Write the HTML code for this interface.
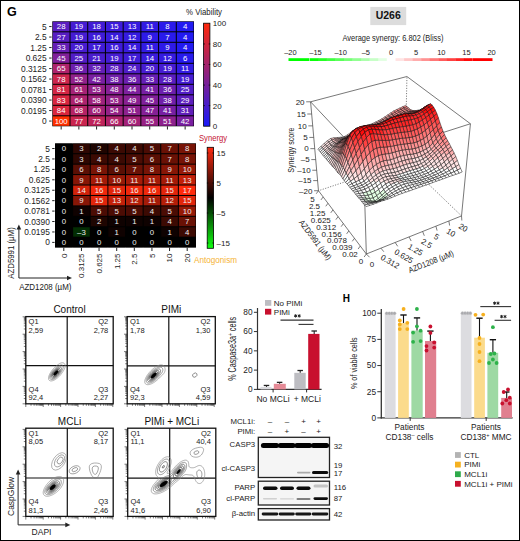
<!DOCTYPE html>
<html><head><meta charset="utf-8"><style>
html,body{margin:0;padding:0;background:#fff;}
svg{display:block;}
text{font-family:"Liberation Sans",sans-serif;}
</style></head><body>
<svg width="520" height="541" viewBox="0 0 520 541" font-family="Liberation Sans, sans-serif">
<rect x="0" y="0" width="520" height="541" fill="#fff"/>
<text x="7.00" y="15.50" font-size="12.5" text-anchor="start" fill="#000" font-weight="bold" >G</text>
<rect x="52.30" y="21.30" width="141.70" height="105.00" fill="#000" stroke="none" stroke-width="0" />
<rect x="52.80" y="21.80" width="16.71" height="9.50" fill="#591dc0" stroke="none" stroke-width="0" />
<text x="61.16" y="29.35" font-size="7.8" text-anchor="middle" fill="#fff" font-weight="normal" >28</text>
<rect x="70.51" y="21.80" width="16.71" height="9.50" fill="#451cd3" stroke="none" stroke-width="0" />
<text x="78.87" y="29.35" font-size="7.8" text-anchor="middle" fill="#fff" font-weight="normal" >19</text>
<rect x="88.22" y="21.80" width="16.71" height="9.50" fill="#421cd5" stroke="none" stroke-width="0" />
<text x="96.58" y="29.35" font-size="7.8" text-anchor="middle" fill="#fff" font-weight="normal" >18</text>
<rect x="105.94" y="21.80" width="16.71" height="9.50" fill="#3c1bdb" stroke="none" stroke-width="0" />
<text x="114.29" y="29.35" font-size="7.8" text-anchor="middle" fill="#fff" font-weight="normal" >15</text>
<rect x="123.65" y="21.80" width="16.71" height="9.50" fill="#371bdf" stroke="none" stroke-width="0" />
<text x="132.01" y="29.35" font-size="7.8" text-anchor="middle" fill="#fff" font-weight="normal" >13</text>
<rect x="141.36" y="21.80" width="16.71" height="9.50" fill="#321be3" stroke="none" stroke-width="0" />
<text x="149.72" y="29.35" font-size="7.8" text-anchor="middle" fill="#fff" font-weight="normal" >11</text>
<rect x="159.07" y="21.80" width="16.71" height="9.50" fill="#2b1aea" stroke="none" stroke-width="0" />
<text x="167.43" y="29.35" font-size="7.8" text-anchor="middle" fill="#fff" font-weight="normal" >8</text>
<rect x="176.79" y="21.80" width="16.71" height="9.50" fill="#221af2" stroke="none" stroke-width="0" />
<text x="185.14" y="29.35" font-size="7.8" text-anchor="middle" fill="#fff" font-weight="normal" >4</text>
<rect x="52.80" y="32.30" width="16.71" height="9.50" fill="#571dc2" stroke="none" stroke-width="0" />
<text x="61.16" y="39.85" font-size="7.8" text-anchor="middle" fill="#fff" font-weight="normal" >27</text>
<rect x="70.51" y="32.30" width="16.71" height="9.50" fill="#451cd3" stroke="none" stroke-width="0" />
<text x="78.87" y="39.85" font-size="7.8" text-anchor="middle" fill="#fff" font-weight="normal" >19</text>
<rect x="88.22" y="32.30" width="16.71" height="9.50" fill="#3e1bd9" stroke="none" stroke-width="0" />
<text x="96.58" y="39.85" font-size="7.8" text-anchor="middle" fill="#fff" font-weight="normal" >16</text>
<rect x="105.94" y="32.30" width="16.71" height="9.50" fill="#391bdd" stroke="none" stroke-width="0" />
<text x="114.29" y="39.85" font-size="7.8" text-anchor="middle" fill="#fff" font-weight="normal" >14</text>
<rect x="123.65" y="32.30" width="16.71" height="9.50" fill="#351be1" stroke="none" stroke-width="0" />
<text x="132.01" y="39.85" font-size="7.8" text-anchor="middle" fill="#fff" font-weight="normal" >12</text>
<rect x="141.36" y="32.30" width="16.71" height="9.50" fill="#2e1ae8" stroke="none" stroke-width="0" />
<text x="149.72" y="39.85" font-size="7.8" text-anchor="middle" fill="#fff" font-weight="normal" >9</text>
<rect x="159.07" y="32.30" width="16.71" height="9.50" fill="#291aec" stroke="none" stroke-width="0" />
<text x="167.43" y="39.85" font-size="7.8" text-anchor="middle" fill="#fff" font-weight="normal" >7</text>
<rect x="176.79" y="32.30" width="16.71" height="9.50" fill="#221af2" stroke="none" stroke-width="0" />
<text x="185.14" y="39.85" font-size="7.8" text-anchor="middle" fill="#fff" font-weight="normal" >4</text>
<rect x="52.80" y="42.80" width="16.71" height="9.50" fill="#651eb5" stroke="none" stroke-width="0" />
<text x="61.16" y="50.35" font-size="7.8" text-anchor="middle" fill="#fff" font-weight="normal" >33</text>
<rect x="70.51" y="42.80" width="16.71" height="9.50" fill="#471cd1" stroke="none" stroke-width="0" />
<text x="78.87" y="50.35" font-size="7.8" text-anchor="middle" fill="#fff" font-weight="normal" >20</text>
<rect x="88.22" y="42.80" width="16.71" height="9.50" fill="#401cd7" stroke="none" stroke-width="0" />
<text x="96.58" y="50.35" font-size="7.8" text-anchor="middle" fill="#fff" font-weight="normal" >17</text>
<rect x="105.94" y="42.80" width="16.71" height="9.50" fill="#3e1bd9" stroke="none" stroke-width="0" />
<text x="114.29" y="50.35" font-size="7.8" text-anchor="middle" fill="#fff" font-weight="normal" >16</text>
<rect x="123.65" y="42.80" width="16.71" height="9.50" fill="#391bdd" stroke="none" stroke-width="0" />
<text x="132.01" y="50.35" font-size="7.8" text-anchor="middle" fill="#fff" font-weight="normal" >14</text>
<rect x="141.36" y="42.80" width="16.71" height="9.50" fill="#321be3" stroke="none" stroke-width="0" />
<text x="149.72" y="50.35" font-size="7.8" text-anchor="middle" fill="#fff" font-weight="normal" >11</text>
<rect x="159.07" y="42.80" width="16.71" height="9.50" fill="#2e1ae8" stroke="none" stroke-width="0" />
<text x="167.43" y="50.35" font-size="7.8" text-anchor="middle" fill="#fff" font-weight="normal" >9</text>
<rect x="176.79" y="42.80" width="16.71" height="9.50" fill="#221af2" stroke="none" stroke-width="0" />
<text x="185.14" y="50.35" font-size="7.8" text-anchor="middle" fill="#fff" font-weight="normal" >4</text>
<rect x="52.80" y="53.30" width="16.71" height="9.50" fill="#80209a" stroke="none" stroke-width="0" />
<text x="61.16" y="60.85" font-size="7.8" text-anchor="middle" fill="#fff" font-weight="normal" >45</text>
<rect x="70.51" y="53.30" width="16.71" height="9.50" fill="#521dc6" stroke="none" stroke-width="0" />
<text x="78.87" y="60.85" font-size="7.8" text-anchor="middle" fill="#fff" font-weight="normal" >25</text>
<rect x="88.22" y="53.30" width="16.71" height="9.50" fill="#491cce" stroke="none" stroke-width="0" />
<text x="96.58" y="60.85" font-size="7.8" text-anchor="middle" fill="#fff" font-weight="normal" >21</text>
<rect x="105.94" y="53.30" width="16.71" height="9.50" fill="#451cd3" stroke="none" stroke-width="0" />
<text x="114.29" y="60.85" font-size="7.8" text-anchor="middle" fill="#fff" font-weight="normal" >19</text>
<rect x="123.65" y="53.30" width="16.71" height="9.50" fill="#401cd7" stroke="none" stroke-width="0" />
<text x="132.01" y="60.85" font-size="7.8" text-anchor="middle" fill="#fff" font-weight="normal" >17</text>
<rect x="141.36" y="53.30" width="16.71" height="9.50" fill="#391bdd" stroke="none" stroke-width="0" />
<text x="149.72" y="60.85" font-size="7.8" text-anchor="middle" fill="#fff" font-weight="normal" >14</text>
<rect x="159.07" y="53.30" width="16.71" height="9.50" fill="#351be1" stroke="none" stroke-width="0" />
<text x="167.43" y="60.85" font-size="7.8" text-anchor="middle" fill="#fff" font-weight="normal" >12</text>
<rect x="176.79" y="53.30" width="16.71" height="9.50" fill="#271aee" stroke="none" stroke-width="0" />
<text x="185.14" y="60.85" font-size="7.8" text-anchor="middle" fill="#fff" font-weight="normal" >6</text>
<rect x="52.80" y="63.80" width="16.71" height="9.50" fill="#ae236c" stroke="none" stroke-width="0" />
<text x="61.16" y="71.35" font-size="7.8" text-anchor="middle" fill="#fff" font-weight="normal" >65</text>
<rect x="70.51" y="63.80" width="16.71" height="9.50" fill="#6c1eae" stroke="none" stroke-width="0" />
<text x="78.87" y="71.35" font-size="7.8" text-anchor="middle" fill="#fff" font-weight="normal" >36</text>
<rect x="88.22" y="63.80" width="16.71" height="9.50" fill="#631eb7" stroke="none" stroke-width="0" />
<text x="96.58" y="71.35" font-size="7.8" text-anchor="middle" fill="#fff" font-weight="normal" >32</text>
<rect x="105.94" y="63.80" width="16.71" height="9.50" fill="#591dc0" stroke="none" stroke-width="0" />
<text x="114.29" y="71.35" font-size="7.8" text-anchor="middle" fill="#fff" font-weight="normal" >28</text>
<rect x="123.65" y="63.80" width="16.71" height="9.50" fill="#501dc8" stroke="none" stroke-width="0" />
<text x="132.01" y="71.35" font-size="7.8" text-anchor="middle" fill="#fff" font-weight="normal" >24</text>
<rect x="141.36" y="63.80" width="16.71" height="9.50" fill="#471cd1" stroke="none" stroke-width="0" />
<text x="149.72" y="71.35" font-size="7.8" text-anchor="middle" fill="#fff" font-weight="normal" >20</text>
<rect x="159.07" y="63.80" width="16.71" height="9.50" fill="#451cd3" stroke="none" stroke-width="0" />
<text x="167.43" y="71.35" font-size="7.8" text-anchor="middle" fill="#fff" font-weight="normal" >19</text>
<rect x="176.79" y="63.80" width="16.71" height="9.50" fill="#321be3" stroke="none" stroke-width="0" />
<text x="185.14" y="71.35" font-size="7.8" text-anchor="middle" fill="#fff" font-weight="normal" >11</text>
<rect x="52.80" y="74.30" width="16.71" height="9.50" fill="#cc254c" stroke="none" stroke-width="0" />
<text x="61.16" y="81.85" font-size="7.8" text-anchor="middle" fill="#fff" font-weight="normal" >78</text>
<rect x="70.51" y="74.30" width="16.71" height="9.50" fill="#91218b" stroke="none" stroke-width="0" />
<text x="78.87" y="81.85" font-size="7.8" text-anchor="middle" fill="#fff" font-weight="normal" >52</text>
<rect x="88.22" y="74.30" width="16.71" height="9.50" fill="#7a1fa1" stroke="none" stroke-width="0" />
<text x="96.58" y="81.85" font-size="7.8" text-anchor="middle" fill="#fff" font-weight="normal" >42</text>
<rect x="105.94" y="74.30" width="16.71" height="9.50" fill="#701faa" stroke="none" stroke-width="0" />
<text x="114.29" y="81.85" font-size="7.8" text-anchor="middle" fill="#fff" font-weight="normal" >38</text>
<rect x="123.65" y="74.30" width="16.71" height="9.50" fill="#6c1eae" stroke="none" stroke-width="0" />
<text x="132.01" y="81.85" font-size="7.8" text-anchor="middle" fill="#fff" font-weight="normal" >36</text>
<rect x="141.36" y="74.30" width="16.71" height="9.50" fill="#651eb5" stroke="none" stroke-width="0" />
<text x="149.72" y="81.85" font-size="7.8" text-anchor="middle" fill="#fff" font-weight="normal" >33</text>
<rect x="159.07" y="74.30" width="16.71" height="9.50" fill="#591dc0" stroke="none" stroke-width="0" />
<text x="167.43" y="81.85" font-size="7.8" text-anchor="middle" fill="#fff" font-weight="normal" >28</text>
<rect x="176.79" y="74.30" width="16.71" height="9.50" fill="#451cd3" stroke="none" stroke-width="0" />
<text x="185.14" y="81.85" font-size="7.8" text-anchor="middle" fill="#fff" font-weight="normal" >19</text>
<rect x="52.80" y="84.80" width="16.71" height="9.50" fill="#d32544" stroke="none" stroke-width="0" />
<text x="61.16" y="92.35" font-size="7.8" text-anchor="middle" fill="#fff" font-weight="normal" >81</text>
<rect x="70.51" y="84.80" width="16.71" height="9.50" fill="#a52276" stroke="none" stroke-width="0" />
<text x="78.87" y="92.35" font-size="7.8" text-anchor="middle" fill="#fff" font-weight="normal" >61</text>
<rect x="88.22" y="84.80" width="16.71" height="9.50" fill="#932188" stroke="none" stroke-width="0" />
<text x="96.58" y="92.35" font-size="7.8" text-anchor="middle" fill="#fff" font-weight="normal" >53</text>
<rect x="105.94" y="84.80" width="16.71" height="9.50" fill="#872094" stroke="none" stroke-width="0" />
<text x="114.29" y="92.35" font-size="7.8" text-anchor="middle" fill="#fff" font-weight="normal" >48</text>
<rect x="123.65" y="84.80" width="16.71" height="9.50" fill="#7e209d" stroke="none" stroke-width="0" />
<text x="132.01" y="92.35" font-size="7.8" text-anchor="middle" fill="#fff" font-weight="normal" >44</text>
<rect x="141.36" y="84.80" width="16.71" height="9.50" fill="#771fa3" stroke="none" stroke-width="0" />
<text x="149.72" y="92.35" font-size="7.8" text-anchor="middle" fill="#fff" font-weight="normal" >41</text>
<rect x="159.07" y="84.80" width="16.71" height="9.50" fill="#6c1eae" stroke="none" stroke-width="0" />
<text x="167.43" y="92.35" font-size="7.8" text-anchor="middle" fill="#fff" font-weight="normal" >36</text>
<rect x="176.79" y="84.80" width="16.71" height="9.50" fill="#521dc6" stroke="none" stroke-width="0" />
<text x="185.14" y="92.35" font-size="7.8" text-anchor="middle" fill="#fff" font-weight="normal" >25</text>
<rect x="52.80" y="95.30" width="16.71" height="9.50" fill="#d8253f" stroke="none" stroke-width="0" />
<text x="61.16" y="102.85" font-size="7.8" text-anchor="middle" fill="#fff" font-weight="normal" >83</text>
<rect x="70.51" y="95.30" width="16.71" height="9.50" fill="#ac236f" stroke="none" stroke-width="0" />
<text x="78.87" y="102.85" font-size="7.8" text-anchor="middle" fill="#fff" font-weight="normal" >64</text>
<rect x="88.22" y="95.30" width="16.71" height="9.50" fill="#9e227d" stroke="none" stroke-width="0" />
<text x="96.58" y="102.85" font-size="7.8" text-anchor="middle" fill="#fff" font-weight="normal" >58</text>
<rect x="105.94" y="95.30" width="16.71" height="9.50" fill="#932188" stroke="none" stroke-width="0" />
<text x="114.29" y="102.85" font-size="7.8" text-anchor="middle" fill="#fff" font-weight="normal" >53</text>
<rect x="123.65" y="95.30" width="16.71" height="9.50" fill="#8a2091" stroke="none" stroke-width="0" />
<text x="132.01" y="102.85" font-size="7.8" text-anchor="middle" fill="#fff" font-weight="normal" >49</text>
<rect x="141.36" y="95.30" width="16.71" height="9.50" fill="#80209a" stroke="none" stroke-width="0" />
<text x="149.72" y="102.85" font-size="7.8" text-anchor="middle" fill="#fff" font-weight="normal" >45</text>
<rect x="159.07" y="95.30" width="16.71" height="9.50" fill="#701faa" stroke="none" stroke-width="0" />
<text x="167.43" y="102.85" font-size="7.8" text-anchor="middle" fill="#fff" font-weight="normal" >38</text>
<rect x="176.79" y="95.30" width="16.71" height="9.50" fill="#5c1dbd" stroke="none" stroke-width="0" />
<text x="185.14" y="102.85" font-size="7.8" text-anchor="middle" fill="#fff" font-weight="normal" >29</text>
<rect x="52.80" y="105.80" width="16.71" height="9.50" fill="#da263d" stroke="none" stroke-width="0" />
<text x="61.16" y="113.35" font-size="7.8" text-anchor="middle" fill="#fff" font-weight="normal" >84</text>
<rect x="70.51" y="105.80" width="16.71" height="9.50" fill="#b52365" stroke="none" stroke-width="0" />
<text x="78.87" y="113.35" font-size="7.8" text-anchor="middle" fill="#fff" font-weight="normal" >68</text>
<rect x="88.22" y="105.80" width="16.71" height="9.50" fill="#a32278" stroke="none" stroke-width="0" />
<text x="96.58" y="113.35" font-size="7.8" text-anchor="middle" fill="#fff" font-weight="normal" >60</text>
<rect x="105.94" y="105.80" width="16.71" height="9.50" fill="#952186" stroke="none" stroke-width="0" />
<text x="114.29" y="113.35" font-size="7.8" text-anchor="middle" fill="#fff" font-weight="normal" >54</text>
<rect x="123.65" y="105.80" width="16.71" height="9.50" fill="#8e218d" stroke="none" stroke-width="0" />
<text x="132.01" y="113.35" font-size="7.8" text-anchor="middle" fill="#fff" font-weight="normal" >51</text>
<rect x="141.36" y="105.80" width="16.71" height="9.50" fill="#852096" stroke="none" stroke-width="0" />
<text x="149.72" y="113.35" font-size="7.8" text-anchor="middle" fill="#fff" font-weight="normal" >47</text>
<rect x="159.07" y="105.80" width="16.71" height="9.50" fill="#771fa3" stroke="none" stroke-width="0" />
<text x="167.43" y="113.35" font-size="7.8" text-anchor="middle" fill="#fff" font-weight="normal" >41</text>
<rect x="176.79" y="105.80" width="16.71" height="9.50" fill="#601eb9" stroke="none" stroke-width="0" />
<text x="185.14" y="113.35" font-size="7.8" text-anchor="middle" fill="#fff" font-weight="normal" >31</text>
<rect x="52.80" y="116.30" width="16.71" height="9.50" fill="#ff3000" stroke="none" stroke-width="0" />
<text x="61.16" y="123.85" font-size="7.8" text-anchor="middle" fill="#fff" font-weight="normal" >100</text>
<rect x="70.51" y="116.30" width="16.71" height="9.50" fill="#ca254f" stroke="none" stroke-width="0" />
<text x="78.87" y="123.85" font-size="7.8" text-anchor="middle" fill="#fff" font-weight="normal" >77</text>
<rect x="88.22" y="116.30" width="16.71" height="9.50" fill="#bf245b" stroke="none" stroke-width="0" />
<text x="96.58" y="123.85" font-size="7.8" text-anchor="middle" fill="#fff" font-weight="normal" >72</text>
<rect x="105.94" y="116.30" width="16.71" height="9.50" fill="#b1236a" stroke="none" stroke-width="0" />
<text x="114.29" y="123.85" font-size="7.8" text-anchor="middle" fill="#fff" font-weight="normal" >66</text>
<rect x="123.65" y="116.30" width="16.71" height="9.50" fill="#a32278" stroke="none" stroke-width="0" />
<text x="132.01" y="123.85" font-size="7.8" text-anchor="middle" fill="#fff" font-weight="normal" >60</text>
<rect x="141.36" y="116.30" width="16.71" height="9.50" fill="#982184" stroke="none" stroke-width="0" />
<text x="149.72" y="123.85" font-size="7.8" text-anchor="middle" fill="#fff" font-weight="normal" >55</text>
<rect x="159.07" y="116.30" width="16.71" height="9.50" fill="#8e218d" stroke="none" stroke-width="0" />
<text x="167.43" y="123.85" font-size="7.8" text-anchor="middle" fill="#fff" font-weight="normal" >51</text>
<rect x="176.79" y="116.30" width="16.71" height="9.50" fill="#7a1fa1" stroke="none" stroke-width="0" />
<text x="185.14" y="123.85" font-size="7.8" text-anchor="middle" fill="#fff" font-weight="normal" >42</text>
<line x1="49.20" y1="26.55" x2="51.60" y2="26.55" stroke="#222" stroke-width="1" />
<text x="46.60" y="29.55" font-size="8.4" text-anchor="end" fill="#222" font-weight="normal" >5</text>
<line x1="49.20" y1="37.05" x2="51.60" y2="37.05" stroke="#222" stroke-width="1" />
<text x="46.60" y="40.05" font-size="8.4" text-anchor="end" fill="#222" font-weight="normal" >2.5</text>
<line x1="49.20" y1="47.55" x2="51.60" y2="47.55" stroke="#222" stroke-width="1" />
<text x="46.60" y="50.55" font-size="8.4" text-anchor="end" fill="#222" font-weight="normal" >1.25</text>
<line x1="49.20" y1="58.05" x2="51.60" y2="58.05" stroke="#222" stroke-width="1" />
<text x="46.60" y="61.05" font-size="8.4" text-anchor="end" fill="#222" font-weight="normal" >0.625</text>
<line x1="49.20" y1="68.55" x2="51.60" y2="68.55" stroke="#222" stroke-width="1" />
<text x="46.60" y="71.55" font-size="8.4" text-anchor="end" fill="#222" font-weight="normal" >0.3125</text>
<line x1="49.20" y1="79.05" x2="51.60" y2="79.05" stroke="#222" stroke-width="1" />
<text x="46.60" y="82.05" font-size="8.4" text-anchor="end" fill="#222" font-weight="normal" >0.1562</text>
<line x1="49.20" y1="89.55" x2="51.60" y2="89.55" stroke="#222" stroke-width="1" />
<text x="46.60" y="92.55" font-size="8.4" text-anchor="end" fill="#222" font-weight="normal" >0.0781</text>
<line x1="49.20" y1="100.05" x2="51.60" y2="100.05" stroke="#222" stroke-width="1" />
<text x="46.60" y="103.05" font-size="8.4" text-anchor="end" fill="#222" font-weight="normal" >0.0390</text>
<line x1="49.20" y1="110.55" x2="51.60" y2="110.55" stroke="#222" stroke-width="1" />
<text x="46.60" y="113.55" font-size="8.4" text-anchor="end" fill="#222" font-weight="normal" >0.0195</text>
<line x1="49.20" y1="121.05" x2="51.60" y2="121.05" stroke="#222" stroke-width="1" />
<text x="46.60" y="124.05" font-size="8.4" text-anchor="end" fill="#222" font-weight="normal" >0</text>
<line x1="61.16" y1="126.30" x2="61.16" y2="129.50" stroke="#222" stroke-width="1" />
<line x1="78.87" y1="126.30" x2="78.87" y2="129.50" stroke="#222" stroke-width="1" />
<line x1="96.58" y1="126.30" x2="96.58" y2="129.50" stroke="#222" stroke-width="1" />
<line x1="114.29" y1="126.30" x2="114.29" y2="129.50" stroke="#222" stroke-width="1" />
<line x1="132.01" y1="126.30" x2="132.01" y2="129.50" stroke="#222" stroke-width="1" />
<line x1="149.72" y1="126.30" x2="149.72" y2="129.50" stroke="#222" stroke-width="1" />
<line x1="167.43" y1="126.30" x2="167.43" y2="129.50" stroke="#222" stroke-width="1" />
<line x1="185.14" y1="126.30" x2="185.14" y2="129.50" stroke="#222" stroke-width="1" />
<defs><linearGradient id="cb1" x1="0" y1="1" x2="0" y2="0"><stop offset="0" stop-color="#1919fa"/><stop offset="1" stop-color="#ff280a"/></linearGradient>
<linearGradient id="cb2" x1="0" y1="1" x2="0" y2="0"><stop offset="0" stop-color="#10ff10"/><stop offset="0.5" stop-color="#000"/><stop offset="1" stop-color="#ff2a10"/></linearGradient></defs>
<rect x="203.60" y="23.20" width="6.30" height="103.00" fill="url(#cb1)" stroke="#000" stroke-width="0.8" />
<text x="212.80" y="26.30" font-size="8" text-anchor="start" fill="#222" font-weight="normal" >100</text>
<line x1="203.30" y1="43.96" x2="204.80" y2="43.96" stroke="#000" stroke-width="0.8" />
<line x1="208.70" y1="43.96" x2="210.20" y2="43.96" stroke="#000" stroke-width="0.8" />
<text x="212.80" y="46.86" font-size="8" text-anchor="start" fill="#222" font-weight="normal" >80</text>
<line x1="203.30" y1="64.52" x2="204.80" y2="64.52" stroke="#000" stroke-width="0.8" />
<line x1="208.70" y1="64.52" x2="210.20" y2="64.52" stroke="#000" stroke-width="0.8" />
<text x="212.80" y="67.42" font-size="8" text-anchor="start" fill="#222" font-weight="normal" >60</text>
<line x1="203.30" y1="85.08" x2="204.80" y2="85.08" stroke="#000" stroke-width="0.8" />
<line x1="208.70" y1="85.08" x2="210.20" y2="85.08" stroke="#000" stroke-width="0.8" />
<text x="212.80" y="87.98" font-size="8" text-anchor="start" fill="#222" font-weight="normal" >40</text>
<line x1="203.30" y1="105.64" x2="204.80" y2="105.64" stroke="#000" stroke-width="0.8" />
<line x1="208.70" y1="105.64" x2="210.20" y2="105.64" stroke="#000" stroke-width="0.8" />
<text x="212.80" y="108.54" font-size="8" text-anchor="start" fill="#222" font-weight="normal" >20</text>
<text x="212.80" y="129.10" font-size="8" text-anchor="start" fill="#222" font-weight="normal" >0</text>
<text x="204.00" y="15.20" font-size="8.6" text-anchor="middle" fill="#222" font-weight="normal" textLength="36" lengthAdjust="spacingAndGlyphs">% Viability</text>
<text x="213.00" y="141.00" font-size="8.6" text-anchor="middle" fill="#c41230" font-weight="normal" textLength="28" lengthAdjust="spacingAndGlyphs">Synergy</text>
<rect x="55.00" y="143.30" width="141.00" height="104.30" fill="#000" stroke="none" stroke-width="0" />
<rect x="55.50" y="143.80" width="16.62" height="9.43" fill="#000000" stroke="none" stroke-width="0" />
<text x="63.81" y="151.32" font-size="7.8" text-anchor="middle" fill="#eee" font-weight="normal" >0</text>
<rect x="73.12" y="143.80" width="16.62" height="9.43" fill="#2d0702" stroke="none" stroke-width="0" />
<text x="81.44" y="151.32" font-size="7.8" text-anchor="middle" fill="#eee" font-weight="normal" >3</text>
<rect x="90.75" y="143.80" width="16.62" height="9.43" fill="#1e0501" stroke="none" stroke-width="0" />
<text x="99.06" y="151.32" font-size="7.8" text-anchor="middle" fill="#eee" font-weight="normal" >2</text>
<rect x="108.38" y="143.80" width="16.62" height="9.43" fill="#3c0a03" stroke="none" stroke-width="0" />
<text x="116.69" y="151.32" font-size="7.8" text-anchor="middle" fill="#eee" font-weight="normal" >4</text>
<rect x="126.00" y="143.80" width="16.62" height="9.43" fill="#3c0a03" stroke="none" stroke-width="0" />
<text x="134.31" y="151.32" font-size="7.8" text-anchor="middle" fill="#eee" font-weight="normal" >4</text>
<rect x="143.62" y="143.80" width="16.62" height="9.43" fill="#4b0c04" stroke="none" stroke-width="0" />
<text x="151.94" y="151.32" font-size="7.8" text-anchor="middle" fill="#eee" font-weight="normal" >5</text>
<rect x="161.25" y="143.80" width="16.62" height="9.43" fill="#691105" stroke="none" stroke-width="0" />
<text x="169.56" y="151.32" font-size="7.8" text-anchor="middle" fill="#eee" font-weight="normal" >7</text>
<rect x="178.88" y="143.80" width="16.62" height="9.43" fill="#781406" stroke="none" stroke-width="0" />
<text x="187.19" y="151.32" font-size="7.8" text-anchor="middle" fill="#eee" font-weight="normal" >8</text>
<rect x="55.50" y="154.23" width="16.62" height="9.43" fill="#000000" stroke="none" stroke-width="0" />
<text x="63.81" y="161.75" font-size="7.8" text-anchor="middle" fill="#eee" font-weight="normal" >0</text>
<rect x="73.12" y="154.23" width="16.62" height="9.43" fill="#2d0702" stroke="none" stroke-width="0" />
<text x="81.44" y="161.75" font-size="7.8" text-anchor="middle" fill="#eee" font-weight="normal" >3</text>
<rect x="90.75" y="154.23" width="16.62" height="9.43" fill="#3c0a03" stroke="none" stroke-width="0" />
<text x="99.06" y="161.75" font-size="7.8" text-anchor="middle" fill="#eee" font-weight="normal" >4</text>
<rect x="108.38" y="154.23" width="16.62" height="9.43" fill="#3c0a03" stroke="none" stroke-width="0" />
<text x="116.69" y="161.75" font-size="7.8" text-anchor="middle" fill="#eee" font-weight="normal" >4</text>
<rect x="126.00" y="154.23" width="16.62" height="9.43" fill="#4b0c04" stroke="none" stroke-width="0" />
<text x="134.31" y="161.75" font-size="7.8" text-anchor="middle" fill="#eee" font-weight="normal" >5</text>
<rect x="143.62" y="154.23" width="16.62" height="9.43" fill="#5a0f04" stroke="none" stroke-width="0" />
<text x="151.94" y="161.75" font-size="7.8" text-anchor="middle" fill="#eee" font-weight="normal" >6</text>
<rect x="161.25" y="154.23" width="16.62" height="9.43" fill="#691105" stroke="none" stroke-width="0" />
<text x="169.56" y="161.75" font-size="7.8" text-anchor="middle" fill="#eee" font-weight="normal" >7</text>
<rect x="178.88" y="154.23" width="16.62" height="9.43" fill="#781406" stroke="none" stroke-width="0" />
<text x="187.19" y="161.75" font-size="7.8" text-anchor="middle" fill="#eee" font-weight="normal" >8</text>
<rect x="55.50" y="164.66" width="16.62" height="9.43" fill="#000000" stroke="none" stroke-width="0" />
<text x="63.81" y="172.18" font-size="7.8" text-anchor="middle" fill="#eee" font-weight="normal" >0</text>
<rect x="73.12" y="164.66" width="16.62" height="9.43" fill="#5a0f04" stroke="none" stroke-width="0" />
<text x="81.44" y="172.18" font-size="7.8" text-anchor="middle" fill="#eee" font-weight="normal" >6</text>
<rect x="90.75" y="164.66" width="16.62" height="9.43" fill="#781406" stroke="none" stroke-width="0" />
<text x="99.06" y="172.18" font-size="7.8" text-anchor="middle" fill="#eee" font-weight="normal" >8</text>
<rect x="108.38" y="164.66" width="16.62" height="9.43" fill="#5a0f04" stroke="none" stroke-width="0" />
<text x="116.69" y="172.18" font-size="7.8" text-anchor="middle" fill="#eee" font-weight="normal" >6</text>
<rect x="126.00" y="164.66" width="16.62" height="9.43" fill="#691105" stroke="none" stroke-width="0" />
<text x="134.31" y="172.18" font-size="7.8" text-anchor="middle" fill="#eee" font-weight="normal" >7</text>
<rect x="143.62" y="164.66" width="16.62" height="9.43" fill="#781406" stroke="none" stroke-width="0" />
<text x="151.94" y="172.18" font-size="7.8" text-anchor="middle" fill="#eee" font-weight="normal" >8</text>
<rect x="161.25" y="164.66" width="16.62" height="9.43" fill="#871606" stroke="none" stroke-width="0" />
<text x="169.56" y="172.18" font-size="7.8" text-anchor="middle" fill="#eee" font-weight="normal" >9</text>
<rect x="178.88" y="164.66" width="16.62" height="9.43" fill="#961907" stroke="none" stroke-width="0" />
<text x="187.19" y="172.18" font-size="7.8" text-anchor="middle" fill="#eee" font-weight="normal" >10</text>
<rect x="55.50" y="175.09" width="16.62" height="9.43" fill="#000000" stroke="none" stroke-width="0" />
<text x="63.81" y="182.61" font-size="7.8" text-anchor="middle" fill="#eee" font-weight="normal" >0</text>
<rect x="73.12" y="175.09" width="16.62" height="9.43" fill="#871606" stroke="none" stroke-width="0" />
<text x="81.44" y="182.61" font-size="7.8" text-anchor="middle" fill="#eee" font-weight="normal" >9</text>
<rect x="90.75" y="175.09" width="16.62" height="9.43" fill="#a51b08" stroke="none" stroke-width="0" />
<text x="99.06" y="182.61" font-size="7.8" text-anchor="middle" fill="#eee" font-weight="normal" >11</text>
<rect x="108.38" y="175.09" width="16.62" height="9.43" fill="#961907" stroke="none" stroke-width="0" />
<text x="116.69" y="182.61" font-size="7.8" text-anchor="middle" fill="#eee" font-weight="normal" >10</text>
<rect x="126.00" y="175.09" width="16.62" height="9.43" fill="#a51b08" stroke="none" stroke-width="0" />
<text x="134.31" y="182.61" font-size="7.8" text-anchor="middle" fill="#eee" font-weight="normal" >11</text>
<rect x="143.62" y="175.09" width="16.62" height="9.43" fill="#a51b08" stroke="none" stroke-width="0" />
<text x="151.94" y="182.61" font-size="7.8" text-anchor="middle" fill="#eee" font-weight="normal" >11</text>
<rect x="161.25" y="175.09" width="16.62" height="9.43" fill="#a51b08" stroke="none" stroke-width="0" />
<text x="169.56" y="182.61" font-size="7.8" text-anchor="middle" fill="#eee" font-weight="normal" >11</text>
<rect x="178.88" y="175.09" width="16.62" height="9.43" fill="#c32009" stroke="none" stroke-width="0" />
<text x="187.19" y="182.61" font-size="7.8" text-anchor="middle" fill="#eee" font-weight="normal" >13</text>
<rect x="55.50" y="185.52" width="16.62" height="9.43" fill="#000000" stroke="none" stroke-width="0" />
<text x="63.81" y="193.04" font-size="7.8" text-anchor="middle" fill="#eee" font-weight="normal" >0</text>
<rect x="73.12" y="185.52" width="16.62" height="9.43" fill="#d2230a" stroke="none" stroke-width="0" />
<text x="81.44" y="193.04" font-size="7.8" text-anchor="middle" fill="#eee" font-weight="normal" >14</text>
<rect x="90.75" y="185.52" width="16.62" height="9.43" fill="#f0280b" stroke="none" stroke-width="0" />
<text x="99.06" y="193.04" font-size="7.8" text-anchor="middle" fill="#eee" font-weight="normal" >16</text>
<rect x="108.38" y="185.52" width="16.62" height="9.43" fill="#e1250b" stroke="none" stroke-width="0" />
<text x="116.69" y="193.04" font-size="7.8" text-anchor="middle" fill="#eee" font-weight="normal" >15</text>
<rect x="126.00" y="185.52" width="16.62" height="9.43" fill="#f0280b" stroke="none" stroke-width="0" />
<text x="134.31" y="193.04" font-size="7.8" text-anchor="middle" fill="#eee" font-weight="normal" >16</text>
<rect x="143.62" y="185.52" width="16.62" height="9.43" fill="#f0280b" stroke="none" stroke-width="0" />
<text x="151.94" y="193.04" font-size="7.8" text-anchor="middle" fill="#eee" font-weight="normal" >16</text>
<rect x="161.25" y="185.52" width="16.62" height="9.43" fill="#e1250b" stroke="none" stroke-width="0" />
<text x="169.56" y="193.04" font-size="7.8" text-anchor="middle" fill="#eee" font-weight="normal" >15</text>
<rect x="178.88" y="185.52" width="16.62" height="9.43" fill="#ff2a0c" stroke="none" stroke-width="0" />
<text x="187.19" y="193.04" font-size="7.8" text-anchor="middle" fill="#eee" font-weight="normal" >17</text>
<rect x="55.50" y="195.95" width="16.62" height="9.43" fill="#000000" stroke="none" stroke-width="0" />
<text x="63.81" y="203.47" font-size="7.8" text-anchor="middle" fill="#eee" font-weight="normal" >0</text>
<rect x="73.12" y="195.95" width="16.62" height="9.43" fill="#871606" stroke="none" stroke-width="0" />
<text x="81.44" y="203.47" font-size="7.8" text-anchor="middle" fill="#eee" font-weight="normal" >9</text>
<rect x="90.75" y="195.95" width="16.62" height="9.43" fill="#e1250b" stroke="none" stroke-width="0" />
<text x="99.06" y="203.47" font-size="7.8" text-anchor="middle" fill="#eee" font-weight="normal" >15</text>
<rect x="108.38" y="195.95" width="16.62" height="9.43" fill="#c32009" stroke="none" stroke-width="0" />
<text x="116.69" y="203.47" font-size="7.8" text-anchor="middle" fill="#eee" font-weight="normal" >13</text>
<rect x="126.00" y="195.95" width="16.62" height="9.43" fill="#b41e08" stroke="none" stroke-width="0" />
<text x="134.31" y="203.47" font-size="7.8" text-anchor="middle" fill="#eee" font-weight="normal" >12</text>
<rect x="143.62" y="195.95" width="16.62" height="9.43" fill="#a51b08" stroke="none" stroke-width="0" />
<text x="151.94" y="203.47" font-size="7.8" text-anchor="middle" fill="#eee" font-weight="normal" >11</text>
<rect x="161.25" y="195.95" width="16.62" height="9.43" fill="#b41e08" stroke="none" stroke-width="0" />
<text x="169.56" y="203.47" font-size="7.8" text-anchor="middle" fill="#eee" font-weight="normal" >12</text>
<rect x="178.88" y="195.95" width="16.62" height="9.43" fill="#e1250b" stroke="none" stroke-width="0" />
<text x="187.19" y="203.47" font-size="7.8" text-anchor="middle" fill="#eee" font-weight="normal" >15</text>
<rect x="55.50" y="206.38" width="16.62" height="9.43" fill="#000000" stroke="none" stroke-width="0" />
<text x="63.81" y="213.90" font-size="7.8" text-anchor="middle" fill="#eee" font-weight="normal" >0</text>
<rect x="73.12" y="206.38" width="16.62" height="9.43" fill="#0f0201" stroke="none" stroke-width="0" />
<text x="81.44" y="213.90" font-size="7.8" text-anchor="middle" fill="#eee" font-weight="normal" >1</text>
<rect x="90.75" y="206.38" width="16.62" height="9.43" fill="#4b0c04" stroke="none" stroke-width="0" />
<text x="99.06" y="213.90" font-size="7.8" text-anchor="middle" fill="#eee" font-weight="normal" >5</text>
<rect x="108.38" y="206.38" width="16.62" height="9.43" fill="#4b0c04" stroke="none" stroke-width="0" />
<text x="116.69" y="213.90" font-size="7.8" text-anchor="middle" fill="#eee" font-weight="normal" >5</text>
<rect x="126.00" y="206.38" width="16.62" height="9.43" fill="#4b0c04" stroke="none" stroke-width="0" />
<text x="134.31" y="213.90" font-size="7.8" text-anchor="middle" fill="#eee" font-weight="normal" >5</text>
<rect x="143.62" y="206.38" width="16.62" height="9.43" fill="#3c0a03" stroke="none" stroke-width="0" />
<text x="151.94" y="213.90" font-size="7.8" text-anchor="middle" fill="#eee" font-weight="normal" >4</text>
<rect x="161.25" y="206.38" width="16.62" height="9.43" fill="#4b0c04" stroke="none" stroke-width="0" />
<text x="169.56" y="213.90" font-size="7.8" text-anchor="middle" fill="#eee" font-weight="normal" >5</text>
<rect x="178.88" y="206.38" width="16.62" height="9.43" fill="#961907" stroke="none" stroke-width="0" />
<text x="187.19" y="213.90" font-size="7.8" text-anchor="middle" fill="#eee" font-weight="normal" >10</text>
<rect x="55.50" y="216.81" width="16.62" height="9.43" fill="#000000" stroke="none" stroke-width="0" />
<text x="63.81" y="224.33" font-size="7.8" text-anchor="middle" fill="#eee" font-weight="normal" >0</text>
<rect x="73.12" y="216.81" width="16.62" height="9.43" fill="#000000" stroke="none" stroke-width="0" />
<text x="81.44" y="224.33" font-size="7.8" text-anchor="middle" fill="#eee" font-weight="normal" >0</text>
<rect x="90.75" y="216.81" width="16.62" height="9.43" fill="#1e0501" stroke="none" stroke-width="0" />
<text x="99.06" y="224.33" font-size="7.8" text-anchor="middle" fill="#eee" font-weight="normal" >2</text>
<rect x="108.38" y="216.81" width="16.62" height="9.43" fill="#0f0201" stroke="none" stroke-width="0" />
<text x="116.69" y="224.33" font-size="7.8" text-anchor="middle" fill="#eee" font-weight="normal" >1</text>
<rect x="126.00" y="216.81" width="16.62" height="9.43" fill="#0f0201" stroke="none" stroke-width="0" />
<text x="134.31" y="224.33" font-size="7.8" text-anchor="middle" fill="#eee" font-weight="normal" >1</text>
<rect x="143.62" y="216.81" width="16.62" height="9.43" fill="#0f0201" stroke="none" stroke-width="0" />
<text x="151.94" y="224.33" font-size="7.8" text-anchor="middle" fill="#eee" font-weight="normal" >1</text>
<rect x="161.25" y="216.81" width="16.62" height="9.43" fill="#3c0a03" stroke="none" stroke-width="0" />
<text x="169.56" y="224.33" font-size="7.8" text-anchor="middle" fill="#eee" font-weight="normal" >4</text>
<rect x="178.88" y="216.81" width="16.62" height="9.43" fill="#691105" stroke="none" stroke-width="0" />
<text x="187.19" y="224.33" font-size="7.8" text-anchor="middle" fill="#eee" font-weight="normal" >7</text>
<rect x="55.50" y="227.24" width="16.62" height="9.43" fill="#000000" stroke="none" stroke-width="0" />
<text x="63.81" y="234.76" font-size="7.8" text-anchor="middle" fill="#eee" font-weight="normal" >0</text>
<rect x="73.12" y="227.24" width="16.62" height="9.43" fill="#032d03" stroke="none" stroke-width="0" />
<text x="81.44" y="234.76" font-size="7.8" text-anchor="middle" fill="#eee" font-weight="normal" >&#8211;3</text>
<rect x="90.75" y="227.24" width="16.62" height="9.43" fill="#000000" stroke="none" stroke-width="0" />
<text x="99.06" y="234.76" font-size="7.8" text-anchor="middle" fill="#eee" font-weight="normal" >0</text>
<rect x="108.38" y="227.24" width="16.62" height="9.43" fill="#0f0201" stroke="none" stroke-width="0" />
<text x="116.69" y="234.76" font-size="7.8" text-anchor="middle" fill="#eee" font-weight="normal" >1</text>
<rect x="126.00" y="227.24" width="16.62" height="9.43" fill="#000000" stroke="none" stroke-width="0" />
<text x="134.31" y="234.76" font-size="7.8" text-anchor="middle" fill="#eee" font-weight="normal" >0</text>
<rect x="143.62" y="227.24" width="16.62" height="9.43" fill="#000000" stroke="none" stroke-width="0" />
<text x="151.94" y="234.76" font-size="7.8" text-anchor="middle" fill="#eee" font-weight="normal" >0</text>
<rect x="161.25" y="227.24" width="16.62" height="9.43" fill="#0f0201" stroke="none" stroke-width="0" />
<text x="169.56" y="234.76" font-size="7.8" text-anchor="middle" fill="#eee" font-weight="normal" >1</text>
<rect x="178.88" y="227.24" width="16.62" height="9.43" fill="#3c0a03" stroke="none" stroke-width="0" />
<text x="187.19" y="234.76" font-size="7.8" text-anchor="middle" fill="#eee" font-weight="normal" >4</text>
<rect x="55.50" y="237.67" width="16.62" height="9.43" fill="#000000" stroke="none" stroke-width="0" />
<text x="63.81" y="245.19" font-size="7.8" text-anchor="middle" fill="#eee" font-weight="normal" >0</text>
<rect x="73.12" y="237.67" width="16.62" height="9.43" fill="#000000" stroke="none" stroke-width="0" />
<text x="81.44" y="245.19" font-size="7.8" text-anchor="middle" fill="#eee" font-weight="normal" >0</text>
<rect x="90.75" y="237.67" width="16.62" height="9.43" fill="#000000" stroke="none" stroke-width="0" />
<text x="99.06" y="245.19" font-size="7.8" text-anchor="middle" fill="#eee" font-weight="normal" >0</text>
<rect x="108.38" y="237.67" width="16.62" height="9.43" fill="#000000" stroke="none" stroke-width="0" />
<text x="116.69" y="245.19" font-size="7.8" text-anchor="middle" fill="#eee" font-weight="normal" >0</text>
<rect x="126.00" y="237.67" width="16.62" height="9.43" fill="#000000" stroke="none" stroke-width="0" />
<text x="134.31" y="245.19" font-size="7.8" text-anchor="middle" fill="#eee" font-weight="normal" >0</text>
<rect x="143.62" y="237.67" width="16.62" height="9.43" fill="#000000" stroke="none" stroke-width="0" />
<text x="151.94" y="245.19" font-size="7.8" text-anchor="middle" fill="#eee" font-weight="normal" >0</text>
<rect x="161.25" y="237.67" width="16.62" height="9.43" fill="#000000" stroke="none" stroke-width="0" />
<text x="169.56" y="245.19" font-size="7.8" text-anchor="middle" fill="#eee" font-weight="normal" >0</text>
<rect x="178.88" y="237.67" width="16.62" height="9.43" fill="#000000" stroke="none" stroke-width="0" />
<text x="187.19" y="245.19" font-size="7.8" text-anchor="middle" fill="#eee" font-weight="normal" >0</text>
<line x1="52.20" y1="148.52" x2="54.60" y2="148.52" stroke="#222" stroke-width="1" />
<text x="49.80" y="151.52" font-size="8.4" text-anchor="end" fill="#222" font-weight="normal" >5</text>
<line x1="52.20" y1="158.95" x2="54.60" y2="158.95" stroke="#222" stroke-width="1" />
<text x="49.80" y="161.95" font-size="8.4" text-anchor="end" fill="#222" font-weight="normal" >2.5</text>
<line x1="52.20" y1="169.38" x2="54.60" y2="169.38" stroke="#222" stroke-width="1" />
<text x="49.80" y="172.38" font-size="8.4" text-anchor="end" fill="#222" font-weight="normal" >1.25</text>
<line x1="52.20" y1="179.81" x2="54.60" y2="179.81" stroke="#222" stroke-width="1" />
<text x="49.80" y="182.81" font-size="8.4" text-anchor="end" fill="#222" font-weight="normal" >0.625</text>
<line x1="52.20" y1="190.24" x2="54.60" y2="190.24" stroke="#222" stroke-width="1" />
<text x="49.80" y="193.24" font-size="8.4" text-anchor="end" fill="#222" font-weight="normal" >0.3125</text>
<line x1="52.20" y1="200.66" x2="54.60" y2="200.66" stroke="#222" stroke-width="1" />
<text x="49.80" y="203.66" font-size="8.4" text-anchor="end" fill="#222" font-weight="normal" >0.1562</text>
<line x1="52.20" y1="211.09" x2="54.60" y2="211.09" stroke="#222" stroke-width="1" />
<text x="49.80" y="214.09" font-size="8.4" text-anchor="end" fill="#222" font-weight="normal" >0.0781</text>
<line x1="52.20" y1="221.53" x2="54.60" y2="221.53" stroke="#222" stroke-width="1" />
<text x="49.80" y="224.53" font-size="8.4" text-anchor="end" fill="#222" font-weight="normal" >0.0390</text>
<line x1="52.20" y1="231.96" x2="54.60" y2="231.96" stroke="#222" stroke-width="1" />
<text x="49.80" y="234.96" font-size="8.4" text-anchor="end" fill="#222" font-weight="normal" >0.0195</text>
<line x1="52.20" y1="242.38" x2="54.60" y2="242.38" stroke="#222" stroke-width="1" />
<text x="49.80" y="245.38" font-size="8.4" text-anchor="end" fill="#222" font-weight="normal" >0</text>
<line x1="63.81" y1="247.60" x2="63.81" y2="251.00" stroke="#222" stroke-width="1" />
<text transform="translate(66.71,253.5) rotate(-90)" font-size="8" text-anchor="end" fill="#222">0</text>
<line x1="81.44" y1="247.60" x2="81.44" y2="251.00" stroke="#222" stroke-width="1" />
<text transform="translate(84.34,253.5) rotate(-90)" font-size="8" text-anchor="end" fill="#222">0.3125</text>
<line x1="99.06" y1="247.60" x2="99.06" y2="251.00" stroke="#222" stroke-width="1" />
<text transform="translate(101.96,253.5) rotate(-90)" font-size="8" text-anchor="end" fill="#222">0.625</text>
<line x1="116.69" y1="247.60" x2="116.69" y2="251.00" stroke="#222" stroke-width="1" />
<text transform="translate(119.59,253.5) rotate(-90)" font-size="8" text-anchor="end" fill="#222">1.25</text>
<line x1="134.31" y1="247.60" x2="134.31" y2="251.00" stroke="#222" stroke-width="1" />
<text transform="translate(137.21,253.5) rotate(-90)" font-size="8" text-anchor="end" fill="#222">2.5</text>
<line x1="151.94" y1="247.60" x2="151.94" y2="251.00" stroke="#222" stroke-width="1" />
<text transform="translate(154.84,253.5) rotate(-90)" font-size="8" text-anchor="end" fill="#222">5</text>
<line x1="169.56" y1="247.60" x2="169.56" y2="251.00" stroke="#222" stroke-width="1" />
<text transform="translate(172.46,253.5) rotate(-90)" font-size="8" text-anchor="end" fill="#222">10</text>
<line x1="187.19" y1="247.60" x2="187.19" y2="251.00" stroke="#222" stroke-width="1" />
<text transform="translate(190.09,253.5) rotate(-90)" font-size="8" text-anchor="end" fill="#222">20</text>
<rect x="207.20" y="147.30" width="6.40" height="101.00" fill="url(#cb2)" stroke="#000" stroke-width="0.8" />
<line x1="206.90" y1="153.00" x2="208.40" y2="153.00" stroke="#000" stroke-width="0.8" />
<line x1="212.40" y1="153.00" x2="213.90" y2="153.00" stroke="#000" stroke-width="0.8" />
<text x="216.50" y="155.90" font-size="8" text-anchor="start" fill="#222" font-weight="normal" >15</text>
<line x1="206.90" y1="183.00" x2="208.40" y2="183.00" stroke="#000" stroke-width="0.8" />
<line x1="212.40" y1="183.00" x2="213.90" y2="183.00" stroke="#000" stroke-width="0.8" />
<text x="216.50" y="185.90" font-size="8" text-anchor="start" fill="#222" font-weight="normal" >5</text>
<line x1="206.90" y1="213.00" x2="208.40" y2="213.00" stroke="#000" stroke-width="0.8" />
<line x1="212.40" y1="213.00" x2="213.90" y2="213.00" stroke="#000" stroke-width="0.8" />
<text x="216.50" y="215.90" font-size="8" text-anchor="start" fill="#222" font-weight="normal" >&#8211;5</text>
<line x1="206.90" y1="243.00" x2="208.40" y2="243.00" stroke="#000" stroke-width="0.8" />
<line x1="212.40" y1="243.00" x2="213.90" y2="243.00" stroke="#000" stroke-width="0.8" />
<text x="216.50" y="245.90" font-size="8" text-anchor="start" fill="#222" font-weight="normal" >&#8211;15</text>
<text x="215.50" y="262.50" font-size="8.6" text-anchor="middle" fill="#f5b335" font-weight="normal" textLength="43" lengthAdjust="spacingAndGlyphs">Antogonism</text>
<line x1="18.90" y1="227.00" x2="18.90" y2="278.00" stroke="#222" stroke-width="1" />
<path d="M18.9,224.5 L16.6,229.5 L21.2,229.5 Z" fill="#222"/>
<line x1="18.90" y1="278.00" x2="69.00" y2="278.00" stroke="#222" stroke-width="1" />
<path d="M72,278 L67,275.7 L67,280.3 Z" fill="#222"/>
<text transform="translate(13.8,253) rotate(-90)" font-size="8.6" text-anchor="middle" fill="#222" textLength="51.5" lengthAdjust="spacingAndGlyphs">AZD5991 (&#181;M)</text>
<text x="45.30" y="290.20" font-size="8.6" text-anchor="middle" fill="#222" font-weight="normal" textLength="52.3" lengthAdjust="spacingAndGlyphs">AZD1208 (&#181;M)</text>
<line x1="405.15" y1="161.72" x2="318.48" y2="190.73" stroke="#555" stroke-width="0.8" stroke-dasharray="1.1,1.5"/>
<line x1="405.15" y1="161.72" x2="461.53" y2="215.93" stroke="#555" stroke-width="0.8" stroke-dasharray="1.1,1.5"/>
<line x1="405.15" y1="161.72" x2="406.93" y2="76.51" stroke="#555" stroke-width="0.8" stroke-dasharray="1.1,1.5"/>
<line x1="310.58" y1="101.80" x2="406.93" y2="76.51" stroke="#555" stroke-width="0.8" />
<line x1="406.93" y1="76.51" x2="470.43" y2="123.76" stroke="#555" stroke-width="0.8" />
<line x1="470.43" y1="123.76" x2="363.43" y2="158.02" stroke="#555" stroke-width="0.8" />
<line x1="363.43" y1="158.02" x2="310.58" y2="101.80" stroke="#555" stroke-width="0.8" />
<line x1="318.48" y1="190.73" x2="310.58" y2="101.80" stroke="#555" stroke-width="0.8" />
<line x1="461.53" y1="215.93" x2="470.43" y2="123.76" stroke="#555" stroke-width="0.8" />
<line x1="366.34" y1="254.01" x2="363.43" y2="158.02" stroke="#555" stroke-width="0.8" />
<line x1="318.48" y1="190.73" x2="366.34" y2="254.01" stroke="#555" stroke-width="0.8" />
<line x1="366.34" y1="254.01" x2="461.53" y2="215.93" stroke="#555" stroke-width="0.8" />
<g stroke="#111" stroke-width="0.5" stroke-linejoin="round">
<polygon points="404.05,107.99 407.04,106.61 405.62,105.39 402.64,106.77" fill="#ff9292"/>
<polygon points="401.05,109.39 404.05,107.99 402.64,106.77 399.65,108.16" fill="#ff9292"/>
<polygon points="405.47,109.31 408.47,107.89 407.04,106.61 404.05,107.99" fill="#ff9292"/>
<polygon points="398.04,110.82 401.05,109.39 399.65,108.16 396.65,109.56" fill="#ff9292"/>
<polygon points="402.46,110.71 405.47,109.31 404.05,107.99 401.05,109.39" fill="#ff9292"/>
<polygon points="395.02,112.37 398.04,110.82 396.65,109.56 393.63,111.05" fill="#ff9292"/>
<polygon points="406.90,110.53 409.90,109.10 408.47,107.89 405.47,109.31" fill="#ff9292"/>
<polygon points="391.98,114.17 395.02,112.37 393.63,111.05 390.60,113.00" fill="#ff9292"/>
<polygon points="399.44,112.17 402.46,110.71 401.05,109.39 398.04,110.82" fill="#ff9292"/>
<polygon points="388.94,116.10 391.98,114.17 390.60,113.00 387.57,115.05" fill="#ffaeae"/>
<polygon points="403.88,111.93 406.90,110.53 405.47,109.31 402.46,110.71" fill="#ff9292"/>
<polygon points="396.41,113.72 399.44,112.17 398.04,110.82 395.02,112.37" fill="#ff9292"/>
<polygon points="385.88,118.03 388.94,116.10 387.57,115.05 384.53,117.08" fill="#ffaeae"/>
<polygon points="408.34,111.46 411.36,110.08 409.90,109.10 406.90,110.53" fill="#ff9292"/>
<polygon points="400.86,113.40 403.88,111.93 402.46,110.71 399.44,112.17" fill="#ff9292"/>
<polygon points="393.37,115.38 396.41,113.72 395.02,112.37 391.98,114.17" fill="#ff9292"/>
<polygon points="382.82,119.86 385.88,118.03 384.53,117.08 381.47,119.02" fill="#ffaeae"/>
<polygon points="390.31,117.12 393.37,115.38 391.98,114.17 388.94,116.10" fill="#ff9292"/>
<polygon points="405.32,112.84 408.34,111.46 406.90,110.53 403.88,111.93" fill="#ff9292"/>
<polygon points="397.82,114.93 400.86,113.40 399.44,112.17 396.41,113.72" fill="#ff9292"/>
<polygon points="379.75,121.51 382.82,119.86 381.47,119.02 378.41,120.64" fill="#ffaeae"/>
<polygon points="387.25,118.89 390.31,117.12 388.94,116.10 385.88,118.03" fill="#ffaeae"/>
<polygon points="394.76,116.45 397.82,114.93 396.41,113.72 393.37,115.38" fill="#ff9292"/>
<polygon points="402.28,114.32 405.32,112.84 403.88,111.93 400.86,113.40" fill="#ff9292"/>
<polygon points="376.66,123.02 379.75,121.51 378.41,120.64 375.34,122.15" fill="#ffaeae"/>
<polygon points="409.81,111.94 412.84,110.46 411.36,110.08 408.34,111.46" fill="#ff9292"/>
<polygon points="384.18,120.60 387.25,118.89 385.88,118.03 382.82,119.86" fill="#ffaeae"/>
<polygon points="391.70,118.01 394.76,116.45 393.37,115.38 390.31,117.12" fill="#ff9292"/>
<polygon points="399.23,115.86 402.28,114.32 400.86,113.40 397.82,114.93" fill="#ff9292"/>
<polygon points="373.56,124.43 376.66,123.02 375.34,122.15 372.25,123.57" fill="#ffc9c9"/>
<polygon points="406.78,113.36 409.81,111.94 408.34,111.46 405.32,112.84" fill="#ff9292"/>
<polygon points="381.09,122.21 384.18,120.60 382.82,119.86 379.75,121.51" fill="#ffaeae"/>
<polygon points="388.63,119.62 391.70,118.01 390.31,117.12 387.25,118.89" fill="#ffaeae"/>
<polygon points="396.18,117.25 399.23,115.86 397.82,114.93 394.76,116.45" fill="#ff9292"/>
<polygon points="370.45,125.71 373.56,124.43 372.25,123.57 369.14,124.85" fill="#ffc9c9"/>
<polygon points="403.73,114.80 406.78,113.36 405.32,112.84 402.28,114.32" fill="#ff9292"/>
<polygon points="378.00,123.72 381.09,122.21 379.75,121.51 376.66,123.02" fill="#ffaeae"/>
<polygon points="385.55,121.23 388.63,119.62 387.25,118.89 384.18,120.60" fill="#ffaeae"/>
<polygon points="411.30,112.10 414.34,110.56 412.84,110.46 409.81,111.94" fill="#ff7777"/>
<polygon points="393.10,118.69 396.18,117.25 394.76,116.45 391.70,118.01" fill="#ff9292"/>
<polygon points="400.67,116.26 403.73,114.80 402.28,114.32 399.23,115.86" fill="#ff9292"/>
<polygon points="374.89,125.14 378.00,123.72 376.66,123.02 373.56,124.43" fill="#ffaeae"/>
<polygon points="367.32,126.79 370.45,125.71 369.14,124.85 366.02,125.79" fill="#ffc9c9"/>
<polygon points="382.45,122.79 385.55,121.23 384.18,120.60 381.09,122.21" fill="#ffaeae"/>
<polygon points="408.26,113.54 411.30,112.10 409.81,111.94 406.78,113.36" fill="#ff7777"/>
<polygon points="390.02,120.20 393.10,118.69 391.70,118.01 388.63,119.62" fill="#ffaeae"/>
<polygon points="397.60,117.67 400.67,116.26 399.23,115.86 396.18,117.25" fill="#ff9292"/>
<polygon points="371.76,126.47 374.89,125.14 373.56,124.43 370.45,125.71" fill="#ffc9c9"/>
<polygon points="379.34,124.29 382.45,122.79 381.09,122.21 378.00,123.72" fill="#ffaeae"/>
<polygon points="405.20,114.95 408.26,113.54 406.78,113.36 403.73,114.80" fill="#ff9292"/>
<polygon points="364.17,127.76 367.32,126.79 366.02,125.79 362.87,126.63" fill="#ffc9c9"/>
<polygon points="386.92,121.73 390.02,120.20 388.63,119.62 385.55,121.23" fill="#ffaeae"/>
<polygon points="412.81,112.09 415.87,110.52 414.34,110.56 411.30,112.10" fill="#ff7777"/>
<polygon points="394.52,119.10 397.60,117.67 396.18,117.25 393.10,118.69" fill="#ff9292"/>
<polygon points="368.63,127.72 371.76,126.47 370.45,125.71 367.32,126.79" fill="#ffc9c9"/>
<polygon points="376.22,125.73 379.34,124.29 378.00,123.72 374.89,125.14" fill="#ffaeae"/>
<polygon points="402.13,116.37 405.20,114.95 403.73,114.80 400.67,116.26" fill="#ff9292"/>
<polygon points="383.82,123.25 386.92,121.73 385.55,121.23 382.45,122.79" fill="#ffaeae"/>
<polygon points="361.00,128.77 364.17,127.76 362.87,126.63 359.71,127.48" fill="#ffc9c9"/>
<polygon points="409.75,113.55 412.81,112.09 411.30,112.10 408.26,113.54" fill="#ff7777"/>
<polygon points="391.42,120.57 394.52,119.10 393.10,118.69 390.02,120.20" fill="#ff9292"/>
<polygon points="373.09,127.14 376.22,125.73 374.89,125.14 371.76,126.47" fill="#ffaeae"/>
<polygon points="399.05,117.82 402.13,116.37 400.67,116.26 397.60,117.67" fill="#ff9292"/>
<polygon points="365.47,128.92 368.63,127.72 367.32,126.79 364.17,127.76" fill="#ffc9c9"/>
<polygon points="380.70,124.75 383.82,123.25 382.45,122.79 379.34,124.29" fill="#ffaeae"/>
<polygon points="406.68,114.93 409.75,113.55 408.26,113.54 405.20,114.95" fill="#ff7777"/>
<polygon points="388.32,122.07 391.42,120.57 390.02,120.20 386.92,121.73" fill="#ff9292"/>
<polygon points="357.83,130.04 361.00,128.77 359.71,127.48 356.54,128.56" fill="#ffc9c9"/>
<polygon points="369.94,128.56 373.09,127.14 371.76,126.47 368.63,127.72" fill="#ffc9c9"/>
<polygon points="395.95,119.29 399.05,117.82 397.60,117.67 394.52,119.10" fill="#ff9292"/>
<polygon points="377.57,126.22 380.70,124.75 379.34,124.29 376.22,125.73" fill="#ffaeae"/>
<polygon points="414.34,111.99 417.41,110.37 415.87,110.52 412.81,112.09" fill="#ff7777"/>
<polygon points="362.30,130.15 365.47,128.92 364.17,127.76 361.00,128.77" fill="#ffc9c9"/>
<polygon points="385.20,123.58 388.32,122.07 386.92,121.73 383.82,123.25" fill="#ffaeae"/>
<polygon points="403.60,116.32 406.68,114.93 405.20,114.95 402.13,116.37" fill="#ff7777"/>
<polygon points="354.66,131.83 357.83,130.04 356.54,128.56 353.39,130.61" fill="#ffc9c9"/>
<polygon points="392.84,120.77 395.95,119.29 394.52,119.10 391.42,120.57" fill="#ff9292"/>
<polygon points="366.78,129.97 369.94,128.56 368.63,127.72 365.47,128.92" fill="#ffc9c9"/>
<polygon points="411.27,113.52 414.34,111.99 412.81,112.09 409.75,113.55" fill="#ff7777"/>
<polygon points="374.42,127.69 377.57,126.22 376.22,125.73 373.09,127.14" fill="#ffaeae"/>
<polygon points="351.49,133.85 354.66,131.83 353.39,130.61 350.24,132.85" fill="#ffc9c9"/>
<polygon points="359.12,131.51 362.30,130.15 361.00,128.77 357.83,130.04" fill="#ffc9c9"/>
<polygon points="382.07,125.09 385.20,123.58 383.82,123.25 380.70,124.75" fill="#ffaeae"/>
<polygon points="400.51,117.84 403.60,116.32 402.13,116.37 399.05,117.82" fill="#ff9292"/>
<polygon points="348.31,135.78 351.49,133.85 350.24,132.85 347.09,135.02" fill="#ffc9c9"/>
<polygon points="389.72,122.25 392.84,120.77 391.42,120.57 388.32,122.07" fill="#ff9292"/>
<polygon points="408.19,114.93 411.27,113.52 409.75,113.55 406.68,114.93" fill="#ff7777"/>
<polygon points="363.61,131.38 366.78,129.97 365.47,128.92 362.30,130.15" fill="#ffc9c9"/>
<polygon points="371.27,129.27 374.42,127.69 373.09,127.14 369.94,128.56" fill="#ffaeae"/>
<polygon points="355.94,133.05 359.12,131.51 357.83,130.04 354.66,131.83" fill="#ffc9c9"/>
<polygon points="378.92,126.62 382.07,125.09 380.70,124.75 377.57,126.22" fill="#ffaeae"/>
<polygon points="397.40,119.37 400.51,117.84 399.05,117.82 395.95,119.29" fill="#ff9292"/>
<polygon points="345.10,137.28 348.31,135.78 347.09,135.02 343.90,136.81" fill="#ffe4e4"/>
<polygon points="415.89,111.85 418.97,110.13 417.41,110.37 414.34,111.99" fill="#ff5c5c"/>
<polygon points="386.59,123.76 389.72,122.25 388.32,122.07 385.20,123.58" fill="#ff9292"/>
<polygon points="368.10,130.83 371.27,129.27 369.94,128.56 366.78,129.97" fill="#ffc9c9"/>
<polygon points="405.09,116.27 408.19,114.93 406.68,114.93 403.60,116.32" fill="#ff7777"/>
<polygon points="360.42,132.77 363.61,131.38 362.30,130.15 359.12,131.51" fill="#ffc9c9"/>
<polygon points="352.74,134.69 355.94,133.05 354.66,131.83 351.49,133.85" fill="#ffc9c9"/>
<polygon points="375.77,128.19 378.92,126.62 377.57,126.22 374.42,127.69" fill="#ffaeae"/>
<polygon points="394.28,120.85 397.40,119.37 395.95,119.29 392.84,120.77" fill="#ff9292"/>
<polygon points="412.80,113.51 415.89,111.85 414.34,111.99 411.27,113.52" fill="#ff7777"/>
<polygon points="341.83,138.04 345.10,137.28 343.90,136.81 340.63,137.31" fill="#ffe4e4"/>
<polygon points="383.45,125.30 386.59,123.76 385.20,123.58 382.07,125.09" fill="#ffaeae"/>
<polygon points="349.54,136.26 352.74,134.69 351.49,133.85 348.31,135.78" fill="#ffc9c9"/>
<polygon points="401.98,117.90 405.09,116.27 403.60,116.32 400.51,117.84" fill="#ff7777"/>
<polygon points="364.92,132.35 368.10,130.83 366.78,129.97 363.61,131.38" fill="#ffc9c9"/>
<polygon points="357.22,134.07 360.42,132.77 359.12,131.51 355.94,133.05" fill="#ffc9c9"/>
<polygon points="372.60,129.83 375.77,128.19 374.42,127.69 371.27,129.27" fill="#ffaeae"/>
<polygon points="391.14,122.30 394.28,120.85 392.84,120.77 389.72,122.25" fill="#ff9292"/>
<polygon points="409.70,115.08 412.80,113.51 411.27,113.52 408.19,114.93" fill="#ff7777"/>
<polygon points="380.29,126.87 383.45,125.30 382.07,125.09 378.92,126.62" fill="#ffaeae"/>
<polygon points="346.30,137.56 349.54,136.26 348.31,135.78 345.10,137.28" fill="#ffc9c9"/>
<polygon points="398.86,119.45 401.98,117.90 400.51,117.84 397.40,119.37" fill="#ff7777"/>
<polygon points="361.72,133.75 364.92,132.35 363.61,131.38 360.42,132.77" fill="#ffc9c9"/>
<polygon points="354.00,135.33 357.22,134.07 355.94,133.05 352.74,134.69" fill="#ffc9c9"/>
<polygon points="369.42,131.45 372.60,129.83 371.27,129.27 368.10,130.83" fill="#ffaeae"/>
<polygon points="338.53,138.46 341.83,138.04 340.63,137.31 337.32,137.50" fill="#ffe4e4"/>
<polygon points="388.00,123.80 391.14,122.30 389.72,122.25 386.59,123.76" fill="#ff9292"/>
<polygon points="417.45,111.59 420.56,109.75 418.97,110.13 415.89,111.85" fill="#ff5c5c"/>
<polygon points="406.59,116.59 409.70,115.08 408.19,114.93 405.09,116.27" fill="#ff7777"/>
<polygon points="377.12,128.50 380.29,126.87 378.92,126.62 375.77,128.19" fill="#ffaeae"/>
<polygon points="395.72,120.89 398.86,119.45 397.40,119.37 394.28,120.85" fill="#ff9292"/>
<polygon points="343.03,138.50 346.30,137.56 345.10,137.28 341.83,138.04" fill="#ffe4e4"/>
<polygon points="358.50,134.75 361.72,133.75 360.42,132.77 357.22,134.07" fill="#ffc9c9"/>
<polygon points="366.23,132.95 369.42,131.45 368.10,130.83 364.92,132.35" fill="#ffc9c9"/>
<polygon points="350.76,136.58 354.00,135.33 352.74,134.69 349.54,136.26" fill="#ffc9c9"/>
<polygon points="414.34,113.44 417.45,111.59 415.89,111.85 412.80,113.51" fill="#ff5c5c"/>
<polygon points="384.84,125.34 388.00,123.80 386.59,123.76 383.45,125.30" fill="#ff9292"/>
<polygon points="403.47,118.12 406.59,116.59 405.09,116.27 401.98,117.90" fill="#ff7777"/>
<polygon points="373.94,130.18 377.12,128.50 375.77,128.19 372.60,129.83" fill="#ffaeae"/>
<polygon points="392.58,122.26 395.72,120.89 394.28,120.85 391.14,122.30" fill="#ff9292"/>
<polygon points="335.21,138.99 338.53,138.46 337.32,137.50 334.00,137.76" fill="#ffc9c9"/>
<polygon points="411.22,115.24 414.34,113.44 412.80,113.51 409.70,115.08" fill="#ff5c5c"/>
<polygon points="363.02,134.17 366.23,132.95 364.92,132.35 361.72,133.75" fill="#ffc9c9"/>
<polygon points="381.67,126.91 384.84,125.34 383.45,125.30 380.29,126.87" fill="#ff9292"/>
<polygon points="347.51,137.73 350.76,136.58 349.54,136.26 346.30,137.56" fill="#ffc9c9"/>
<polygon points="355.25,135.67 358.50,134.75 357.22,134.07 354.00,135.33" fill="#ffc9c9"/>
<polygon points="400.33,119.58 403.47,118.12 401.98,117.90 398.86,119.45" fill="#ff7777"/>
<polygon points="370.75,131.84 373.94,130.18 372.60,129.83 369.42,131.45" fill="#ffaeae"/>
<polygon points="339.74,139.29 343.03,138.50 341.83,138.04 338.53,138.46" fill="#ffc9c9"/>
<polygon points="408.10,116.90 411.22,115.24 409.70,115.08 406.59,116.59" fill="#ff7777"/>
<polygon points="389.42,123.73 392.58,122.26 391.14,122.30 388.00,123.80" fill="#ff9292"/>
<polygon points="419.05,111.11 422.16,109.19 420.56,109.75 417.45,111.59" fill="#ff5c5c"/>
<polygon points="378.49,128.56 381.67,126.91 380.29,126.87 377.12,128.50" fill="#ffaeae"/>
<polygon points="359.77,135.01 363.02,134.17 361.72,133.75 358.50,134.75" fill="#ffc9c9"/>
<polygon points="397.19,120.94 400.33,119.58 398.86,119.45 395.72,120.89" fill="#ff7777"/>
<polygon points="367.55,133.31 370.75,131.84 369.42,131.45 366.23,132.95" fill="#ffaeae"/>
<polygon points="344.23,138.76 347.51,137.73 346.30,137.56 343.03,138.50" fill="#ffc9c9"/>
<polygon points="331.90,140.09 335.21,138.99 334.00,137.76 330.68,138.47" fill="#ffc9c9"/>
<polygon points="351.99,136.62 355.25,135.67 354.00,135.33 350.76,136.58" fill="#ffc9c9"/>
<polygon points="404.97,118.34 408.10,116.90 406.59,116.59 403.47,118.12" fill="#ff7777"/>
<polygon points="415.91,113.12 419.05,111.11 417.45,111.59 414.34,113.44" fill="#ff5c5c"/>
<polygon points="386.25,125.22 389.42,123.73 388.00,123.80 384.84,125.34" fill="#ff9292"/>
<polygon points="336.43,140.26 339.74,139.29 338.53,138.46 335.21,138.99" fill="#ffc9c9"/>
<polygon points="375.30,130.28 378.49,128.56 377.12,128.50 373.94,130.18" fill="#ffaeae"/>
<polygon points="394.03,122.23 397.19,120.94 395.72,120.89 392.58,122.26" fill="#ff7777"/>
<polygon points="328.65,142.13 331.90,140.09 330.68,138.47 327.45,140.68" fill="#ffe4e4"/>
<polygon points="364.32,134.40 367.55,133.31 366.23,132.95 363.02,134.17" fill="#ffaeae"/>
<polygon points="412.77,115.18 415.91,113.12 414.34,113.44 411.22,115.24" fill="#ff5c5c"/>
<polygon points="356.50,135.63 359.77,135.01 358.50,134.75 355.25,135.67" fill="#ffc9c9"/>
<polygon points="340.94,139.85 344.23,138.76 343.03,138.50 339.74,139.29" fill="#ffc9c9"/>
<polygon points="348.71,137.65 351.99,136.62 350.76,136.58 347.51,137.73" fill="#ffc9c9"/>
<polygon points="383.06,126.75 386.25,125.22 384.84,125.34 381.67,126.91" fill="#ff9292"/>
<polygon points="401.82,119.64 404.97,118.34 403.47,118.12 400.33,119.58" fill="#ff7777"/>
<polygon points="372.09,131.99 375.30,130.28 373.94,130.18 370.75,131.84" fill="#ffaeae"/>
<polygon points="325.43,144.76 328.65,142.13 327.45,140.68 324.24,143.39" fill="#ffe4e4"/>
<polygon points="322.23,147.63 325.43,144.76 324.24,143.39 321.05,146.27" fill="#ffe4e4"/>
<polygon points="333.14,141.70 336.43,140.26 335.21,138.99 331.90,140.09" fill="#ffc9c9"/>
<polygon points="409.63,117.02 412.77,115.18 411.22,115.24 408.10,116.90" fill="#ff5c5c"/>
<polygon points="319.02,150.50 322.23,147.63 321.05,146.27 317.86,149.14" fill="#ffffff"/>
<polygon points="390.86,123.54 394.03,122.23 392.58,122.26 389.42,123.73" fill="#ff7777"/>
<polygon points="379.87,128.35 383.06,126.75 381.67,126.91 378.49,128.56" fill="#ff9292"/>
<polygon points="361.05,135.01 364.32,134.40 363.02,134.17 359.77,135.01" fill="#ffaeae"/>
<polygon points="368.87,133.50 372.09,131.99 370.75,131.84 367.55,133.31" fill="#ffaeae"/>
<polygon points="398.67,120.86 401.82,119.64 400.33,119.58 397.19,120.94" fill="#ff7777"/>
<polygon points="420.67,110.25 423.80,108.34 422.16,109.19 419.05,111.11" fill="#ff4141"/>
<polygon points="337.64,141.24 340.94,139.85 339.74,139.29 336.43,140.26" fill="#ffc9c9"/>
<polygon points="345.42,138.68 348.71,137.65 347.51,137.73 344.23,138.76" fill="#ffc9c9"/>
<polygon points="353.21,136.27 356.50,135.63 355.25,135.67 351.99,136.62" fill="#ffc9c9"/>
<polygon points="329.88,143.73 333.14,141.70 331.90,140.09 328.65,142.13" fill="#ffe4e4"/>
<polygon points="406.49,118.31 409.63,117.02 408.10,116.90 404.97,118.34" fill="#ff5c5c"/>
<polygon points="387.67,124.91 390.86,123.54 389.42,123.73 386.25,125.22" fill="#ff9292"/>
<polygon points="376.66,130.10 379.87,128.35 378.49,128.56 375.30,130.28" fill="#ff9292"/>
<polygon points="326.64,146.25 329.88,143.73 328.65,142.13 325.43,144.76" fill="#ffe4e4"/>
<polygon points="417.52,112.35 420.67,110.25 419.05,111.11 415.91,113.12" fill="#ff4141"/>
<polygon points="365.63,134.54 368.87,133.50 367.55,133.31 364.32,134.40" fill="#ffaeae"/>
<polygon points="323.41,149.03 326.64,146.25 325.43,144.76 322.23,147.63" fill="#ffe4e4"/>
<polygon points="395.50,122.02 398.67,120.86 397.19,120.94 394.03,122.23" fill="#ff7777"/>
<polygon points="334.36,143.02 337.64,141.24 336.43,140.26 333.14,141.70" fill="#ffc9c9"/>
<polygon points="320.19,151.90 323.41,149.03 322.23,147.63 319.02,150.50" fill="#ffffff"/>
<polygon points="342.13,139.99 345.42,138.68 344.23,138.76 340.94,139.85" fill="#ffc9c9"/>
<polygon points="414.35,114.60 417.52,112.35 415.91,113.12 412.77,115.18" fill="#ff5c5c"/>
<polygon points="357.76,135.31 361.05,135.01 359.77,135.01 356.50,135.63" fill="#ffaeae"/>
<polygon points="403.34,119.37 406.49,118.31 404.97,118.34 401.82,119.64" fill="#ff7777"/>
<polygon points="373.44,131.83 376.66,130.10 375.30,130.28 372.09,131.99" fill="#ffaeae"/>
<polygon points="349.91,137.08 353.21,136.27 351.99,136.62 348.71,137.65" fill="#ffc9c9"/>
<polygon points="384.47,126.35 387.67,124.91 386.25,125.22 383.06,126.75" fill="#ff9292"/>
<polygon points="331.09,145.15 334.36,143.02 333.14,141.70 329.88,143.73" fill="#ffe4e4"/>
<polygon points="411.19,116.70 414.35,114.60 412.77,115.18 409.63,117.02" fill="#ff5c5c"/>
<polygon points="392.31,123.14 395.50,122.02 394.03,122.23 390.86,123.54" fill="#ff7777"/>
<polygon points="338.84,141.73 342.13,139.99 340.94,139.85 337.64,141.24" fill="#ffc9c9"/>
<polygon points="362.34,134.90 365.63,134.54 364.32,134.40 361.05,135.01" fill="#ffaeae"/>
<polygon points="370.21,133.40 373.44,131.83 372.09,131.99 368.87,133.50" fill="#ffaeae"/>
<polygon points="327.84,147.64 331.09,145.15 329.88,143.73 326.64,146.25" fill="#ffe4e4"/>
<polygon points="381.26,127.93 384.47,126.35 383.06,126.75 379.87,128.35" fill="#ff9292"/>
<polygon points="400.17,120.46 403.34,119.37 401.82,119.64 398.67,120.86" fill="#ff7777"/>
<polygon points="324.61,150.42 327.84,147.64 326.64,146.25 323.41,149.03" fill="#ffe4e4"/>
<polygon points="346.60,138.15 349.91,137.08 348.71,137.65 345.42,138.68" fill="#ffc9c9"/>
<polygon points="408.04,117.68 411.19,116.70 409.63,117.02 406.49,118.31" fill="#ff5c5c"/>
<polygon points="354.44,135.59 357.76,135.31 356.50,135.63 353.21,136.27" fill="#ffaeae"/>
<polygon points="321.38,153.33 324.61,150.42 323.41,149.03 320.19,151.90" fill="#ffffff"/>
<polygon points="422.33,108.95 425.48,107.01 423.80,108.34 420.67,110.25" fill="#ff4141"/>
<polygon points="335.57,143.90 338.84,141.73 337.64,141.24 334.36,143.02" fill="#ffc9c9"/>
<polygon points="389.11,124.32 392.31,123.14 390.86,123.54 387.67,124.91" fill="#ff7777"/>
<polygon points="378.03,129.62 381.26,127.93 379.87,128.35 376.66,130.10" fill="#ff9292"/>
<polygon points="366.95,134.54 370.21,133.40 368.87,133.50 365.63,134.54" fill="#ffaeae"/>
<polygon points="396.98,121.51 400.17,120.46 398.67,120.86 395.50,122.02" fill="#ff7777"/>
<polygon points="419.16,111.09 422.33,108.95 420.67,110.25 417.52,112.35" fill="#ff4141"/>
<polygon points="332.30,146.17 335.57,143.90 334.36,143.02 331.09,145.15" fill="#ffe4e4"/>
<polygon points="343.30,139.63 346.60,138.15 345.42,138.68 342.13,139.99" fill="#ffc9c9"/>
<polygon points="359.02,134.83 362.34,134.90 361.05,135.01 357.76,135.31" fill="#ffaeae"/>
<polygon points="404.88,118.50 408.04,117.68 406.49,118.31 403.34,119.37" fill="#ff5c5c"/>
<polygon points="374.80,131.31 378.03,129.62 376.66,130.10 373.44,131.83" fill="#ff9292"/>
<polygon points="329.04,148.80 332.30,146.17 331.09,145.15 327.84,147.64" fill="#ffe4e4"/>
<polygon points="385.89,125.65 389.11,124.32 387.67,124.91 384.47,126.35" fill="#ff7777"/>
<polygon points="415.98,113.28 419.16,111.09 417.52,112.35 414.35,114.60" fill="#ff4141"/>
<polygon points="351.11,136.16 354.44,135.59 353.21,136.27 349.91,137.08" fill="#ffaeae"/>
<polygon points="325.80,151.71 329.04,148.80 327.84,147.64 324.61,150.42" fill="#ffe4e4"/>
<polygon points="322.57,154.75 325.80,151.71 324.61,150.42 321.38,153.33" fill="#ffffff"/>
<polygon points="340.01,141.59 343.30,139.63 342.13,139.99 338.84,141.73" fill="#ffc9c9"/>
<polygon points="393.78,122.37 396.98,121.51 395.50,122.02 392.31,123.14" fill="#ff7777"/>
<polygon points="363.64,134.63 366.95,134.54 365.63,134.54 362.34,134.90" fill="#ffaeae"/>
<polygon points="412.80,115.12 415.98,113.28 414.35,114.60 411.19,116.70" fill="#ff4141"/>
<polygon points="371.54,132.81 374.80,131.31 373.44,131.83 370.21,133.40" fill="#ff9292"/>
<polygon points="382.66,127.16 385.89,125.65 384.47,126.35 381.26,127.93" fill="#ff7777"/>
<polygon points="401.70,119.44 404.88,118.50 403.34,119.37 400.17,120.46" fill="#ff5c5c"/>
<polygon points="336.73,143.98 340.01,141.59 338.84,141.73 335.57,143.90" fill="#ffc9c9"/>
<polygon points="347.78,137.23 351.11,136.16 349.91,137.08 346.60,138.15" fill="#ffaeae"/>
<polygon points="355.67,134.72 359.02,134.83 357.76,135.31 354.44,135.59" fill="#ffaeae"/>
<polygon points="409.63,116.24 412.80,115.12 411.19,116.70 408.04,117.68" fill="#ff5c5c"/>
<polygon points="333.47,146.66 336.73,143.98 335.57,143.90 332.30,146.17" fill="#ffc9c9"/>
<polygon points="390.57,123.31 393.78,122.37 392.31,123.14 389.11,124.32" fill="#ff7777"/>
<polygon points="368.27,133.81 371.54,132.81 370.21,133.40 366.95,134.54" fill="#ff9292"/>
<polygon points="379.42,128.79 382.66,127.16 381.26,127.93 378.03,129.62" fill="#ff9292"/>
<polygon points="424.02,107.49 427.19,105.57 425.48,107.01 422.33,108.95" fill="#ff2626"/>
<polygon points="330.22,149.66 333.47,146.66 332.30,146.17 329.04,148.80" fill="#ffe4e4"/>
<polygon points="326.99,152.88 330.22,149.66 329.04,148.80 325.80,151.71" fill="#ffe4e4"/>
<polygon points="398.49,120.48 401.70,119.44 400.17,120.46 396.98,121.51" fill="#ff5c5c"/>
<polygon points="323.77,156.17 326.99,152.88 325.80,151.71 322.57,154.75" fill="#ffffff"/>
<polygon points="360.30,134.33 363.64,134.63 362.34,134.90 359.02,134.83" fill="#ffaeae"/>
<polygon points="344.47,138.86 347.78,137.23 346.60,138.15 343.30,139.63" fill="#ffaeae"/>
<polygon points="420.83,109.66 424.02,107.49 422.33,108.95 419.16,111.09" fill="#ff2626"/>
<polygon points="376.16,130.43 379.42,128.79 378.03,129.62 374.80,131.31" fill="#ff9292"/>
<polygon points="406.45,116.97 409.63,116.24 408.04,117.68 404.88,118.50" fill="#ff5c5c"/>
<polygon points="387.33,124.52 390.57,123.31 389.11,124.32 385.89,125.65" fill="#ff7777"/>
<polygon points="352.31,135.01 355.67,134.72 354.44,135.59 351.11,136.16" fill="#ffaeae"/>
<polygon points="417.63,111.77 420.83,109.66 419.16,111.09 415.98,113.28" fill="#ff4141"/>
<polygon points="341.17,141.00 344.47,138.86 343.30,139.63 340.01,141.59" fill="#ffaeae"/>
<polygon points="364.95,134.05 368.27,133.81 366.95,134.54 363.64,134.63" fill="#ff9292"/>
<polygon points="395.28,121.01 398.49,120.48 396.98,121.51 393.78,122.37" fill="#ff5c5c"/>
<polygon points="372.89,131.90 376.16,130.43 374.80,131.31 371.54,132.81" fill="#ff9292"/>
<polygon points="337.89,143.66 341.17,141.00 340.01,141.59 336.73,143.98" fill="#ffc9c9"/>
<polygon points="414.44,113.47 417.63,111.77 415.98,113.28 412.80,115.12" fill="#ff4141"/>
<polygon points="384.08,125.98 387.33,124.52 385.89,125.65 382.66,127.16" fill="#ff7777"/>
<polygon points="324.98,157.59 328.19,153.95 326.99,152.88 323.77,156.17" fill="#ffffff"/>
<polygon points="334.63,146.79 337.89,143.66 336.73,143.98 333.47,146.66" fill="#ffc9c9"/>
<polygon points="403.26,117.66 406.45,116.97 404.88,118.50 401.70,119.44" fill="#ff5c5c"/>
<polygon points="328.19,153.95 331.40,150.28 330.22,149.66 326.99,152.88" fill="#ffe4e4"/>
<polygon points="331.40,150.28 334.63,146.79 333.47,146.66 330.22,149.66" fill="#ffe4e4"/>
<polygon points="356.93,133.95 360.30,134.33 359.02,134.83 355.67,134.72" fill="#ff9292"/>
<polygon points="348.97,136.13 352.31,135.01 351.11,136.16 347.78,137.23" fill="#ff9292"/>
<polygon points="369.60,132.91 372.89,131.90 371.54,132.81 368.27,133.81" fill="#ff9292"/>
<polygon points="411.25,114.60 414.44,113.47 412.80,115.12 409.63,116.24" fill="#ff4141"/>
<polygon points="392.05,121.75 395.28,121.01 393.78,122.37 390.57,123.31" fill="#ff5c5c"/>
<polygon points="380.82,127.55 384.08,125.98 382.66,127.16 379.42,128.79" fill="#ff7777"/>
<polygon points="425.72,106.32 428.91,104.34 427.19,105.57 424.02,107.49" fill="#ff0b0b"/>
<polygon points="361.60,133.84 364.95,134.05 363.64,134.63 360.30,134.33" fill="#ff9292"/>
<polygon points="400.04,118.34 403.26,117.66 401.70,119.44 398.49,120.48" fill="#ff4141"/>
<polygon points="345.64,137.92 348.97,136.13 347.78,137.23 344.47,138.86" fill="#ffaeae"/>
<polygon points="422.50,108.61 425.72,106.32 424.02,107.49 420.83,109.66" fill="#ff2626"/>
<polygon points="377.55,129.20 380.82,127.55 379.42,128.79 376.16,130.43" fill="#ff7777"/>
<polygon points="326.19,159.04 329.39,154.99 328.19,153.95 324.98,157.59" fill="#ffffff"/>
<polygon points="388.79,122.88 392.05,121.75 390.57,123.31 387.33,124.52" fill="#ff5c5c"/>
<polygon points="353.54,133.90 356.93,133.95 355.67,134.72 352.31,135.01" fill="#ff9292"/>
<polygon points="408.05,115.24 411.25,114.60 409.63,116.24 406.45,116.97" fill="#ff4141"/>
<polygon points="366.27,133.30 369.60,132.91 368.27,133.81 364.95,134.05" fill="#ff9292"/>
<polygon points="342.33,140.22 345.64,137.92 344.47,138.86 341.17,141.00" fill="#ffaeae"/>
<polygon points="419.29,110.73 422.50,108.61 420.83,109.66 417.63,111.77" fill="#ff2626"/>
<polygon points="329.39,154.99 332.59,150.81 331.40,150.28 328.19,153.95" fill="#ffe4e4"/>
<polygon points="332.59,150.81 335.80,146.75 334.63,146.79 331.40,150.28" fill="#ffc9c9"/>
<polygon points="339.04,143.13 342.33,140.22 341.17,141.00 337.89,143.66" fill="#ffaeae"/>
<polygon points="374.26,130.76 377.55,129.20 376.16,130.43 372.89,131.90" fill="#ff7777"/>
<polygon points="335.80,146.75 339.04,143.13 337.89,143.66 334.63,146.79" fill="#ffc9c9"/>
<polygon points="396.81,118.94 400.04,118.34 398.49,120.48 395.28,121.01" fill="#ff4141"/>
<polygon points="416.08,112.40 419.29,110.73 417.63,111.77 414.44,113.47" fill="#ff2626"/>
<polygon points="358.21,133.57 361.60,133.84 360.30,134.33 356.93,133.95" fill="#ff9292"/>
<polygon points="385.52,124.34 388.79,122.88 387.33,124.52 384.08,125.98" fill="#ff5c5c"/>
<polygon points="350.18,135.21 353.54,133.90 352.31,135.01 348.97,136.13" fill="#ff9292"/>
<polygon points="404.84,115.64 408.05,115.24 406.45,116.97 403.26,117.66" fill="#ff4141"/>
<polygon points="370.95,131.92 374.26,130.76 372.89,131.90 369.60,132.91" fill="#ff7777"/>
<polygon points="327.42,160.53 330.60,156.02 329.39,154.99 326.19,159.04" fill="#ffffff"/>
<polygon points="427.40,106.03 430.62,103.81 428.91,104.34 425.72,106.32" fill="#ff0b0b"/>
<polygon points="362.90,133.29 366.27,133.30 364.95,134.05 361.60,133.84" fill="#ff9292"/>
<polygon points="412.87,113.51 416.08,112.40 414.44,113.47 411.25,114.60" fill="#ff2626"/>
<polygon points="382.24,125.86 385.52,124.34 384.08,125.98 380.82,127.55" fill="#ff5c5c"/>
<polygon points="393.55,119.69 396.81,118.94 395.28,121.01 392.05,121.75" fill="#ff4141"/>
<polygon points="330.60,156.02 333.78,151.34 332.59,150.81 329.39,154.99" fill="#ffe4e4"/>
<polygon points="424.16,108.47 427.40,106.03 425.72,106.32 422.50,108.61" fill="#ff0b0b"/>
<polygon points="346.84,137.13 350.18,135.21 348.97,136.13 345.64,137.92" fill="#ff9292"/>
<polygon points="354.81,133.73 358.21,133.57 356.93,133.95 353.54,133.90" fill="#ff7777"/>
<polygon points="333.78,151.34 336.98,146.76 335.80,146.75 332.59,150.81" fill="#ffc9c9"/>
<polygon points="420.93,110.65 424.16,108.47 422.50,108.61 419.29,110.73" fill="#ff2626"/>
<polygon points="401.61,116.06 404.84,115.64 403.26,117.66 400.04,118.34" fill="#ff4141"/>
<polygon points="378.94,127.53 382.24,125.86 380.82,127.55 377.55,129.20" fill="#ff5c5c"/>
<polygon points="343.51,139.56 346.84,137.13 345.64,137.92 342.33,140.22" fill="#ff9292"/>
<polygon points="367.60,132.38 370.95,131.92 369.60,132.91 366.27,133.30" fill="#ff7777"/>
<polygon points="409.66,114.03 412.87,113.51 411.25,114.60 408.05,115.24" fill="#ff2626"/>
<polygon points="336.98,146.76 340.21,142.61 339.04,143.13 335.80,146.75" fill="#ffaeae"/>
<polygon points="340.21,142.61 343.51,139.56 342.33,140.22 339.04,143.13" fill="#ffaeae"/>
<polygon points="390.27,120.77 393.55,119.69 392.05,121.75 388.79,122.88" fill="#ff4141"/>
<polygon points="328.65,161.89 331.83,157.04 330.60,156.02 327.42,160.53" fill="#ffffff"/>
<polygon points="417.70,112.36 420.93,110.65 419.29,110.73 416.08,112.40" fill="#ff2626"/>
<polygon points="359.51,133.28 362.90,133.29 361.60,133.84 358.21,133.57" fill="#ff7777"/>
<polygon points="375.63,129.23 378.94,127.53 377.55,129.20 374.26,130.76" fill="#ff7777"/>
<polygon points="429.03,107.17 432.25,105.16 430.62,103.81 427.40,106.03" fill="#ff0b0b"/>
<polygon points="351.43,134.79 354.81,133.73 353.54,133.90 350.18,135.21" fill="#ff7777"/>
<polygon points="398.36,116.69 401.61,116.06 400.04,118.34 396.81,118.94" fill="#ff4141"/>
<polygon points="331.83,157.04 335.00,151.96 333.78,151.34 330.60,156.02" fill="#ffe4e4"/>
<polygon points="386.98,122.16 390.27,120.77 388.79,122.88 385.52,124.34" fill="#ff4141"/>
<polygon points="425.79,109.57 429.03,107.17 427.40,106.03 424.16,108.47" fill="#ff0b0b"/>
<polygon points="414.48,113.54 417.70,112.36 416.08,112.40 412.87,113.51" fill="#ff2626"/>
<polygon points="364.22,132.51 367.60,132.38 366.27,133.30 362.90,133.29" fill="#ff7777"/>
<polygon points="406.45,114.13 409.66,114.03 408.05,115.24 404.84,115.64" fill="#ff2626"/>
<polygon points="372.31,130.66 375.63,129.23 374.26,130.76 370.95,131.92" fill="#ff7777"/>
<polygon points="422.54,111.83 425.79,109.57 424.16,108.47 420.93,110.65" fill="#ff0b0b"/>
<polygon points="335.00,151.96 338.19,147.01 336.98,146.76 333.78,151.34" fill="#ffc9c9"/>
<polygon points="348.07,136.65 351.43,134.79 350.18,135.21 346.84,137.13" fill="#ff9292"/>
<polygon points="356.11,133.60 359.51,133.28 358.21,133.57 354.81,133.73" fill="#ff7777"/>
<polygon points="430.62,109.45 433.85,107.41 432.25,105.16 429.03,107.17" fill="#ff0b0b"/>
<polygon points="329.90,163.34 333.06,158.10 331.83,157.04 328.65,161.89" fill="#ffe4e4"/>
<polygon points="383.67,123.76 386.98,122.16 385.52,124.34 382.24,125.86" fill="#ff5c5c"/>
<polygon points="395.08,117.54 398.36,116.69 396.81,118.94 393.55,119.69" fill="#ff4141"/>
<polygon points="419.30,113.69 422.54,111.83 420.93,110.65 417.70,112.36" fill="#ff2626"/>
<polygon points="344.73,139.22 348.07,136.65 346.84,137.13 343.51,139.56" fill="#ff9292"/>
<polygon points="338.19,147.01 341.43,142.63 340.21,142.61 336.98,146.76" fill="#ffaeae"/>
<polygon points="411.26,114.07 414.48,113.54 412.87,113.51 409.66,114.03" fill="#ff2626"/>
<polygon points="427.37,111.88 430.62,109.45 429.03,107.17 425.79,109.57" fill="#ff0b0b"/>
<polygon points="341.43,142.63 344.73,139.22 343.51,139.56 340.21,142.61" fill="#ff9292"/>
<polygon points="368.94,131.05 372.31,130.66 370.95,131.92 367.60,132.38" fill="#ff7777"/>
<polygon points="403.20,114.27 406.45,114.13 404.84,115.64 401.61,116.06" fill="#ff2626"/>
<polygon points="380.36,125.48 383.67,123.76 382.24,125.86 378.94,127.53" fill="#ff5c5c"/>
<polygon points="360.82,132.73 364.22,132.51 362.90,133.29 359.51,133.28" fill="#ff7777"/>
<polygon points="333.06,158.10 336.22,152.57 335.00,151.96 331.83,157.04" fill="#ffc9c9"/>
<polygon points="432.18,112.56 435.42,110.29 433.85,107.41 430.62,109.45" fill="#ff0b0b"/>
<polygon points="424.11,114.26 427.37,111.88 425.79,109.57 422.54,111.83" fill="#ff0b0b"/>
<polygon points="416.07,115.03 419.30,113.69 417.70,112.36 414.48,113.54" fill="#ff2626"/>
<polygon points="352.70,134.54 356.11,133.60 354.81,133.73 351.43,134.79" fill="#ff7777"/>
<polygon points="429.64,146.84 432.97,142.85 431.48,138.31 428.18,141.81" fill="#ff9292"/>
<polygon points="391.78,118.60 395.08,117.54 393.55,119.69 390.27,120.77" fill="#ff4141"/>
<polygon points="428.91,115.20 432.18,112.56 430.62,109.45 427.37,111.88" fill="#ff0b0b"/>
<polygon points="426.40,148.95 429.64,146.84 428.18,141.81 424.92,144.21" fill="#ffaeae"/>
<polygon points="428.18,141.81 431.48,138.31 430.04,132.93 426.75,136.09" fill="#ff9292"/>
<polygon points="420.86,116.33 424.11,114.26 422.54,111.83 419.30,113.69" fill="#ff2626"/>
<polygon points="433.70,116.42 436.97,113.74 435.42,110.29 432.18,112.56" fill="#ff2626"/>
<polygon points="432.97,142.85 436.32,138.60 434.82,134.31 431.48,138.31" fill="#ff9292"/>
<polygon points="377.02,127.17 380.36,125.48 378.94,127.53 375.63,129.23" fill="#ff5c5c"/>
<polygon points="431.48,138.31 434.82,134.31 433.35,129.36 430.04,132.93" fill="#ff7777"/>
<polygon points="431.22,149.54 434.54,145.95 432.97,142.85 429.64,146.84" fill="#ffaeae"/>
<polygon points="331.16,164.91 334.30,159.16 333.06,158.10 329.90,163.34" fill="#ffe4e4"/>
<polygon points="424.92,144.21 428.18,141.81 426.75,136.09 423.48,138.55" fill="#ff9292"/>
<polygon points="425.64,117.80 428.91,115.20 427.37,111.88 424.11,114.26" fill="#ff2626"/>
<polygon points="427.95,152.16 431.22,149.54 429.64,146.84 426.40,148.95" fill="#ffc9c9"/>
<polygon points="434.82,134.31 438.15,130.45 436.67,125.81 433.35,129.36" fill="#ff5c5c"/>
<polygon points="435.19,120.99 438.47,118.10 436.97,113.74 433.70,116.42" fill="#ff2626"/>
<polygon points="336.22,152.57 339.41,147.24 338.19,147.01 335.00,151.96" fill="#ffaeae"/>
<polygon points="408.04,114.01 411.26,114.07 409.66,114.03 406.45,114.13" fill="#ff2626"/>
<polygon points="436.67,125.81 439.96,122.64 438.47,118.10 435.19,120.99" fill="#ff4141"/>
<polygon points="430.42,119.38 433.70,116.42 432.18,112.56 428.91,115.20" fill="#ff2626"/>
<polygon points="436.32,138.60 439.67,134.59 438.15,130.45 434.82,134.31" fill="#ff7777"/>
<polygon points="438.15,130.45 441.46,127.02 439.96,122.64 436.67,125.81" fill="#ff5c5c"/>
<polygon points="430.04,132.93 433.35,129.36 431.89,124.23 428.60,127.43" fill="#ff5c5c"/>
<polygon points="433.35,129.36 436.67,125.81 435.19,120.99 431.89,124.23" fill="#ff5c5c"/>
<polygon points="434.54,145.95 437.88,141.96 436.32,138.60 432.97,142.85" fill="#ff9292"/>
<polygon points="426.75,136.09 430.04,132.93 428.60,127.43 425.31,130.30" fill="#ff7777"/>
<polygon points="431.89,124.23 435.19,120.99 433.70,116.42 430.42,119.38" fill="#ff4141"/>
<polygon points="365.55,131.26 368.94,131.05 367.60,132.38 364.22,132.51" fill="#ff7777"/>
<polygon points="439.67,134.59 442.99,131.03 441.46,127.02 438.15,130.45" fill="#ff5c5c"/>
<polygon points="423.17,150.62 426.40,148.95 424.92,144.21 421.69,145.92" fill="#ffaeae"/>
<polygon points="399.92,115.03 403.20,114.27 401.61,116.06 398.36,116.69" fill="#ff2626"/>
<polygon points="428.60,127.43 431.89,124.23 430.42,119.38 427.14,122.26" fill="#ff4141"/>
<polygon points="427.14,122.26 430.42,119.38 428.91,115.20 425.64,117.80" fill="#ff2626"/>
<polygon points="349.31,136.26 352.70,134.54 351.43,134.79 348.07,136.65" fill="#ff7777"/>
<polygon points="412.83,115.79 416.07,115.03 414.48,113.54 411.26,114.07" fill="#ff2626"/>
<polygon points="422.38,120.12 425.64,117.80 424.11,114.26 420.86,116.33" fill="#ff2626"/>
<polygon points="423.48,138.55 426.75,136.09 425.31,130.30 422.04,132.69" fill="#ff7777"/>
<polygon points="417.61,117.95 420.86,116.33 419.30,113.69 416.07,115.03" fill="#ff2626"/>
<polygon points="437.88,141.96 441.22,138.12 439.67,134.59 436.32,138.60" fill="#ff9292"/>
<polygon points="421.69,145.92 424.92,144.21 423.48,138.55 420.23,140.40" fill="#ff9292"/>
<polygon points="357.41,133.21 360.82,132.73 359.51,133.28 356.11,133.60" fill="#ff7777"/>
<polygon points="388.46,119.95 391.78,118.60 390.27,120.77 386.98,122.16" fill="#ff4141"/>
<polygon points="425.31,130.30 428.60,127.43 427.14,122.26 423.86,124.83" fill="#ff5c5c"/>
<polygon points="424.70,154.19 427.95,152.16 426.40,148.95 423.17,150.62" fill="#ffc9c9"/>
<polygon points="441.22,138.12 444.54,134.65 442.99,131.03 439.67,134.59" fill="#ff7777"/>
<polygon points="373.67,128.48 377.02,127.17 375.63,129.23 372.31,130.66" fill="#ff5c5c"/>
<polygon points="423.86,124.83 427.14,122.26 425.64,117.80 422.38,120.12" fill="#ff4141"/>
<polygon points="339.41,147.24 342.65,142.58 341.43,142.63 338.19,147.01" fill="#ffaeae"/>
<polygon points="432.85,151.46 436.17,148.14 434.54,145.95 431.22,149.54" fill="#ffaeae"/>
<polygon points="345.96,138.91 349.31,136.26 348.07,136.65 344.73,139.22" fill="#ff7777"/>
<polygon points="422.04,132.69 425.31,130.30 423.86,124.83 420.59,127.07" fill="#ff5c5c"/>
<polygon points="334.30,159.16 337.45,153.05 336.22,152.57 333.06,158.10" fill="#ffc9c9"/>
<polygon points="429.56,154.39 432.85,151.46 431.22,149.54 427.95,152.16" fill="#ffc9c9"/>
<polygon points="436.17,148.14 439.49,144.61 437.88,141.96 434.54,145.95" fill="#ffaeae"/>
<polygon points="420.23,140.40 423.48,138.55 422.04,132.69 418.79,134.57" fill="#ff7777"/>
<polygon points="342.65,142.58 345.96,138.91 344.73,139.22 341.43,142.63" fill="#ff9292"/>
<polygon points="419.12,122.06 422.38,120.12 420.86,116.33 417.61,117.95" fill="#ff2626"/>
<polygon points="419.93,152.13 423.17,150.62 421.69,145.92 418.45,147.31" fill="#ffaeae"/>
<polygon points="420.59,127.07 423.86,124.83 422.38,120.12 419.12,122.06" fill="#ff4141"/>
<polygon points="439.49,144.61 442.82,141.11 441.22,138.12 437.88,141.96" fill="#ff9292"/>
<polygon points="442.82,141.11 446.13,137.87 444.54,134.65 441.22,138.12" fill="#ff7777"/>
<polygon points="421.46,155.94 424.70,154.19 423.17,150.62 419.93,152.13" fill="#ffc9c9"/>
<polygon points="418.45,147.31 421.69,145.92 420.23,140.40 416.99,141.79" fill="#ff9292"/>
<polygon points="385.13,121.62 388.46,119.95 386.98,122.16 383.67,123.76" fill="#ff4141"/>
<polygon points="426.28,156.90 429.56,154.39 427.95,152.16 424.70,154.19" fill="#ffc9c9"/>
<polygon points="414.37,119.08 417.61,117.95 416.07,115.03 412.83,115.79" fill="#ff2626"/>
<polygon points="396.63,116.03 399.92,115.03 398.36,116.69 395.08,117.54" fill="#ff2626"/>
<polygon points="332.43,166.50 335.55,160.06 334.30,159.16 331.16,164.91" fill="#ffe4e4"/>
<polygon points="418.79,134.57 422.04,132.69 420.59,127.07 417.33,128.84" fill="#ff5c5c"/>
<polygon points="404.79,113.77 408.04,114.01 406.45,114.13 403.20,114.27" fill="#ff0b0b"/>
<polygon points="362.13,131.64 365.55,131.26 364.22,132.51 360.82,132.73" fill="#ff5c5c"/>
<polygon points="409.59,116.05 412.83,115.79 411.26,114.07 408.04,114.01" fill="#ff2626"/>
<polygon points="370.29,129.14 373.67,128.48 372.31,130.66 368.94,131.05" fill="#ff5c5c"/>
<polygon points="353.98,134.03 357.41,133.21 356.11,133.60 352.70,134.54" fill="#ff7777"/>
<polygon points="416.99,141.79 420.23,140.40 418.79,134.57 415.53,136.00" fill="#ff7777"/>
<polygon points="417.33,128.84 420.59,127.07 419.12,122.06 415.86,123.56" fill="#ff4141"/>
<polygon points="415.86,123.56 419.12,122.06 417.61,117.95 414.37,119.08" fill="#ff2626"/>
<polygon points="423.02,159.00 426.28,156.90 424.70,154.19 421.46,155.94" fill="#ffc9c9"/>
<polygon points="444.44,143.82 447.74,140.82 446.13,137.87 442.82,141.11" fill="#ff9292"/>
<polygon points="337.45,153.05 340.63,147.21 339.41,147.24 336.22,152.57" fill="#ffaeae"/>
<polygon points="416.69,153.40 419.93,152.13 418.45,147.31 415.21,148.35" fill="#ffaeae"/>
<polygon points="441.13,146.96 444.44,143.82 442.82,141.11 439.49,144.61" fill="#ff9292"/>
<polygon points="437.82,150.07 441.13,146.96 439.49,144.61 436.17,148.14" fill="#ffaeae"/>
<polygon points="381.79,123.43 385.13,121.62 383.67,123.76 380.36,125.48" fill="#ff4141"/>
<polygon points="434.51,153.13 437.82,150.07 436.17,148.14 432.85,151.46" fill="#ffaeae"/>
<polygon points="418.21,157.33 421.46,155.94 419.93,152.13 416.69,153.40" fill="#ffc9c9"/>
<polygon points="431.20,156.28 434.51,153.13 432.85,151.46 429.56,154.39" fill="#ffc9c9"/>
<polygon points="415.53,136.00 418.79,134.57 417.33,128.84 414.08,130.21" fill="#ff5c5c"/>
<polygon points="415.21,148.35 418.45,147.31 416.99,141.79 413.74,142.77" fill="#ff9292"/>
<polygon points="427.89,159.20 431.20,156.28 429.56,154.39 426.28,156.90" fill="#ffc9c9"/>
<polygon points="393.31,117.01 396.63,116.03 395.08,117.54 391.78,118.60" fill="#ff2626"/>
<polygon points="411.11,119.80 414.37,119.08 412.83,115.79 409.59,116.05" fill="#ff2626"/>
<polygon points="414.08,130.21 417.33,128.84 415.86,123.56 412.61,124.67" fill="#ff4141"/>
<polygon points="350.57,135.60 353.98,134.03 352.70,134.54 349.31,136.26" fill="#ff7777"/>
<polygon points="419.76,160.65 423.02,159.00 421.46,155.94 418.21,157.33" fill="#ffe4e4"/>
<polygon points="413.74,142.77 416.99,141.79 415.53,136.00 412.28,136.99" fill="#ff7777"/>
<polygon points="335.55,160.06 338.67,153.26 337.45,153.05 334.30,159.16" fill="#ffc9c9"/>
<polygon points="401.49,114.88 404.79,113.77 403.20,114.27 399.92,115.03" fill="#ff0b0b"/>
<polygon points="378.43,125.08 381.79,123.43 380.36,125.48 377.02,127.17" fill="#ff4141"/>
<polygon points="412.61,124.67 415.86,123.56 414.37,119.08 411.11,119.80" fill="#ff4141"/>
<polygon points="446.07,146.55 449.36,143.71 447.74,140.82 444.44,143.82" fill="#ff9292"/>
<polygon points="340.63,147.21 343.87,142.17 342.65,142.58 339.41,147.24" fill="#ff9292"/>
<polygon points="424.60,161.67 427.89,159.20 426.28,156.90 423.02,159.00" fill="#ffe4e4"/>
<polygon points="358.70,132.33 362.13,131.64 360.82,132.73 357.41,133.21" fill="#ff5c5c"/>
<polygon points="442.77,149.46 446.07,146.55 444.44,143.82 441.13,146.96" fill="#ffaeae"/>
<polygon points="366.87,129.48 370.29,129.14 368.94,131.05 365.55,131.26" fill="#ff5c5c"/>
<polygon points="333.67,167.54 336.78,160.67 335.55,160.06 332.43,166.50" fill="#ffe4e4"/>
<polygon points="406.33,116.27 409.59,116.05 408.04,114.01 404.79,113.77" fill="#ff0b0b"/>
<polygon points="413.45,153.96 416.69,153.40 415.21,148.35 411.96,148.92" fill="#ffaeae"/>
<polygon points="439.47,152.26 442.77,149.46 441.13,146.96 437.82,150.07" fill="#ffaeae"/>
<polygon points="347.19,138.27 350.57,135.60 349.31,136.26 345.96,138.91" fill="#ff7777"/>
<polygon points="412.28,136.99 415.53,136.00 414.08,130.21 410.81,131.23" fill="#ff5c5c"/>
<polygon points="414.96,158.21 418.21,157.33 416.69,153.40 413.45,153.96" fill="#ffc9c9"/>
<polygon points="343.87,142.17 347.19,138.27 345.96,138.91 342.65,142.58" fill="#ff7777"/>
<polygon points="436.17,154.98 439.47,152.26 437.82,150.07 434.51,153.13" fill="#ffc9c9"/>
<polygon points="389.97,118.23 393.31,117.01 391.78,118.60 388.46,119.95" fill="#ff2626"/>
<polygon points="411.96,148.92 415.21,148.35 413.74,142.77 410.49,143.34" fill="#ff9292"/>
<polygon points="421.32,163.60 424.60,161.67 423.02,159.00 419.76,160.65" fill="#ffe4e4"/>
<polygon points="432.83,158.36 436.17,154.98 434.51,153.13 431.20,156.28" fill="#ffc9c9"/>
<polygon points="429.51,161.49 432.83,158.36 431.20,156.28 427.89,159.20" fill="#ffc9c9"/>
<polygon points="447.69,149.51 450.98,146.81 449.36,143.71 446.07,146.55" fill="#ffaeae"/>
<polygon points="375.06,126.34 378.43,125.08 377.02,127.17 373.67,128.48" fill="#ff4141"/>
<polygon points="416.50,161.82 419.76,160.65 418.21,157.33 414.96,158.21" fill="#ffe4e4"/>
<polygon points="410.81,131.23 414.08,130.21 412.61,124.67 409.34,125.48" fill="#ff4141"/>
<polygon points="398.18,115.98 401.49,114.88 399.92,115.03 396.63,116.03" fill="#ff0b0b"/>
<polygon points="407.85,120.36 411.11,119.80 409.59,116.05 406.33,116.27" fill="#ff2626"/>
<polygon points="444.39,152.34 447.69,149.51 446.07,146.55 442.77,149.46" fill="#ffaeae"/>
<polygon points="426.20,164.15 429.51,161.49 427.89,159.20 424.60,161.67" fill="#ffe4e4"/>
<polygon points="410.49,143.34 413.74,142.77 412.28,136.99 409.02,137.54" fill="#ff7777"/>
<polygon points="409.34,125.48 412.61,124.67 411.11,119.80 407.85,120.36" fill="#ff2626"/>
<polygon points="338.67,153.26 341.84,146.79 340.63,147.21 337.45,153.05" fill="#ffaeae"/>
<polygon points="441.09,155.15 444.39,152.34 442.77,149.46 439.47,152.26" fill="#ffaeae"/>
<polygon points="355.25,132.94 358.70,132.33 357.41,133.21 353.98,134.03" fill="#ff5c5c"/>
<polygon points="386.62,120.01 389.97,118.23 388.46,119.95 385.13,121.62" fill="#ff2626"/>
<polygon points="418.06,164.99 421.32,163.60 419.76,160.65 416.50,161.82" fill="#ffe4e4"/>
<polygon points="449.31,152.67 452.60,149.99 450.98,146.81 447.69,149.51" fill="#ffaeae"/>
<polygon points="363.44,129.87 366.87,129.48 365.55,131.26 362.13,131.64" fill="#ff5c5c"/>
<polygon points="409.02,137.54 412.28,136.99 410.81,131.23 407.54,131.70" fill="#ff5c5c"/>
<polygon points="422.91,166.31 426.20,164.15 424.60,161.67 421.32,163.60" fill="#ffe4e4"/>
<polygon points="437.78,157.99 441.09,155.15 439.47,152.26 436.17,154.98" fill="#ffc9c9"/>
<polygon points="403.04,117.03 406.33,116.27 404.79,113.77 401.49,114.88" fill="#ff0b0b"/>
<polygon points="411.71,158.83 414.96,158.21 413.45,153.96 410.20,154.36" fill="#ffc9c9"/>
<polygon points="410.20,154.36 413.45,153.96 411.96,148.92 408.70,149.27" fill="#ffaeae"/>
<polygon points="434.45,161.04 437.78,157.99 436.17,154.98 432.83,158.36" fill="#ffc9c9"/>
<polygon points="446.00,155.55 449.31,152.67 447.69,149.51 444.39,152.34" fill="#ffaeae"/>
<polygon points="431.13,163.97 434.45,161.04 432.83,158.36 429.51,161.49" fill="#ffe4e4"/>
<polygon points="371.65,127.10 375.06,126.34 373.67,128.48 370.29,129.14" fill="#ff4141"/>
<polygon points="336.78,160.67 339.89,153.18 338.67,153.26 335.55,160.06" fill="#ffc9c9"/>
<polygon points="408.70,149.27 411.96,148.92 410.49,143.34 407.22,143.69" fill="#ff9292"/>
<polygon points="413.24,162.69 416.50,161.82 414.96,158.21 411.71,158.83" fill="#ffe4e4"/>
<polygon points="407.54,131.70 410.81,131.23 409.34,125.48 406.05,126.04" fill="#ff4141"/>
<polygon points="442.68,158.47 446.00,155.55 444.39,152.34 441.09,155.15" fill="#ffc9c9"/>
<polygon points="394.85,116.83 398.18,115.98 396.63,116.03 393.31,117.01" fill="#ff0b0b"/>
<polygon points="334.94,168.80 338.04,161.35 336.78,160.67 333.67,167.54" fill="#ffe4e4"/>
<polygon points="383.25,121.92 386.62,120.01 385.13,121.62 381.79,123.43" fill="#ff2626"/>
<polygon points="427.82,166.52 431.13,163.97 429.51,161.49 426.20,164.15" fill="#ffe4e4"/>
<polygon points="450.92,155.94 454.22,153.22 452.60,149.99 449.31,152.67" fill="#ffaeae"/>
<polygon points="404.56,120.97 407.85,120.36 406.33,116.27 403.04,117.03" fill="#ff2626"/>
<polygon points="439.36,161.33 442.68,158.47 441.09,155.15 437.78,157.99" fill="#ffc9c9"/>
<polygon points="406.05,126.04 409.34,125.48 407.85,120.36 404.56,120.97" fill="#ff2626"/>
<polygon points="351.81,134.40 355.25,132.94 353.98,134.03 350.57,135.60" fill="#ff5c5c"/>
<polygon points="419.64,167.77 422.91,166.31 421.32,163.60 418.06,164.99" fill="#ffe4e4"/>
<polygon points="341.84,146.79 345.08,141.25 343.87,142.17 340.63,147.21" fill="#ff9292"/>
<polygon points="407.22,143.69 410.49,143.34 409.02,137.54 405.73,137.88" fill="#ff7777"/>
<polygon points="447.60,158.91 450.92,155.94 449.31,152.67 446.00,155.55" fill="#ffc9c9"/>
<polygon points="436.05,164.07 439.36,161.33 437.78,157.99 434.45,161.04" fill="#ffe4e4"/>
<polygon points="414.79,166.01 418.06,164.99 416.50,161.82 413.24,162.69" fill="#ffe4e4"/>
<polygon points="424.52,168.60 427.82,166.52 426.20,164.15 422.91,166.31" fill="#ffe4e4"/>
<polygon points="399.72,117.93 403.04,117.03 401.49,114.88 398.18,115.98" fill="#ff0b0b"/>
<polygon points="444.27,161.91 447.60,158.91 446.00,155.55 442.68,158.47" fill="#ffc9c9"/>
<polygon points="432.74,166.61 436.05,164.07 434.45,161.04 431.13,163.97" fill="#ffe4e4"/>
<polygon points="359.98,130.40 363.44,129.87 362.13,131.64 358.70,132.33" fill="#ff5c5c"/>
<polygon points="379.88,123.57 383.25,121.92 381.79,123.43 378.43,125.08" fill="#ff2626"/>
<polygon points="452.53,159.35 455.83,156.57 454.22,153.22 450.92,155.94" fill="#ffc9c9"/>
<polygon points="405.73,137.88 409.02,137.54 407.54,131.70 404.25,132.06" fill="#ff5c5c"/>
<polygon points="348.41,137.11 351.81,134.40 350.57,135.60 347.19,138.27" fill="#ff5c5c"/>
<polygon points="440.96,164.73 444.27,161.91 442.68,158.47 439.36,161.33" fill="#ffe4e4"/>
<polygon points="345.08,141.25 348.41,137.11 347.19,138.27 343.87,142.17" fill="#ff7777"/>
<polygon points="408.43,159.43 411.71,158.83 410.20,154.36 406.92,154.80" fill="#ffc9c9"/>
<polygon points="406.92,154.80 410.20,154.36 408.70,149.27 405.42,149.62" fill="#ffaeae"/>
<polygon points="391.50,117.67 394.85,116.83 393.31,117.01 389.97,118.23" fill="#ff0b0b"/>
<polygon points="449.21,162.28 452.53,159.35 450.92,155.94 447.60,158.91" fill="#ffc9c9"/>
<polygon points="368.22,127.53 371.65,127.10 370.29,129.14 366.87,129.48" fill="#ff4141"/>
<polygon points="429.44,168.87 432.74,166.61 431.13,163.97 427.82,166.52" fill="#ffe4e4"/>
<polygon points="409.95,163.47 413.24,162.69 411.71,158.83 408.43,159.43" fill="#ffc9c9"/>
<polygon points="437.66,167.12 440.96,164.73 439.36,161.33 436.05,164.07" fill="#ffe4e4"/>
<polygon points="445.88,165.20 449.21,162.28 447.60,158.91 444.27,161.91" fill="#ffe4e4"/>
<polygon points="404.25,132.06 407.54,131.70 406.05,126.04 402.75,126.52" fill="#ff4141"/>
<polygon points="416.36,168.89 419.64,167.77 418.06,164.99 414.79,166.01" fill="#ffe4e4"/>
<polygon points="405.42,149.62 408.70,149.27 407.22,143.69 403.92,144.03" fill="#ff9292"/>
<polygon points="421.24,170.17 424.52,168.60 422.91,166.31 419.64,167.77" fill="#ffffff"/>
<polygon points="454.12,163.00 457.40,160.56 455.83,156.57 452.53,159.35" fill="#ffc9c9"/>
<polygon points="401.24,121.64 404.56,120.97 403.04,117.03 399.72,117.93" fill="#ff2626"/>
<polygon points="442.56,167.96 445.88,165.20 444.27,161.91 440.96,164.73" fill="#ffe4e4"/>
<polygon points="402.75,126.52 406.05,126.04 404.56,120.97 401.24,121.64" fill="#ff2626"/>
<polygon points="339.89,153.18 343.04,145.96 341.84,146.79 338.67,153.26" fill="#ff9292"/>
<polygon points="434.37,169.24 437.66,167.12 436.05,164.07 432.74,166.61" fill="#ffe4e4"/>
<polygon points="336.26,170.57 339.33,162.45 338.04,161.35 334.94,168.80" fill="#ffe4e4"/>
<polygon points="411.50,166.92 414.79,166.01 413.24,162.69 409.95,163.47" fill="#ffe4e4"/>
<polygon points="376.48,124.76 379.88,123.57 378.43,125.08 375.06,126.34" fill="#ff2626"/>
<polygon points="450.83,165.57 454.12,163.00 452.53,159.35 449.21,162.28" fill="#ffe4e4"/>
<polygon points="396.38,118.73 399.72,117.93 398.18,115.98 394.85,116.83" fill="#ff0b0b"/>
<polygon points="426.15,170.79 429.44,168.87 427.82,166.52 424.52,168.60" fill="#ffffff"/>
<polygon points="403.92,144.03 407.22,143.69 405.73,137.88 402.43,138.21" fill="#ff7777"/>
<polygon points="455.72,166.69 458.97,164.58 457.40,160.56 454.12,163.00" fill="#ffe4e4"/>
<polygon points="388.13,119.63 391.50,117.67 389.97,118.23 386.62,120.01" fill="#ff0b0b"/>
<polygon points="338.04,161.35 341.12,153.01 339.89,153.18 336.78,160.67" fill="#ffc9c9"/>
<polygon points="439.29,169.91 442.56,167.96 440.96,164.73 437.66,167.12" fill="#ffe4e4"/>
<polygon points="447.53,168.08 450.83,165.57 449.21,162.28 445.88,165.20" fill="#ffe4e4"/>
<polygon points="356.51,131.13 359.98,130.40 358.70,132.33 355.25,132.94" fill="#ff4141"/>
<polygon points="431.08,171.17 434.37,169.24 432.74,166.61 429.44,168.87" fill="#ffffff"/>
<polygon points="457.34,170.19 460.56,168.44 458.97,164.58 455.72,166.69" fill="#ffe4e4"/>
<polygon points="402.43,138.21 405.73,137.88 404.25,132.06 400.93,132.44" fill="#ff5c5c"/>
<polygon points="405.12,160.18 408.43,159.43 406.92,154.80 403.61,155.40" fill="#ffc9c9"/>
<polygon points="417.95,171.40 421.24,170.17 419.64,167.77 416.36,168.89" fill="#ffffff"/>
<polygon points="452.46,168.73 455.72,166.69 454.12,163.00 450.83,165.57" fill="#ffe4e4"/>
<polygon points="403.61,155.40 406.92,154.80 405.42,149.62 402.10,150.14" fill="#ffaeae"/>
<polygon points="444.24,170.35 447.53,168.08 445.88,165.20 442.56,167.96" fill="#ffe4e4"/>
<polygon points="406.65,164.34 409.95,163.47 408.43,159.43 405.12,160.18" fill="#ffc9c9"/>
<polygon points="413.07,169.87 416.36,168.89 414.79,166.01 411.50,166.92" fill="#ffe4e4"/>
<polygon points="364.76,127.87 368.22,127.53 366.87,129.48 363.44,129.87" fill="#ff4141"/>
<polygon points="422.86,172.34 426.15,170.79 424.52,168.60 421.24,170.17" fill="#ffffff"/>
<polygon points="397.91,122.33 401.24,121.64 399.72,117.93 396.38,118.73" fill="#ff2626"/>
<polygon points="436.02,171.65 439.29,169.91 437.66,167.12 434.37,169.24" fill="#ffffff"/>
<polygon points="384.74,121.55 388.13,119.63 386.62,120.01 383.25,121.92" fill="#ff2626"/>
<polygon points="400.93,132.44 404.25,132.06 402.75,126.52 399.43,127.04" fill="#ff4141"/>
<polygon points="402.10,150.14 405.42,149.62 403.92,144.03 400.60,144.48" fill="#ff9292"/>
<polygon points="373.05,125.49 376.48,124.76 375.06,126.34 371.65,127.10" fill="#ff2626"/>
<polygon points="399.43,127.04 402.75,126.52 401.24,121.64 397.91,122.33" fill="#ff2626"/>
<polygon points="459.00,173.28 462.19,171.92 460.56,168.44 457.34,170.19" fill="#ffffff"/>
<polygon points="449.20,170.69 452.46,168.73 450.83,165.57 447.53,168.08" fill="#ffe4e4"/>
<polygon points="393.02,119.68 396.38,118.73 394.85,116.83 391.50,117.67" fill="#ff0b0b"/>
<polygon points="408.19,167.86 411.50,166.92 409.95,163.47 406.65,164.34" fill="#ffe4e4"/>
<polygon points="343.04,145.96 346.29,139.85 345.08,141.25 341.84,146.79" fill="#ff7777"/>
<polygon points="427.80,172.88 431.08,171.17 429.44,168.87 426.15,170.79" fill="#ffffff"/>
<polygon points="440.97,172.17 444.24,170.35 442.56,167.96 439.29,169.91" fill="#ffffff"/>
<polygon points="454.12,171.71 457.34,170.19 455.72,166.69 452.46,168.73" fill="#ffffff"/>
<polygon points="353.05,132.61 356.51,131.13 355.25,132.94 351.81,134.40" fill="#ff4141"/>
<polygon points="400.60,144.48 403.92,144.03 402.43,138.21 399.10,138.64" fill="#ff7777"/>
<polygon points="337.60,172.65 340.65,163.91 339.33,162.45 336.26,170.57" fill="#ffe4e4"/>
<polygon points="432.75,173.29 436.02,171.65 434.37,169.24 431.08,171.17" fill="#ffffff"/>
<polygon points="381.35,123.08 384.74,121.55 383.25,121.92 379.88,123.57" fill="#ff2626"/>
<polygon points="414.66,172.44 417.95,171.40 416.36,168.89 413.07,169.87" fill="#ffffff"/>
<polygon points="445.94,172.50 449.20,170.69 447.53,168.08 444.24,170.35" fill="#ffffff"/>
<polygon points="419.57,173.61 422.86,172.34 421.24,170.17 417.95,171.40" fill="#ffffff"/>
<polygon points="401.79,161.17 405.12,160.18 403.61,155.40 400.27,156.30" fill="#ffc9c9"/>
<polygon points="399.10,138.64 402.43,138.21 400.93,132.44 397.59,132.93" fill="#ff5c5c"/>
<polygon points="403.32,165.39 406.65,164.34 405.12,160.18 401.79,161.17" fill="#ffc9c9"/>
<polygon points="409.76,170.83 413.07,169.87 411.50,166.92 408.19,167.86" fill="#ffe4e4"/>
<polygon points="400.27,156.30 403.61,155.40 402.10,150.14 398.76,150.88" fill="#ffaeae"/>
<polygon points="346.29,139.85 349.63,135.40 348.41,137.11 345.08,141.25" fill="#ff5c5c"/>
<polygon points="349.63,135.40 353.05,132.61 351.81,134.40 348.41,137.11" fill="#ff5c5c"/>
<polygon points="394.55,123.16 397.91,122.33 396.38,118.73 393.02,119.68" fill="#ff2626"/>
<polygon points="437.71,173.73 440.97,172.17 439.29,169.91 436.02,171.65" fill="#ffffff"/>
<polygon points="424.50,174.35 427.80,172.88 426.15,170.79 422.86,172.34" fill="#ffffff"/>
<polygon points="450.90,173.15 454.12,171.71 452.46,168.73 449.20,170.69" fill="#ffffff"/>
<polygon points="455.81,174.42 459.00,173.28 457.34,170.19 454.12,171.71" fill="#ffffff"/>
<polygon points="389.65,121.14 393.02,119.68 391.50,117.67 388.13,119.63" fill="#ff0b0b"/>
<polygon points="361.28,128.31 364.76,127.87 363.44,129.87 359.98,130.40" fill="#ff4141"/>
<polygon points="397.59,132.93 400.93,132.44 399.43,127.04 396.08,127.68" fill="#ff4141"/>
<polygon points="339.33,162.45 342.38,153.13 341.12,153.01 338.04,161.35" fill="#ffaeae"/>
<polygon points="398.76,150.88 402.10,150.14 400.60,144.48 397.26,145.08" fill="#ff9292"/>
<polygon points="341.12,153.01 344.25,144.84 343.04,145.96 339.89,153.18" fill="#ff9292"/>
<polygon points="404.86,168.95 408.19,167.86 406.65,164.34 403.32,165.39" fill="#ffe4e4"/>
<polygon points="396.08,127.68 399.43,127.04 397.91,122.33 394.55,123.16" fill="#ff2626"/>
<polygon points="369.60,125.90 373.05,125.49 371.65,127.10 368.22,127.53" fill="#ff2626"/>
<polygon points="429.46,174.83 432.75,173.29 431.08,171.17 427.80,172.88" fill="#ffffff"/>
<polygon points="442.68,174.11 445.94,172.50 444.24,170.35 440.97,172.17" fill="#ffffff"/>
<polygon points="377.93,124.13 381.35,123.08 379.88,123.57 376.48,124.76" fill="#ff2626"/>
<polygon points="397.26,145.08 400.60,144.48 399.10,138.64 395.74,139.19" fill="#ff7777"/>
<polygon points="416.27,174.69 419.57,173.61 417.95,171.40 414.66,172.44" fill="#ffffff"/>
<polygon points="386.25,122.68 389.65,121.14 388.13,119.63 384.74,121.55" fill="#ff0b0b"/>
<polygon points="411.34,173.41 414.66,172.44 413.07,169.87 409.76,170.83" fill="#ffffff"/>
<polygon points="398.44,162.35 401.79,161.17 400.27,156.30 396.92,157.41" fill="#ffc9c9"/>
<polygon points="434.43,175.19 437.71,173.73 436.02,171.65 432.75,173.29" fill="#ffffff"/>
<polygon points="447.66,174.54 450.90,173.15 449.20,170.69 445.94,172.50" fill="#ffffff"/>
<polygon points="399.97,166.59 403.32,165.39 401.79,161.17 398.44,162.35" fill="#ffc9c9"/>
<polygon points="338.87,173.55 341.99,165.40 340.65,163.91 337.60,172.65" fill="#ffe4e4"/>
<polygon points="421.21,175.61 424.50,174.35 422.86,172.34 419.57,173.61" fill="#ffffff"/>
<polygon points="406.43,171.93 409.76,170.83 408.19,167.86 404.86,168.95" fill="#ffe4e4"/>
<polygon points="391.17,124.22 394.55,123.16 393.02,119.68 389.65,121.14" fill="#ff2626"/>
<polygon points="452.62,175.49 455.81,174.42 454.12,171.71 450.90,173.15" fill="#ffffff"/>
<polygon points="396.92,157.41 400.27,156.30 398.76,150.88 395.40,151.80" fill="#ffaeae"/>
<polygon points="395.74,139.19 399.10,138.64 397.59,132.93 394.23,133.54" fill="#ff5c5c"/>
<polygon points="439.42,175.55 442.68,174.11 440.97,172.17 437.71,173.73" fill="#ffffff"/>
<polygon points="426.17,176.19 429.46,174.83 427.80,172.88 424.50,174.35" fill="#ffffff"/>
<polygon points="357.78,129.06 361.28,128.31 359.98,130.40 356.51,131.13" fill="#ff4141"/>
<polygon points="401.51,170.17 404.86,168.95 403.32,165.39 399.97,166.59" fill="#ffe4e4"/>
<polygon points="392.70,128.45 396.08,127.68 394.55,123.16 391.17,124.22" fill="#ff2626"/>
<polygon points="394.23,133.54 397.59,132.93 396.08,127.68 392.70,128.45" fill="#ff4141"/>
<polygon points="395.40,151.80 398.76,150.88 397.26,145.08 393.89,145.78" fill="#ff9292"/>
<polygon points="382.84,123.91 386.25,122.68 384.74,121.55 381.35,123.08" fill="#ff2626"/>
<polygon points="366.12,126.21 369.60,125.90 368.22,127.53 364.76,127.87" fill="#ff2626"/>
<polygon points="374.48,124.72 377.93,124.13 376.48,124.76 373.05,125.49" fill="#ff2626"/>
<polygon points="444.41,175.94 447.66,174.54 445.94,172.50 442.68,174.11" fill="#ffffff"/>
<polygon points="431.15,176.57 434.43,175.19 432.75,173.29 429.46,174.83" fill="#ffffff"/>
<polygon points="395.07,163.61 398.44,162.35 396.92,157.41 393.54,158.65" fill="#ffc9c9"/>
<polygon points="412.95,175.66 416.27,174.69 414.66,172.44 411.34,173.41" fill="#ffffff"/>
<polygon points="344.25,144.84 347.49,138.01 346.29,139.85 343.04,145.96" fill="#ff7777"/>
<polygon points="408.01,174.42 411.34,173.41 409.76,170.83 406.43,171.93" fill="#ffffff"/>
<polygon points="396.60,167.80 399.97,166.59 398.44,162.35 395.07,163.61" fill="#ffc9c9"/>
<polygon points="387.78,125.31 391.17,124.22 389.65,121.14 386.25,122.68" fill="#ff2626"/>
<polygon points="393.89,145.78 397.26,145.08 395.74,139.19 392.36,139.77" fill="#ff7777"/>
<polygon points="340.65,163.91 343.69,154.01 342.38,153.13 339.33,162.45" fill="#ffaeae"/>
<polygon points="417.89,176.71 421.21,175.61 419.57,173.61 416.27,174.69" fill="#ffffff"/>
<polygon points="403.07,173.11 406.43,171.93 404.86,168.95 401.51,170.17" fill="#ffe4e4"/>
<polygon points="449.40,176.54 452.62,175.49 450.90,173.15 447.66,174.54" fill="#ffffff"/>
<polygon points="393.54,158.65 396.92,157.41 395.40,151.80 392.02,152.77" fill="#ffaeae"/>
<polygon points="436.14,176.88 439.42,175.55 437.71,173.73 434.43,175.19" fill="#ffffff"/>
<polygon points="422.86,177.42 426.17,176.19 424.50,174.35 421.21,175.61" fill="#ffffff"/>
<polygon points="354.29,130.53 357.78,129.06 356.51,131.13 353.05,132.61" fill="#ff4141"/>
<polygon points="398.14,171.40 401.51,170.17 399.97,166.59 396.60,167.80" fill="#ffe4e4"/>
<polygon points="392.36,139.77 395.74,139.19 394.23,133.54 390.84,134.13" fill="#ff5c5c"/>
<polygon points="340.18,174.83 343.36,167.38 341.99,165.40 338.87,173.55" fill="#ffe4e4"/>
<polygon points="389.31,129.22 392.70,128.45 391.17,124.22 387.78,125.31" fill="#ff2626"/>
<polygon points="379.41,124.70 382.84,123.91 381.35,123.08 377.93,124.13" fill="#ff2626"/>
<polygon points="392.02,152.77 395.40,151.80 393.89,145.78 390.49,146.44" fill="#ff9292"/>
<polygon points="441.15,177.26 444.41,175.94 442.68,174.11 439.42,175.55" fill="#ffffff"/>
<polygon points="342.38,153.13 345.48,143.80 344.25,144.84 341.12,153.01" fill="#ff9292"/>
<polygon points="390.84,134.13 394.23,133.54 392.70,128.45 389.31,129.22" fill="#ff4141"/>
<polygon points="427.85,177.86 431.15,176.57 429.46,174.83 426.17,176.19" fill="#ffffff"/>
<polygon points="347.49,138.01 350.85,133.30 349.63,135.40 346.29,139.85" fill="#ff5c5c"/>
<polygon points="391.68,164.67 395.07,163.61 393.54,158.65 390.15,159.83" fill="#ffc9c9"/>
<polygon points="350.85,133.30 354.29,130.53 353.05,132.61 349.63,135.40" fill="#ff4141"/>
<polygon points="371.01,125.02 374.48,124.72 373.05,125.49 369.60,125.90" fill="#ff2626"/>
<polygon points="384.36,126.17 387.78,125.31 386.25,122.68 382.84,123.91" fill="#ff2626"/>
<polygon points="362.61,126.63 366.12,126.21 364.76,127.87 361.28,128.31" fill="#ff2626"/>
<polygon points="404.65,175.46 408.01,174.42 406.43,171.93 403.07,173.11" fill="#ffffff"/>
<polygon points="393.21,168.80 396.60,167.80 395.07,163.61 391.68,164.67" fill="#ffc9c9"/>
<polygon points="409.61,176.54 412.95,175.66 411.34,173.41 408.01,174.42" fill="#ffffff"/>
<polygon points="446.15,177.81 449.40,176.54 447.66,174.54 444.41,175.94" fill="#ffffff"/>
<polygon points="399.70,174.34 403.07,173.11 401.51,170.17 398.14,171.40" fill="#ffe4e4"/>
<polygon points="414.57,177.66 417.89,176.71 416.27,174.69 412.95,175.66" fill="#ffffff"/>
<polygon points="432.85,178.16 436.14,176.88 434.43,175.19 431.15,176.57" fill="#ffffff"/>
<polygon points="390.15,159.83 393.54,158.65 392.02,152.77 388.61,153.55" fill="#ffaeae"/>
<polygon points="390.49,146.44 393.89,145.78 392.36,139.77 388.96,140.22" fill="#ff7777"/>
<polygon points="419.54,178.53 422.86,177.42 421.21,175.61 417.89,176.71" fill="#ffffff"/>
<polygon points="394.75,172.40 398.14,171.40 396.60,167.80 393.21,168.80" fill="#ffe4e4"/>
<polygon points="341.99,165.40 345.08,155.94 343.69,154.01 340.65,163.91" fill="#ffaeae"/>
<polygon points="437.87,178.49 441.15,177.26 439.42,175.55 436.14,176.88" fill="#ffffff"/>
<polygon points="385.89,129.78 389.31,129.22 387.78,125.31 384.36,126.17" fill="#ff2626"/>
<polygon points="424.54,179.06 427.85,177.86 426.17,176.19 422.86,177.42" fill="#ffffff"/>
<polygon points="388.96,140.22 392.36,139.77 390.84,134.13 387.43,134.55" fill="#ff5c5c"/>
<polygon points="375.95,125.06 379.41,124.70 377.93,124.13 374.48,124.72" fill="#ff2626"/>
<polygon points="341.54,176.74 344.78,170.02 343.36,167.38 340.18,174.83" fill="#ffe4e4"/>
<polygon points="388.61,153.55 392.02,152.77 390.49,146.44 387.08,146.88" fill="#ff9292"/>
<polygon points="387.43,134.55 390.84,134.13 389.31,129.22 385.89,129.78" fill="#ff4141"/>
<polygon points="442.89,179.03 446.15,177.81 444.41,175.94 441.15,177.26" fill="#ffffff"/>
<polygon points="388.27,165.34 391.68,164.67 390.15,159.83 386.73,160.23" fill="#ffc9c9"/>
<polygon points="401.28,176.50 404.65,175.46 403.07,173.11 399.70,174.34" fill="#ffffff"/>
<polygon points="380.92,126.64 384.36,126.17 382.84,123.91 379.41,124.70" fill="#ff2626"/>
<polygon points="396.31,175.45 399.70,174.34 398.14,171.40 394.75,172.40" fill="#ffe4e4"/>
<polygon points="429.55,179.41 432.85,178.16 431.15,176.57 427.85,177.86" fill="#ffffff"/>
<polygon points="389.80,169.48 393.21,168.80 391.68,164.67 388.27,165.34" fill="#ffc9c9"/>
<polygon points="406.25,177.37 409.61,176.54 408.01,174.42 404.65,175.46" fill="#ffffff"/>
<polygon points="359.09,127.37 362.61,126.63 361.28,128.31 357.78,129.06" fill="#ff2626"/>
<polygon points="367.51,125.28 371.01,125.02 369.60,125.90 366.12,126.21" fill="#ff2626"/>
<polygon points="411.23,178.43 414.57,177.66 412.95,175.66 409.61,176.54" fill="#ffffff"/>
<polygon points="386.73,160.23 390.15,159.83 388.61,153.55 385.19,153.96" fill="#ffaeae"/>
<polygon points="416.21,179.51 419.54,178.53 417.89,176.71 414.57,177.66" fill="#ffffff"/>
<polygon points="387.08,146.88 390.49,146.44 388.96,140.22 385.54,140.43" fill="#ff5c5c"/>
<polygon points="391.35,172.96 394.75,172.40 393.21,168.80 389.80,169.48" fill="#ffe4e4"/>
<polygon points="434.58,179.68 437.87,178.49 436.14,176.88 432.85,178.16" fill="#ffffff"/>
<polygon points="345.48,143.80 348.70,136.02 347.49,138.01 344.25,144.84" fill="#ff5c5c"/>
<polygon points="343.36,167.38 346.52,158.84 345.08,155.94 341.99,165.40" fill="#ffaeae"/>
<polygon points="421.21,180.17 424.54,179.06 422.86,177.42 419.54,178.53" fill="#ffffff"/>
<polygon points="343.69,154.01 346.78,143.89 345.48,143.80 342.38,153.13" fill="#ff7777"/>
<polygon points="342.93,179.00 346.22,173.02 344.78,170.02 341.54,176.74" fill="#ffe4e4"/>
<polygon points="382.45,129.99 385.89,129.78 384.36,126.17 380.92,126.64" fill="#ff2626"/>
<polygon points="439.61,180.16 442.89,179.03 441.15,177.26 437.87,178.49" fill="#ffffff"/>
<polygon points="385.54,140.43 388.96,140.22 387.43,134.55 383.99,134.67" fill="#ff4141"/>
<polygon points="372.46,125.17 375.95,125.06 374.48,124.72 371.01,125.02" fill="#ff0b0b"/>
<polygon points="397.88,177.42 401.28,176.50 399.70,174.34 396.31,175.45" fill="#ffffff"/>
<polygon points="426.23,180.61 429.55,179.41 427.85,177.86 424.54,179.06" fill="#ffffff"/>
<polygon points="385.19,153.96 388.61,153.55 387.08,146.88 383.64,147.08" fill="#ff7777"/>
<polygon points="355.58,128.76 359.09,127.37 357.78,129.06 354.29,130.53" fill="#ff2626"/>
<polygon points="383.99,134.67 387.43,134.55 385.89,129.78 382.45,129.99" fill="#ff4141"/>
<polygon points="392.90,175.83 396.31,175.45 394.75,172.40 391.35,172.96" fill="#ffe4e4"/>
<polygon points="402.87,178.19 406.25,177.37 404.65,175.46 401.28,176.50" fill="#ffffff"/>
<polygon points="384.83,166.05 388.27,165.34 386.73,160.23 383.29,160.86" fill="#ffaeae"/>
<polygon points="377.45,126.72 380.92,126.64 379.41,124.70 375.95,125.06" fill="#ff0b0b"/>
<polygon points="386.37,170.12 389.80,169.48 388.27,165.34 384.83,166.05" fill="#ffc9c9"/>
<polygon points="407.87,179.08 411.23,178.43 409.61,176.54 406.25,177.37" fill="#ffffff"/>
<polygon points="363.99,125.76 367.51,125.28 366.12,126.21 362.61,126.63" fill="#ff0b0b"/>
<polygon points="412.86,180.21 416.21,179.51 414.57,177.66 411.23,178.43" fill="#ffffff"/>
<polygon points="431.27,180.92 434.58,179.68 432.85,178.16 429.55,179.41" fill="#ffffff"/>
<polygon points="344.78,170.02 348.00,162.42 346.52,158.84 343.36,167.38" fill="#ffc9c9"/>
<polygon points="383.29,160.86 386.73,160.23 385.19,153.96 381.74,154.47" fill="#ff9292"/>
<polygon points="348.70,136.02 352.09,131.30 350.85,133.30 347.49,138.01" fill="#ff4141"/>
<polygon points="417.87,181.14 421.21,180.17 419.54,178.53 416.21,179.51" fill="#ffffff"/>
<polygon points="352.09,131.30 355.58,128.76 354.29,130.53 350.85,133.30" fill="#ff2626"/>
<polygon points="387.92,173.40 391.35,172.96 389.80,169.48 386.37,170.12" fill="#ffe4e4"/>
<polygon points="344.30,180.75 347.66,175.92 346.22,173.02 342.93,179.00" fill="#ffffff"/>
<polygon points="383.64,147.08 387.08,146.88 385.54,140.43 382.08,140.36" fill="#ff5c5c"/>
<polygon points="436.32,181.26 439.61,180.16 437.87,178.49 434.58,179.68" fill="#ffffff"/>
<polygon points="422.90,181.73 426.23,180.61 424.54,179.06 421.21,180.17" fill="#ffffff"/>
<polygon points="345.08,155.94 348.21,146.31 346.78,143.89 343.69,154.01" fill="#ff7777"/>
<polygon points="346.22,173.02 349.50,166.43 348.00,162.42 344.78,170.02" fill="#ffc9c9"/>
<polygon points="378.98,129.84 382.45,129.99 380.92,126.64 377.45,126.72" fill="#ff2626"/>
<polygon points="394.46,178.04 397.88,177.42 396.31,175.45 392.90,175.83" fill="#ffe4e4"/>
<polygon points="381.38,167.29 384.83,166.05 383.29,160.86 379.83,162.19" fill="#ffaeae"/>
<polygon points="399.47,179.00 402.87,178.19 401.28,176.50 397.88,177.42" fill="#ffffff"/>
<polygon points="368.94,125.33 372.46,125.17 371.01,125.02 367.51,125.28" fill="#ff0b0b"/>
<polygon points="381.74,154.47 385.19,153.96 383.64,147.08 380.17,147.31" fill="#ff7777"/>
<polygon points="382.08,140.36 385.54,140.43 383.99,134.67 380.52,134.45" fill="#ff4141"/>
<polygon points="382.92,171.12 386.37,170.12 384.83,166.05 381.38,167.29" fill="#ffc9c9"/>
<polygon points="427.94,182.15 431.27,180.92 429.55,179.41 426.23,180.61" fill="#ffffff"/>
<polygon points="389.47,176.18 392.90,175.83 391.35,172.96 387.92,173.40" fill="#ffe4e4"/>
<polygon points="380.52,134.45 383.99,134.67 382.45,129.99 378.98,129.84" fill="#ff2626"/>
<polygon points="404.49,179.70 407.87,179.08 406.25,177.37 402.87,178.19" fill="#ffffff"/>
<polygon points="373.95,126.57 377.45,126.72 375.95,125.06 372.46,125.17" fill="#ff0b0b"/>
<polygon points="360.45,126.62 363.99,125.76 362.61,126.63 359.09,127.37" fill="#ff0b0b"/>
<polygon points="379.83,162.19 383.29,160.86 381.74,154.47 378.27,155.60" fill="#ff9292"/>
<polygon points="409.50,180.79 412.86,180.21 411.23,178.43 407.87,179.08" fill="#ffffff"/>
<polygon points="347.66,175.92 351.02,170.60 349.50,166.43 346.22,173.02" fill="#ffc9c9"/>
<polygon points="414.51,181.94 417.87,181.14 416.21,179.51 412.86,180.21" fill="#ffffff"/>
<polygon points="345.67,182.44 349.11,178.70 347.66,175.92 344.30,180.75" fill="#ffffff"/>
<polygon points="433.00,182.52 436.32,181.26 434.58,179.68 431.27,180.92" fill="#ffffff"/>
<polygon points="384.46,174.11 387.92,173.40 386.37,170.12 382.92,171.12" fill="#ffe4e4"/>
<polygon points="346.78,143.89 349.98,134.91 348.70,136.02 345.48,143.80" fill="#ff4141"/>
<polygon points="346.52,158.84 349.71,150.16 348.21,146.31 345.08,155.94" fill="#ff7777"/>
<polygon points="377.92,169.18 381.38,167.29 379.83,162.19 376.37,164.36" fill="#ffaeae"/>
<polygon points="419.55,182.76 422.90,181.73 421.21,180.17 417.87,181.14" fill="#ffffff"/>
<polygon points="380.17,147.31 383.64,147.08 382.08,140.36 378.59,140.18" fill="#ff5c5c"/>
<polygon points="379.45,172.74 382.92,171.12 381.38,167.29 377.92,169.18" fill="#ffc9c9"/>
<polygon points="349.11,178.70 352.54,174.77 351.02,170.60 347.66,175.92" fill="#ffe4e4"/>
<polygon points="376.37,164.36 379.83,162.19 378.27,155.60 374.79,157.58" fill="#ffaeae"/>
<polygon points="424.60,183.30 427.94,182.15 426.23,180.61 422.90,181.73" fill="#ffffff"/>
<polygon points="348.00,162.42 351.25,154.67 349.71,150.16 346.52,158.84" fill="#ff9292"/>
<polygon points="396.04,179.87 399.47,179.00 397.88,177.42 394.46,178.04" fill="#ffe4e4"/>
<polygon points="391.02,178.65 394.46,178.04 392.90,175.83 389.47,176.18" fill="#ffe4e4"/>
<polygon points="378.27,155.60 381.74,154.47 380.17,147.31 376.68,148.02" fill="#ff7777"/>
<polygon points="356.92,128.15 360.45,126.62 359.09,127.37 355.58,128.76" fill="#ff0b0b"/>
<polygon points="374.45,171.62 377.92,169.18 376.37,164.36 372.90,166.85" fill="#ffc9c9"/>
<polygon points="365.41,125.90 368.94,125.33 367.51,125.28 363.99,125.76" fill="#ff0b0b"/>
<polygon points="362.58,178.43 366.01,174.32 364.43,168.49 361.00,172.74" fill="#ffe4e4"/>
<polygon points="375.47,129.44 378.98,129.84 377.45,126.72 373.95,126.57" fill="#ff0b0b"/>
<polygon points="359.07,180.40 362.58,178.43 361.00,172.74 357.54,175.98" fill="#ffe4e4"/>
<polygon points="349.50,166.43 352.81,159.66 351.25,154.67 348.00,162.42" fill="#ffaeae"/>
<polygon points="401.08,180.44 404.49,179.70 402.87,178.19 399.47,179.00" fill="#ffffff"/>
<polygon points="364.06,181.27 367.53,178.15 366.01,174.32 362.58,178.43" fill="#ffe4e4"/>
<polygon points="386.01,176.75 389.47,176.18 387.92,173.40 384.46,174.11" fill="#ffe4e4"/>
<polygon points="351.02,170.60 354.39,165.08 352.81,159.66 349.50,166.43" fill="#ffaeae"/>
<polygon points="352.54,174.77 355.97,170.64 354.39,165.08 351.02,170.60" fill="#ffc9c9"/>
<polygon points="367.53,178.15 370.99,174.68 369.45,170.22 366.01,174.32" fill="#ffe4e4"/>
<polygon points="370.99,174.68 374.45,171.62 372.90,166.85 369.45,170.22" fill="#ffc9c9"/>
<polygon points="375.98,175.04 379.45,172.74 377.92,169.18 374.45,171.62" fill="#ffc9c9"/>
<polygon points="354.05,178.69 357.54,175.98 355.97,170.64 352.54,174.77" fill="#ffe4e4"/>
<polygon points="429.66,183.77 433.00,182.52 431.27,180.92 427.94,182.15" fill="#ffffff"/>
<polygon points="378.59,140.18 382.08,140.36 380.52,134.45 377.02,134.00" fill="#ff4141"/>
<polygon points="372.90,166.85 376.37,164.36 374.79,157.58 371.32,160.38" fill="#ffaeae"/>
<polygon points="366.01,174.32 369.45,170.22 367.86,164.10 364.43,168.49" fill="#ffc9c9"/>
<polygon points="357.54,175.98 361.00,172.74 359.39,166.20 355.97,170.64" fill="#ffc9c9"/>
<polygon points="406.11,181.32 409.50,180.79 407.87,179.08 404.49,179.70" fill="#ffffff"/>
<polygon points="350.55,181.31 354.05,178.69 352.54,174.77 349.11,178.70" fill="#ffe4e4"/>
<polygon points="380.99,175.46 384.46,174.11 382.92,171.12 379.45,172.74" fill="#ffe4e4"/>
<polygon points="370.42,126.56 373.95,126.57 372.46,125.17 368.94,125.33" fill="#ff0b0b"/>
<polygon points="411.14,182.63 414.51,181.94 412.86,180.21 409.50,180.79" fill="#ffffff"/>
<polygon points="347.05,184.05 350.55,181.31 349.11,178.70 345.67,182.44" fill="#ffffff"/>
<polygon points="360.55,183.24 364.06,181.27 362.58,178.43 359.07,180.40" fill="#ffffff"/>
<polygon points="377.02,134.00 380.52,134.45 378.98,129.84 375.47,129.44" fill="#ff2626"/>
<polygon points="369.45,170.22 372.90,166.85 371.32,160.38 367.86,164.10" fill="#ffaeae"/>
<polygon points="355.54,182.02 359.07,180.40 357.54,175.98 354.05,178.69" fill="#ffe4e4"/>
<polygon points="349.98,134.91 353.41,130.64 352.09,131.30 348.70,136.02" fill="#ff2626"/>
<polygon points="353.41,130.64 356.92,128.15 355.58,128.76 352.09,131.30" fill="#ff2626"/>
<polygon points="416.18,183.69 419.55,182.76 417.87,181.14 414.51,181.94" fill="#ffffff"/>
<polygon points="361.00,172.74 364.43,168.49 362.81,161.44 359.39,166.20" fill="#ffc9c9"/>
<polygon points="372.51,177.84 375.98,175.04 374.45,171.62 370.99,174.68" fill="#ffe4e4"/>
<polygon points="374.79,157.58 378.27,155.60 376.68,148.02 373.18,149.72" fill="#ff7777"/>
<polygon points="355.97,170.64 359.39,166.20 357.77,159.52 354.39,165.08" fill="#ffaeae"/>
<polygon points="369.03,180.74 372.51,177.84 370.99,174.68 367.53,178.15" fill="#ffe4e4"/>
<polygon points="421.23,184.40 424.60,183.30 422.90,181.73 419.55,182.76" fill="#ffffff"/>
<polygon points="348.21,146.31 351.46,138.05 349.98,134.91 346.78,143.89" fill="#ff4141"/>
<polygon points="376.68,148.02 380.17,147.31 378.59,140.18 375.08,140.29" fill="#ff5c5c"/>
<polygon points="377.50,177.73 380.99,175.46 379.45,172.74 375.98,175.04" fill="#ffe4e4"/>
<polygon points="392.59,180.89 396.04,179.87 394.46,178.04 391.02,178.65" fill="#ffe4e4"/>
<polygon points="365.53,183.29 369.03,180.74 367.53,178.15 364.06,181.27" fill="#ffffff"/>
<polygon points="364.43,168.49 367.86,164.10 366.24,156.76 362.81,161.44" fill="#ffaeae"/>
<polygon points="361.87,127.17 365.41,125.90 363.99,125.76 360.45,126.62" fill="#ff0b0b"/>
<polygon points="387.56,179.54 391.02,178.65 389.47,176.18 386.01,176.75" fill="#ffe4e4"/>
<polygon points="351.99,183.69 355.54,182.02 354.05,178.69 350.55,181.31" fill="#ffffff"/>
<polygon points="357.00,184.58 360.55,183.24 359.07,180.40 355.54,182.02" fill="#ffffff"/>
<polygon points="397.64,181.56 401.08,180.44 399.47,179.00 396.04,179.87" fill="#ffe4e4"/>
<polygon points="426.31,184.95 429.66,183.77 427.94,182.15 424.60,183.30" fill="#ffffff"/>
<polygon points="382.52,177.84 386.01,176.75 384.46,174.11 380.99,175.46" fill="#ffe4e4"/>
<polygon points="371.32,160.38 374.79,157.58 373.18,149.72 369.70,152.69" fill="#ff7777"/>
<polygon points="354.39,165.08 357.77,159.52 356.15,153.11 352.81,159.66" fill="#ff9292"/>
<polygon points="367.86,164.10 371.32,160.38 369.70,152.69 366.24,156.76" fill="#ff9292"/>
<polygon points="374.02,180.41 377.50,177.73 375.98,175.04 372.51,177.84" fill="#ffe4e4"/>
<polygon points="359.39,166.20 362.81,161.44 361.17,154.15 357.77,159.52" fill="#ff9292"/>
<polygon points="349.71,150.16 353.00,142.46 351.46,138.05 348.21,146.31" fill="#ff5c5c"/>
<polygon points="362.01,185.19 365.53,183.29 364.06,181.27 360.55,183.24" fill="#ffffff"/>
<polygon points="371.93,129.15 375.47,129.44 373.95,126.57 370.42,126.56" fill="#ff0b0b"/>
<polygon points="402.69,181.96 406.11,181.32 404.49,179.70 401.08,180.44" fill="#ffffff"/>
<polygon points="352.81,159.66 356.15,153.11 354.56,147.50 351.25,154.67" fill="#ff7777"/>
<polygon points="366.88,127.25 370.42,126.56 368.94,125.33 365.41,125.90" fill="#ff0b0b"/>
<polygon points="351.25,154.67 354.56,147.50 353.00,142.46 349.71,150.16" fill="#ff5c5c"/>
<polygon points="407.74,183.31 411.14,182.63 409.50,180.79 406.11,181.32" fill="#ffffff"/>
<polygon points="348.44,185.56 351.99,183.69 350.55,181.31 347.05,184.05" fill="#ffffff"/>
<polygon points="412.79,184.58 416.18,183.69 414.51,181.94 411.14,182.63" fill="#ffffff"/>
<polygon points="370.53,182.97 374.02,180.41 372.51,177.84 369.03,180.74" fill="#ffe4e4"/>
<polygon points="375.08,140.29 378.59,140.18 377.02,134.00 373.49,133.60" fill="#ff4141"/>
<polygon points="358.35,129.33 361.87,127.17 360.45,126.62 356.92,128.15" fill="#ff0b0b"/>
<polygon points="417.85,185.47 421.23,184.40 419.55,182.76 416.18,183.69" fill="#ffffff"/>
<polygon points="379.04,180.35 382.52,177.84 380.99,175.46 377.50,177.73" fill="#ffe4e4"/>
<polygon points="373.18,149.72 376.68,148.02 375.08,140.29 371.56,141.49" fill="#ff5c5c"/>
<polygon points="373.49,133.60 377.02,134.00 375.47,129.44 371.93,129.15" fill="#ff2626"/>
<polygon points="362.81,161.44 366.24,156.76 364.61,149.10 361.17,154.15" fill="#ff7777"/>
<polygon points="353.43,185.88 357.00,184.58 355.54,182.02 351.99,183.69" fill="#ffffff"/>
<polygon points="389.12,182.24 392.59,180.89 391.02,178.65 387.56,179.54" fill="#ffe4e4"/>
<polygon points="384.08,181.05 387.56,179.54 386.01,176.75 382.52,177.84" fill="#ffe4e4"/>
<polygon points="367.01,185.17 370.53,182.97 369.03,180.74 365.53,183.29" fill="#ffffff"/>
<polygon points="351.46,138.05 354.86,132.66 353.41,130.64 349.98,134.91" fill="#ff2626"/>
<polygon points="357.77,159.52 361.17,154.15 359.55,147.31 356.15,153.11" fill="#ff7777"/>
<polygon points="394.18,182.97 397.64,181.56 396.04,179.87 392.59,180.89" fill="#ffe4e4"/>
<polygon points="422.93,186.09 426.31,184.95 424.60,183.30 421.23,184.40" fill="#ffffff"/>
<polygon points="358.45,186.58 362.01,185.19 360.55,183.24 357.00,184.58" fill="#ffffff"/>
<polygon points="354.86,132.66 358.35,129.33 356.92,128.15 353.41,130.64" fill="#ff0b0b"/>
<polygon points="375.54,183.06 379.04,180.35 377.50,177.73 374.02,180.41" fill="#ffe4e4"/>
<polygon points="366.24,156.76 369.70,152.69 368.07,144.66 364.61,149.10" fill="#ff7777"/>
<polygon points="369.70,152.69 373.18,149.72 371.56,141.49 368.07,144.66" fill="#ff5c5c"/>
<polygon points="363.35,129.11 366.88,127.25 365.41,125.90 361.87,127.17" fill="#ff0b0b"/>
<polygon points="399.24,183.37 402.69,181.96 401.08,180.44 397.64,181.56" fill="#ffe4e4"/>
<polygon points="356.15,153.11 359.55,147.31 357.95,141.42 354.56,147.50" fill="#ff5c5c"/>
<polygon points="363.48,187.01 367.01,185.17 365.53,183.29 362.01,185.19" fill="#ffffff"/>
<polygon points="372.04,185.47 375.54,183.06 374.02,180.41 370.53,182.97" fill="#ffffff"/>
<polygon points="353.00,142.46 356.38,136.51 354.86,132.66 351.46,138.05" fill="#ff2626"/>
<polygon points="368.39,129.83 371.93,129.15 370.42,126.56 366.88,127.25" fill="#ff0b0b"/>
<polygon points="404.31,184.19 407.74,183.31 406.11,181.32 402.69,181.96" fill="#ffffff"/>
<polygon points="380.58,183.44 384.08,181.05 382.52,177.84 379.04,180.35" fill="#ffe4e4"/>
<polygon points="409.38,185.49 412.79,184.58 411.14,182.63 407.74,183.31" fill="#ffffff"/>
<polygon points="349.85,187.46 353.43,185.88 351.99,183.69 348.44,185.56" fill="#ffffff"/>
<polygon points="354.56,147.50 357.95,141.42 356.38,136.51 353.00,142.46" fill="#ff4141"/>
<polygon points="361.17,154.15 364.61,149.10 362.98,142.09 359.55,147.31" fill="#ff5c5c"/>
<polygon points="385.63,184.15 389.12,182.24 387.56,179.54 384.08,181.05" fill="#ffe4e4"/>
<polygon points="414.45,186.55 417.85,185.47 416.18,183.69 412.79,184.58" fill="#ffffff"/>
<polygon points="371.56,141.49 375.08,140.29 373.49,133.60 369.94,133.99" fill="#ff2626"/>
<polygon points="359.84,132.18 363.35,129.11 361.87,127.17 358.35,129.33" fill="#ff0b0b"/>
<polygon points="390.70,184.69 394.18,182.97 392.59,180.89 389.12,182.24" fill="#ffe4e4"/>
<polygon points="354.87,187.80 358.45,186.58 357.00,184.58 353.43,185.88" fill="#ffffff"/>
<polygon points="377.08,186.16 380.58,183.44 379.04,180.35 375.54,183.06" fill="#ffffff"/>
<polygon points="419.54,187.29 422.93,186.09 421.23,184.40 417.85,185.47" fill="#ffffff"/>
<polygon points="356.38,136.51 359.84,132.18 358.35,129.33 354.86,132.66" fill="#ff2626"/>
<polygon points="368.51,187.37 372.04,185.47 370.53,182.97 367.01,185.17" fill="#ffffff"/>
<polygon points="369.94,133.99 373.49,133.60 371.93,129.15 368.39,129.83" fill="#ff0b0b"/>
<polygon points="364.61,149.10 368.07,144.66 366.44,137.49 362.98,142.09" fill="#ff4141"/>
<polygon points="395.77,185.03 399.24,183.37 397.64,181.56 394.18,182.97" fill="#ffffff"/>
<polygon points="359.55,147.31 362.98,142.09 361.39,136.43 357.95,141.42" fill="#ff4141"/>
<polygon points="359.91,188.41 363.48,187.01 362.01,185.19 358.45,186.58" fill="#ffffff"/>
<polygon points="382.14,186.69 385.63,184.15 384.08,181.05 380.58,183.44" fill="#ffffff"/>
<polygon points="364.87,132.43 368.39,129.83 366.88,127.25 363.35,129.11" fill="#ff0b0b"/>
<polygon points="373.57,188.63 377.08,186.16 375.54,183.06 372.04,185.47" fill="#ffffff"/>
<polygon points="368.07,144.66 371.56,141.49 369.94,133.99 366.44,137.49" fill="#ff4141"/>
<polygon points="357.95,141.42 361.39,136.43 359.84,132.18 356.38,136.51" fill="#ff2626"/>
<polygon points="361.39,136.43 364.87,132.43 363.35,129.11 359.84,132.18" fill="#ff0b0b"/>
<polygon points="400.85,185.51 404.31,184.19 402.69,181.96 399.24,183.37" fill="#ffffff"/>
<polygon points="387.20,186.88 390.70,184.69 389.12,182.24 385.63,184.15" fill="#ffffff"/>
<polygon points="378.63,189.55 382.14,186.69 380.58,183.44 377.08,186.16" fill="#ffffff"/>
<polygon points="364.96,189.18 368.51,187.37 367.01,185.17 363.48,187.01" fill="#ffffff"/>
<polygon points="405.94,186.53 409.38,185.49 407.74,183.31 404.31,184.19" fill="#ffffff"/>
<polygon points="362.98,142.09 366.44,137.49 364.87,132.43 361.39,136.43" fill="#ff2626"/>
<polygon points="366.44,137.49 369.94,133.99 368.39,129.83 364.87,132.43" fill="#ff2626"/>
<polygon points="411.02,187.67 414.45,186.55 412.79,184.58 409.38,185.49" fill="#ffffff"/>
<polygon points="351.27,189.21 354.87,187.80 353.43,185.88 349.85,187.46" fill="#ffffff"/>
<polygon points="370.04,190.58 373.57,188.63 372.04,185.47 368.51,187.37" fill="#ffffff"/>
<polygon points="416.12,188.51 419.54,187.29 417.85,185.47 414.45,186.55" fill="#ffffff"/>
<polygon points="392.28,186.93 395.77,185.03 394.18,182.97 390.70,184.69" fill="#ffffff"/>
<polygon points="375.12,192.24 378.63,189.55 377.08,186.16 373.57,188.63" fill="#ffffff"/>
<polygon points="383.69,189.64 387.20,186.88 385.63,184.15 382.14,186.69" fill="#ffffff"/>
<polygon points="356.31,189.55 359.91,188.41 358.45,186.58 354.87,187.80" fill="#ffffff"/>
<polygon points="380.19,192.76 383.69,189.64 382.14,186.69 378.63,189.55" fill="#ffffff"/>
<polygon points="397.37,187.17 400.85,185.51 399.24,183.37 395.77,185.03" fill="#ffffff"/>
<polygon points="361.38,190.46 364.96,189.18 363.48,187.01 359.91,188.41" fill="#ffffff"/>
<polygon points="371.59,194.24 375.12,192.24 373.57,188.63 370.04,190.58" fill="#e4ffe4"/>
<polygon points="388.77,189.19 392.28,186.93 390.70,184.69 387.20,186.88" fill="#ffffff"/>
<polygon points="376.67,195.81 380.19,192.76 378.63,189.55 375.12,192.24" fill="#e4ffe4"/>
<polygon points="366.48,192.01 370.04,190.58 368.51,187.37 364.96,189.18" fill="#ffffff"/>
<polygon points="402.48,187.81 405.94,186.53 404.31,184.19 400.85,185.51" fill="#ffffff"/>
<polygon points="407.58,188.84 411.02,187.67 409.38,185.49 405.94,186.53" fill="#ffffff"/>
<polygon points="412.69,189.76 416.12,188.51 414.45,186.55 411.02,187.67" fill="#ffffff"/>
<polygon points="385.26,192.08 388.77,189.19 387.20,186.88 383.69,189.64" fill="#ffffff"/>
<polygon points="373.14,198.00 376.67,195.81 375.12,192.24 371.59,194.24" fill="#e4ffe4"/>
<polygon points="393.87,189.07 397.37,187.17 395.77,185.03 392.28,186.93" fill="#ffffff"/>
<polygon points="352.69,190.79 356.31,189.55 354.87,187.80 351.27,189.21" fill="#ffffff"/>
<polygon points="381.74,195.29 385.26,192.08 383.69,189.64 380.19,192.76" fill="#e4ffe4"/>
<polygon points="368.01,195.28 371.59,194.24 370.04,190.58 366.48,192.01" fill="#e4ffe4"/>
<polygon points="378.22,198.55 381.74,195.29 380.19,192.76 376.67,195.81" fill="#e4ffe4"/>
<polygon points="357.77,191.39 361.38,190.46 359.91,188.41 356.31,189.55" fill="#ffffff"/>
<polygon points="398.99,189.32 402.48,187.81 400.85,185.51 397.37,187.17" fill="#ffffff"/>
<polygon points="362.88,192.91 366.48,192.01 364.96,189.18 361.38,190.46" fill="#ffffff"/>
<polygon points="390.36,191.32 393.87,189.07 392.28,186.93 388.77,189.19" fill="#ffffff"/>
<polygon points="374.69,201.21 378.22,198.55 376.67,195.81 373.14,198.00" fill="#e4ffe4"/>
<polygon points="404.11,190.05 407.58,188.84 405.94,186.53 402.48,187.81" fill="#ffffff"/>
<polygon points="409.23,191.04 412.69,189.76 411.02,187.67 407.58,188.84" fill="#ffffff"/>
<polygon points="369.55,198.57 373.14,198.00 371.59,194.24 368.01,195.28" fill="#e4ffe4"/>
<polygon points="386.83,193.96 390.36,191.32 388.77,189.19 385.26,192.08" fill="#ffffff"/>
<polygon points="395.48,191.08 398.99,189.32 397.37,187.17 393.87,189.07" fill="#ffffff"/>
<polygon points="364.39,195.62 368.01,195.28 366.48,192.01 362.88,192.91" fill="#e4ffe4"/>
<polygon points="383.30,196.85 386.83,193.96 385.26,192.08 381.74,195.29" fill="#e4ffe4"/>
<polygon points="354.13,192.34 357.77,191.39 356.31,189.55 352.69,190.79" fill="#ffffff"/>
<polygon points="359.24,193.52 362.88,192.91 361.38,190.46 357.77,191.39" fill="#ffffff"/>
<polygon points="379.76,199.65 383.30,196.85 381.74,195.29 378.22,198.55" fill="#e4ffe4"/>
<polygon points="400.62,191.40 404.11,190.05 402.48,187.81 398.99,189.32" fill="#ffffff"/>
<polygon points="371.08,201.11 374.69,201.21 373.14,198.00 369.55,198.57" fill="#e4ffe4"/>
<polygon points="405.76,192.16 409.23,191.04 407.58,188.84 404.11,190.05" fill="#ffffff"/>
<polygon points="391.96,193.10 395.48,191.08 393.87,189.07 390.36,191.32" fill="#ffffff"/>
<polygon points="376.20,201.65 379.76,199.65 378.22,198.55 374.69,201.21" fill="#e4ffe4"/>
<polygon points="365.91,198.24 369.55,198.57 368.01,195.28 364.39,195.62" fill="#e4ffe4"/>
<polygon points="388.42,195.36 391.96,193.10 390.36,191.32 386.83,193.96" fill="#ffffff"/>
<polygon points="397.10,192.93 400.62,191.40 398.99,189.32 395.48,191.08" fill="#ffffff"/>
<polygon points="360.74,195.75 364.39,195.62 362.88,192.91 359.24,193.52" fill="#ffffff"/>
<polygon points="355.59,194.25 359.24,193.52 357.77,191.39 354.13,192.34" fill="#ffffff"/>
<polygon points="402.26,193.36 405.76,192.16 404.11,190.05 400.62,191.40" fill="#ffffff"/>
<polygon points="384.87,197.70 388.42,195.36 386.83,193.96 383.30,196.85" fill="#e4ffe4"/>
<polygon points="372.59,202.12 376.20,201.65 374.69,201.21 371.08,201.11" fill="#e4ffe4"/>
<polygon points="367.43,200.37 371.08,201.11 369.55,198.57 365.91,198.24" fill="#e4ffe4"/>
<polygon points="393.57,194.64 397.10,192.93 395.48,191.08 391.96,193.10" fill="#ffffff"/>
<polygon points="381.30,199.85 384.87,197.70 383.30,196.85 379.76,199.65" fill="#e4ffe4"/>
<polygon points="362.23,197.82 365.91,198.24 364.39,195.62 360.74,195.75" fill="#ffffff"/>
<polygon points="398.74,194.68 402.26,193.36 400.62,191.40 397.10,192.93" fill="#ffffff"/>
<polygon points="390.02,196.48 393.57,194.64 391.96,193.10 388.42,195.36" fill="#ffffff"/>
<polygon points="377.72,201.45 381.30,199.85 379.76,199.65 376.20,201.65" fill="#e4ffe4"/>
<polygon points="357.06,196.13 360.74,195.75 359.24,193.52 355.59,194.25" fill="#ffffff"/>
<polygon points="368.94,201.79 372.59,202.12 371.08,201.11 367.43,200.37" fill="#e4ffe4"/>
<polygon points="386.45,198.29 390.02,196.48 388.42,195.36 384.87,197.70" fill="#ffffff"/>
<polygon points="395.20,196.10 398.74,194.68 397.10,192.93 393.57,194.64" fill="#ffffff"/>
<polygon points="374.10,202.32 377.72,201.45 376.20,201.65 372.59,202.12" fill="#e4ffe4"/>
<polygon points="363.73,199.66 367.43,200.37 365.91,198.24 362.23,197.82" fill="#e4ffe4"/>
<polygon points="382.87,199.89 386.45,198.29 384.87,197.70 381.30,199.85" fill="#e4ffe4"/>
<polygon points="358.53,197.82 362.23,197.82 360.74,195.75 357.06,196.13" fill="#ffffff"/>
<polygon points="391.64,197.61 395.20,196.10 393.57,194.64 390.02,196.48" fill="#ffffff"/>
<polygon points="379.26,201.21 382.87,199.89 381.30,199.85 377.72,201.45" fill="#e4ffe4"/>
<polygon points="388.05,199.03 391.64,197.61 390.02,196.48 386.45,198.29" fill="#ffffff"/>
<polygon points="370.45,202.66 374.10,202.32 372.59,202.12 368.94,201.79" fill="#e4ffe4"/>
<polygon points="365.24,201.39 368.94,201.79 367.43,200.37 363.73,199.66" fill="#e4ffe4"/>
<polygon points="360.01,199.35 363.73,199.66 362.23,197.82 358.53,197.82" fill="#ffffff"/>
<polygon points="375.63,202.40 379.26,201.21 377.72,201.45 374.10,202.32" fill="#e4ffe4"/>
<polygon points="384.45,200.24 388.05,199.03 386.45,198.29 382.87,199.89" fill="#ffffff"/>
<polygon points="366.76,202.87 370.45,202.66 368.94,201.79 365.24,201.39" fill="#ffffff"/>
<polygon points="361.52,201.40 365.24,201.39 363.73,199.66 360.01,199.35" fill="#ffffff"/>
<polygon points="380.82,201.29 384.45,200.24 382.87,199.89 379.26,201.21" fill="#ffffff"/>
<polygon points="371.97,203.35 375.63,202.40 374.10,202.32 370.45,202.66" fill="#ffffff"/>
<polygon points="377.18,202.80 380.82,201.29 379.26,201.21 375.63,202.40" fill="#ffffff"/>
<polygon points="363.04,203.30 366.76,202.87 365.24,201.39 361.52,201.40" fill="#ffffff"/>
<polygon points="368.28,204.16 371.97,203.35 370.45,202.66 366.76,202.87" fill="#ffffff"/>
<polygon points="373.51,204.18 377.18,202.80 375.63,202.40 371.97,203.35" fill="#ffffff"/>
<polygon points="364.56,205.00 368.28,204.16 366.76,202.87 363.04,203.30" fill="#ffffff"/>
<polygon points="369.82,205.41 373.51,204.18 371.97,203.35 368.28,204.16" fill="#ffffff"/>
<polygon points="366.10,206.60 369.82,205.41 368.28,204.16 364.56,205.00" fill="#ffffff"/>
</g>
<line x1="314.08" y1="190.73" x2="318.48" y2="190.73" stroke="#444" stroke-width="0.7" />
<text x="312.48" y="193.53" font-size="8" text-anchor="end" fill="#222" >&#8211;20</text>
<line x1="313.18" y1="180.61" x2="317.58" y2="180.61" stroke="#444" stroke-width="0.7" />
<text x="311.58" y="183.41" font-size="8" text-anchor="end" fill="#222" >&#8211;15</text>
<line x1="312.26" y1="170.24" x2="316.66" y2="170.24" stroke="#444" stroke-width="0.7" />
<text x="310.66" y="173.04" font-size="8" text-anchor="end" fill="#222" >&#8211;10</text>
<line x1="311.31" y1="159.59" x2="315.71" y2="159.59" stroke="#444" stroke-width="0.7" />
<text x="309.71" y="162.39" font-size="8" text-anchor="end" fill="#222" >&#8211;5</text>
<line x1="310.34" y1="148.65" x2="314.74" y2="148.65" stroke="#444" stroke-width="0.7" />
<text x="308.74" y="151.45" font-size="8" text-anchor="end" fill="#222" >0</text>
<line x1="309.34" y1="137.41" x2="313.74" y2="137.41" stroke="#444" stroke-width="0.7" />
<text x="307.74" y="140.21" font-size="8" text-anchor="end" fill="#222" >5</text>
<line x1="308.32" y1="125.87" x2="312.72" y2="125.87" stroke="#444" stroke-width="0.7" />
<text x="306.72" y="128.67" font-size="8" text-anchor="end" fill="#222" >10</text>
<line x1="307.26" y1="114.00" x2="311.66" y2="114.00" stroke="#444" stroke-width="0.7" />
<text x="305.66" y="116.80" font-size="8" text-anchor="end" fill="#222" >15</text>
<line x1="306.18" y1="101.80" x2="310.58" y2="101.80" stroke="#444" stroke-width="0.7" />
<text x="304.58" y="104.60" font-size="8" text-anchor="end" fill="#222" >20</text>
<text transform="translate(293.6,150.1) rotate(-90)" font-size="8.6" text-anchor="middle" fill="#222" textLength="45.2" lengthAdjust="spacingAndGlyphs">Synergy score</text>
<line x1="366.34" y1="254.01" x2="364.14" y2="257.01" stroke="#444" stroke-width="0.7" />
<text x="361.00" y="263.90" font-size="8" text-anchor="middle" fill="#222" >0</text>
<line x1="360.30" y1="246.03" x2="358.10" y2="249.03" stroke="#444" stroke-width="0.7" />
<text x="357.80" y="257.34" font-size="8" text-anchor="end" fill="#222" >0.02</text>
<line x1="354.47" y1="238.32" x2="352.27" y2="241.32" stroke="#444" stroke-width="0.7" />
<text x="352.40" y="250.41" font-size="8" text-anchor="end" fill="#222" >0.039</text>
<line x1="348.83" y1="230.86" x2="346.63" y2="233.86" stroke="#444" stroke-width="0.7" />
<text x="347.00" y="243.48" font-size="8" text-anchor="end" fill="#222" >0.078</text>
<line x1="343.37" y1="223.63" x2="341.17" y2="226.63" stroke="#444" stroke-width="0.7" />
<text x="341.60" y="236.55" font-size="8" text-anchor="end" fill="#222" >0.156</text>
<line x1="338.08" y1="216.64" x2="335.88" y2="219.64" stroke="#444" stroke-width="0.7" />
<text x="336.20" y="229.62" font-size="8" text-anchor="end" fill="#222" >0.312</text>
<line x1="332.95" y1="209.86" x2="330.75" y2="212.86" stroke="#444" stroke-width="0.7" />
<text x="330.80" y="222.69" font-size="8" text-anchor="end" fill="#222" >0.625</text>
<line x1="327.98" y1="203.29" x2="325.78" y2="206.29" stroke="#444" stroke-width="0.7" />
<text x="325.40" y="215.76" font-size="8" text-anchor="end" fill="#222" >1.25</text>
<line x1="323.16" y1="196.91" x2="320.96" y2="199.91" stroke="#444" stroke-width="0.7" />
<text x="320.00" y="208.83" font-size="8" text-anchor="end" fill="#222" >2.5</text>
<line x1="318.48" y1="190.73" x2="316.28" y2="193.73" stroke="#444" stroke-width="0.7" />
<text x="314.60" y="201.90" font-size="8" text-anchor="end" fill="#222" >5</text>
<line x1="366.34" y1="254.01" x2="369.59" y2="257.26" stroke="#444" stroke-width="0.7" />
<text x="372.00" y="266.80" font-size="8" text-anchor="middle" fill="#222" >0</text>
<line x1="380.91" y1="248.17" x2="383.83" y2="251.73" stroke="#444" stroke-width="0.7" />
<text transform="translate(379.93,259.03) rotate(30)" font-size="8" fill="#222">0.312</text>
<line x1="395.15" y1="242.48" x2="397.69" y2="246.32" stroke="#444" stroke-width="0.7" />
<text transform="translate(393.79,253.62) rotate(30)" font-size="8" fill="#222">0.625</text>
<line x1="409.05" y1="236.92" x2="411.17" y2="241.00" stroke="#444" stroke-width="0.7" />
<text transform="translate(407.27,248.30) rotate(30)" font-size="8" fill="#222">1.25</text>
<line x1="422.62" y1="231.49" x2="424.30" y2="235.78" stroke="#444" stroke-width="0.7" />
<text transform="translate(420.40,243.08) rotate(30)" font-size="8" fill="#222">2.5</text>
<line x1="435.89" y1="226.18" x2="437.10" y2="230.62" stroke="#444" stroke-width="0.7" />
<text transform="translate(433.20,237.92) rotate(30)" font-size="8" fill="#222">5</text>
<line x1="448.85" y1="221.00" x2="449.61" y2="225.53" stroke="#444" stroke-width="0.7" />
<text transform="translate(445.71,232.83) rotate(30)" font-size="8" fill="#222">10</text>
<line x1="461.53" y1="215.93" x2="461.85" y2="220.52" stroke="#444" stroke-width="0.7" />
<text transform="translate(457.95,227.82) rotate(30)" font-size="8" fill="#222">20</text>
<text transform="translate(312.9,241.6) rotate(52.8)" font-size="8.4" text-anchor="middle" fill="#222" textLength="48" lengthAdjust="spacingAndGlyphs">AZD5991 (&#181;M)</text>
<text transform="translate(432.0,264.4) rotate(-21.8)" font-size="8.4" text-anchor="middle" fill="#222" textLength="48" lengthAdjust="spacingAndGlyphs">AZD1208 (&#181;M)</text>
<rect x="370.3" y="6.9" width="35.9" height="18.2" fill="#dcdcdc"/>
<text x="388.20" y="19.40" font-size="10.5" text-anchor="middle" fill="#111" font-weight="bold">U266</text>
<text x="393.00" y="40.60" font-size="8.8" text-anchor="middle" fill="#222" textLength="101" lengthAdjust="spacingAndGlyphs">Average synergy: 6.802 (Bliss)</text>
<rect x="288.50" y="58.2" width="20.51" height="2.8" fill="#00ff00"/>
<rect x="472.99" y="58.2" width="19.51" height="2.8" fill="#ff0000"/>
<rect x="395.53" y="58.2" width="8.85" height="2.8" fill="#ffe3e3"/>
<rect x="377.92" y="58.2" width="8.85" height="2.8" fill="#e3ffe3"/>
<rect x="404.08" y="58.2" width="8.85" height="2.8" fill="#ffc8c8"/>
<rect x="369.37" y="58.2" width="8.85" height="2.8" fill="#c8ffc8"/>
<rect x="412.63" y="58.2" width="8.85" height="2.8" fill="#ffadad"/>
<rect x="360.82" y="58.2" width="8.85" height="2.8" fill="#adffad"/>
<rect x="421.18" y="58.2" width="8.85" height="2.8" fill="#ff9292"/>
<rect x="352.27" y="58.2" width="8.85" height="2.8" fill="#92ff92"/>
<rect x="429.73" y="58.2" width="8.85" height="2.8" fill="#ff7777"/>
<rect x="343.72" y="58.2" width="8.85" height="2.8" fill="#77ff77"/>
<rect x="438.28" y="58.2" width="8.85" height="2.8" fill="#ff5c5c"/>
<rect x="335.17" y="58.2" width="8.85" height="2.8" fill="#5cff5c"/>
<rect x="446.83" y="58.2" width="8.85" height="2.8" fill="#ff4141"/>
<rect x="326.62" y="58.2" width="8.85" height="2.8" fill="#41ff41"/>
<rect x="455.38" y="58.2" width="8.85" height="2.8" fill="#ff2525"/>
<rect x="318.06" y="58.2" width="8.85" height="2.8" fill="#25ff25"/>
<rect x="463.94" y="58.2" width="8.85" height="2.8" fill="#ff0a0a"/>
<rect x="309.51" y="58.2" width="8.85" height="2.8" fill="#0aff0a"/>
<text x="290.40" y="54.80" font-size="7.5" text-anchor="middle" fill="#222" >&#8211;20</text>
<text x="315.55" y="54.80" font-size="7.5" text-anchor="middle" fill="#222" >&#8211;15</text>
<text x="340.70" y="54.80" font-size="7.5" text-anchor="middle" fill="#222" >&#8211;10</text>
<text x="365.85" y="54.80" font-size="7.5" text-anchor="middle" fill="#222" >&#8211;5</text>
<text x="391.00" y="54.80" font-size="7.5" text-anchor="middle" fill="#222" >0</text>
<text x="416.15" y="54.80" font-size="7.5" text-anchor="middle" fill="#222" >5</text>
<text x="441.30" y="54.80" font-size="7.5" text-anchor="middle" fill="#222" >10</text>
<text x="466.45" y="54.80" font-size="7.5" text-anchor="middle" fill="#222" >15</text>
<text x="491.60" y="54.80" font-size="7.5" text-anchor="middle" fill="#222" >20</text>
<line x1="22.60" y1="403.80" x2="25.80" y2="403.80" stroke="#222" stroke-width="0.6" />
<line x1="23.80" y1="398.56" x2="25.80" y2="398.56" stroke="#222" stroke-width="0.6" />
<line x1="23.80" y1="395.50" x2="25.80" y2="395.50" stroke="#222" stroke-width="0.6" />
<line x1="23.80" y1="393.32" x2="25.80" y2="393.32" stroke="#222" stroke-width="0.6" />
<line x1="23.80" y1="391.64" x2="25.80" y2="391.64" stroke="#222" stroke-width="0.6" />
<line x1="23.80" y1="390.26" x2="25.80" y2="390.26" stroke="#222" stroke-width="0.6" />
<line x1="23.80" y1="389.10" x2="25.80" y2="389.10" stroke="#222" stroke-width="0.6" />
<line x1="23.80" y1="388.09" x2="25.80" y2="388.09" stroke="#222" stroke-width="0.6" />
<line x1="23.80" y1="387.20" x2="25.80" y2="387.20" stroke="#222" stroke-width="0.6" />
<line x1="22.60" y1="386.40" x2="25.80" y2="386.40" stroke="#222" stroke-width="0.6" />
<line x1="23.80" y1="381.16" x2="25.80" y2="381.16" stroke="#222" stroke-width="0.6" />
<line x1="23.80" y1="378.10" x2="25.80" y2="378.10" stroke="#222" stroke-width="0.6" />
<line x1="23.80" y1="375.92" x2="25.80" y2="375.92" stroke="#222" stroke-width="0.6" />
<line x1="23.80" y1="374.24" x2="25.80" y2="374.24" stroke="#222" stroke-width="0.6" />
<line x1="23.80" y1="372.86" x2="25.80" y2="372.86" stroke="#222" stroke-width="0.6" />
<line x1="23.80" y1="371.70" x2="25.80" y2="371.70" stroke="#222" stroke-width="0.6" />
<line x1="23.80" y1="370.69" x2="25.80" y2="370.69" stroke="#222" stroke-width="0.6" />
<line x1="23.80" y1="369.80" x2="25.80" y2="369.80" stroke="#222" stroke-width="0.6" />
<line x1="22.60" y1="369.00" x2="25.80" y2="369.00" stroke="#222" stroke-width="0.6" />
<line x1="23.80" y1="363.76" x2="25.80" y2="363.76" stroke="#222" stroke-width="0.6" />
<line x1="23.80" y1="360.70" x2="25.80" y2="360.70" stroke="#222" stroke-width="0.6" />
<line x1="23.80" y1="358.52" x2="25.80" y2="358.52" stroke="#222" stroke-width="0.6" />
<line x1="23.80" y1="356.84" x2="25.80" y2="356.84" stroke="#222" stroke-width="0.6" />
<line x1="23.80" y1="355.46" x2="25.80" y2="355.46" stroke="#222" stroke-width="0.6" />
<line x1="23.80" y1="354.30" x2="25.80" y2="354.30" stroke="#222" stroke-width="0.6" />
<line x1="23.80" y1="353.29" x2="25.80" y2="353.29" stroke="#222" stroke-width="0.6" />
<line x1="23.80" y1="352.40" x2="25.80" y2="352.40" stroke="#222" stroke-width="0.6" />
<line x1="22.60" y1="351.60" x2="25.80" y2="351.60" stroke="#222" stroke-width="0.6" />
<line x1="23.80" y1="346.36" x2="25.80" y2="346.36" stroke="#222" stroke-width="0.6" />
<line x1="23.80" y1="343.30" x2="25.80" y2="343.30" stroke="#222" stroke-width="0.6" />
<line x1="23.80" y1="341.12" x2="25.80" y2="341.12" stroke="#222" stroke-width="0.6" />
<line x1="23.80" y1="339.44" x2="25.80" y2="339.44" stroke="#222" stroke-width="0.6" />
<line x1="23.80" y1="338.06" x2="25.80" y2="338.06" stroke="#222" stroke-width="0.6" />
<line x1="23.80" y1="336.90" x2="25.80" y2="336.90" stroke="#222" stroke-width="0.6" />
<line x1="23.80" y1="335.89" x2="25.80" y2="335.89" stroke="#222" stroke-width="0.6" />
<line x1="23.80" y1="335.00" x2="25.80" y2="335.00" stroke="#222" stroke-width="0.6" />
<line x1="22.60" y1="334.20" x2="25.80" y2="334.20" stroke="#222" stroke-width="0.6" />
<line x1="23.80" y1="328.96" x2="25.80" y2="328.96" stroke="#222" stroke-width="0.6" />
<line x1="23.80" y1="325.90" x2="25.80" y2="325.90" stroke="#222" stroke-width="0.6" />
<line x1="23.80" y1="323.72" x2="25.80" y2="323.72" stroke="#222" stroke-width="0.6" />
<line x1="23.80" y1="322.04" x2="25.80" y2="322.04" stroke="#222" stroke-width="0.6" />
<line x1="23.80" y1="320.66" x2="25.80" y2="320.66" stroke="#222" stroke-width="0.6" />
<line x1="23.80" y1="319.50" x2="25.80" y2="319.50" stroke="#222" stroke-width="0.6" />
<line x1="23.80" y1="318.49" x2="25.80" y2="318.49" stroke="#222" stroke-width="0.6" />
<line x1="23.80" y1="317.60" x2="25.80" y2="317.60" stroke="#222" stroke-width="0.6" />
<line x1="22.60" y1="316.80" x2="25.80" y2="316.80" stroke="#222" stroke-width="0.6" />
<line x1="25.80" y1="403.80" x2="25.80" y2="407.00" stroke="#222" stroke-width="0.6" />
<line x1="31.04" y1="403.80" x2="31.04" y2="405.80" stroke="#222" stroke-width="0.6" />
<line x1="34.10" y1="403.80" x2="34.10" y2="405.80" stroke="#222" stroke-width="0.6" />
<line x1="36.28" y1="403.80" x2="36.28" y2="405.80" stroke="#222" stroke-width="0.6" />
<line x1="37.96" y1="403.80" x2="37.96" y2="405.80" stroke="#222" stroke-width="0.6" />
<line x1="39.34" y1="403.80" x2="39.34" y2="405.80" stroke="#222" stroke-width="0.6" />
<line x1="40.50" y1="403.80" x2="40.50" y2="405.80" stroke="#222" stroke-width="0.6" />
<line x1="41.51" y1="403.80" x2="41.51" y2="405.80" stroke="#222" stroke-width="0.6" />
<line x1="42.40" y1="403.80" x2="42.40" y2="405.80" stroke="#222" stroke-width="0.6" />
<line x1="43.20" y1="403.80" x2="43.20" y2="407.00" stroke="#222" stroke-width="0.6" />
<line x1="48.44" y1="403.80" x2="48.44" y2="405.80" stroke="#222" stroke-width="0.6" />
<line x1="51.50" y1="403.80" x2="51.50" y2="405.80" stroke="#222" stroke-width="0.6" />
<line x1="53.68" y1="403.80" x2="53.68" y2="405.80" stroke="#222" stroke-width="0.6" />
<line x1="55.36" y1="403.80" x2="55.36" y2="405.80" stroke="#222" stroke-width="0.6" />
<line x1="56.74" y1="403.80" x2="56.74" y2="405.80" stroke="#222" stroke-width="0.6" />
<line x1="57.90" y1="403.80" x2="57.90" y2="405.80" stroke="#222" stroke-width="0.6" />
<line x1="58.91" y1="403.80" x2="58.91" y2="405.80" stroke="#222" stroke-width="0.6" />
<line x1="59.80" y1="403.80" x2="59.80" y2="405.80" stroke="#222" stroke-width="0.6" />
<line x1="60.60" y1="403.80" x2="60.60" y2="407.00" stroke="#222" stroke-width="0.6" />
<line x1="65.84" y1="403.80" x2="65.84" y2="405.80" stroke="#222" stroke-width="0.6" />
<line x1="68.90" y1="403.80" x2="68.90" y2="405.80" stroke="#222" stroke-width="0.6" />
<line x1="71.08" y1="403.80" x2="71.08" y2="405.80" stroke="#222" stroke-width="0.6" />
<line x1="72.76" y1="403.80" x2="72.76" y2="405.80" stroke="#222" stroke-width="0.6" />
<line x1="74.14" y1="403.80" x2="74.14" y2="405.80" stroke="#222" stroke-width="0.6" />
<line x1="75.30" y1="403.80" x2="75.30" y2="405.80" stroke="#222" stroke-width="0.6" />
<line x1="76.31" y1="403.80" x2="76.31" y2="405.80" stroke="#222" stroke-width="0.6" />
<line x1="77.20" y1="403.80" x2="77.20" y2="405.80" stroke="#222" stroke-width="0.6" />
<line x1="78.00" y1="403.80" x2="78.00" y2="407.00" stroke="#222" stroke-width="0.6" />
<line x1="83.24" y1="403.80" x2="83.24" y2="405.80" stroke="#222" stroke-width="0.6" />
<line x1="86.30" y1="403.80" x2="86.30" y2="405.80" stroke="#222" stroke-width="0.6" />
<line x1="88.48" y1="403.80" x2="88.48" y2="405.80" stroke="#222" stroke-width="0.6" />
<line x1="90.16" y1="403.80" x2="90.16" y2="405.80" stroke="#222" stroke-width="0.6" />
<line x1="91.54" y1="403.80" x2="91.54" y2="405.80" stroke="#222" stroke-width="0.6" />
<line x1="92.70" y1="403.80" x2="92.70" y2="405.80" stroke="#222" stroke-width="0.6" />
<line x1="93.71" y1="403.80" x2="93.71" y2="405.80" stroke="#222" stroke-width="0.6" />
<line x1="94.60" y1="403.80" x2="94.60" y2="405.80" stroke="#222" stroke-width="0.6" />
<line x1="95.40" y1="403.80" x2="95.40" y2="407.00" stroke="#222" stroke-width="0.6" />
<line x1="100.64" y1="403.80" x2="100.64" y2="405.80" stroke="#222" stroke-width="0.6" />
<line x1="103.70" y1="403.80" x2="103.70" y2="405.80" stroke="#222" stroke-width="0.6" />
<line x1="105.88" y1="403.80" x2="105.88" y2="405.80" stroke="#222" stroke-width="0.6" />
<line x1="107.56" y1="403.80" x2="107.56" y2="405.80" stroke="#222" stroke-width="0.6" />
<line x1="108.94" y1="403.80" x2="108.94" y2="405.80" stroke="#222" stroke-width="0.6" />
<line x1="110.10" y1="403.80" x2="110.10" y2="405.80" stroke="#222" stroke-width="0.6" />
<line x1="111.11" y1="403.80" x2="111.11" y2="405.80" stroke="#222" stroke-width="0.6" />
<line x1="112.00" y1="403.80" x2="112.00" y2="405.80" stroke="#222" stroke-width="0.6" />
<line x1="112.80" y1="403.80" x2="112.80" y2="407.00" stroke="#222" stroke-width="0.6" />
<rect x="25.80" y="316.60" width="87.40" height="87.20" fill="none" stroke="#111" stroke-width="1.3" />
<line x1="67.20" y1="316.60" x2="67.20" y2="403.80" stroke="#111" stroke-width="1.2" />
<line x1="25.80" y1="365.70" x2="113.20" y2="365.70" stroke="#111" stroke-width="1.2" />
<text x="69.50" y="313.00" font-size="10" text-anchor="middle" fill="#111" >Control</text>
<text x="28.60" y="324.30" font-size="7.5" text-anchor="start" fill="#222" >Q1</text>
<text x="28.60" y="332.50" font-size="7.5" text-anchor="start" fill="#222" >2,59</text>
<text x="108.30" y="324.30" font-size="7.5" text-anchor="end" fill="#222" >Q2</text>
<text x="108.30" y="332.50" font-size="7.5" text-anchor="end" fill="#222" >2,78</text>
<text x="28.60" y="391.50" font-size="7.5" text-anchor="start" fill="#222" >Q4</text>
<text x="28.60" y="400.30" font-size="7.5" text-anchor="start" fill="#222" >92,4</text>
<text x="108.30" y="391.50" font-size="7.5" text-anchor="end" fill="#222" >Q3</text>
<text x="108.30" y="400.30" font-size="7.5" text-anchor="end" fill="#222" >2,27</text>
<line x1="124.00" y1="403.80" x2="127.20" y2="403.80" stroke="#222" stroke-width="0.6" />
<line x1="125.20" y1="398.56" x2="127.20" y2="398.56" stroke="#222" stroke-width="0.6" />
<line x1="125.20" y1="395.50" x2="127.20" y2="395.50" stroke="#222" stroke-width="0.6" />
<line x1="125.20" y1="393.32" x2="127.20" y2="393.32" stroke="#222" stroke-width="0.6" />
<line x1="125.20" y1="391.64" x2="127.20" y2="391.64" stroke="#222" stroke-width="0.6" />
<line x1="125.20" y1="390.26" x2="127.20" y2="390.26" stroke="#222" stroke-width="0.6" />
<line x1="125.20" y1="389.10" x2="127.20" y2="389.10" stroke="#222" stroke-width="0.6" />
<line x1="125.20" y1="388.09" x2="127.20" y2="388.09" stroke="#222" stroke-width="0.6" />
<line x1="125.20" y1="387.20" x2="127.20" y2="387.20" stroke="#222" stroke-width="0.6" />
<line x1="124.00" y1="386.40" x2="127.20" y2="386.40" stroke="#222" stroke-width="0.6" />
<line x1="125.20" y1="381.16" x2="127.20" y2="381.16" stroke="#222" stroke-width="0.6" />
<line x1="125.20" y1="378.10" x2="127.20" y2="378.10" stroke="#222" stroke-width="0.6" />
<line x1="125.20" y1="375.92" x2="127.20" y2="375.92" stroke="#222" stroke-width="0.6" />
<line x1="125.20" y1="374.24" x2="127.20" y2="374.24" stroke="#222" stroke-width="0.6" />
<line x1="125.20" y1="372.86" x2="127.20" y2="372.86" stroke="#222" stroke-width="0.6" />
<line x1="125.20" y1="371.70" x2="127.20" y2="371.70" stroke="#222" stroke-width="0.6" />
<line x1="125.20" y1="370.69" x2="127.20" y2="370.69" stroke="#222" stroke-width="0.6" />
<line x1="125.20" y1="369.80" x2="127.20" y2="369.80" stroke="#222" stroke-width="0.6" />
<line x1="124.00" y1="369.00" x2="127.20" y2="369.00" stroke="#222" stroke-width="0.6" />
<line x1="125.20" y1="363.76" x2="127.20" y2="363.76" stroke="#222" stroke-width="0.6" />
<line x1="125.20" y1="360.70" x2="127.20" y2="360.70" stroke="#222" stroke-width="0.6" />
<line x1="125.20" y1="358.52" x2="127.20" y2="358.52" stroke="#222" stroke-width="0.6" />
<line x1="125.20" y1="356.84" x2="127.20" y2="356.84" stroke="#222" stroke-width="0.6" />
<line x1="125.20" y1="355.46" x2="127.20" y2="355.46" stroke="#222" stroke-width="0.6" />
<line x1="125.20" y1="354.30" x2="127.20" y2="354.30" stroke="#222" stroke-width="0.6" />
<line x1="125.20" y1="353.29" x2="127.20" y2="353.29" stroke="#222" stroke-width="0.6" />
<line x1="125.20" y1="352.40" x2="127.20" y2="352.40" stroke="#222" stroke-width="0.6" />
<line x1="124.00" y1="351.60" x2="127.20" y2="351.60" stroke="#222" stroke-width="0.6" />
<line x1="125.20" y1="346.36" x2="127.20" y2="346.36" stroke="#222" stroke-width="0.6" />
<line x1="125.20" y1="343.30" x2="127.20" y2="343.30" stroke="#222" stroke-width="0.6" />
<line x1="125.20" y1="341.12" x2="127.20" y2="341.12" stroke="#222" stroke-width="0.6" />
<line x1="125.20" y1="339.44" x2="127.20" y2="339.44" stroke="#222" stroke-width="0.6" />
<line x1="125.20" y1="338.06" x2="127.20" y2="338.06" stroke="#222" stroke-width="0.6" />
<line x1="125.20" y1="336.90" x2="127.20" y2="336.90" stroke="#222" stroke-width="0.6" />
<line x1="125.20" y1="335.89" x2="127.20" y2="335.89" stroke="#222" stroke-width="0.6" />
<line x1="125.20" y1="335.00" x2="127.20" y2="335.00" stroke="#222" stroke-width="0.6" />
<line x1="124.00" y1="334.20" x2="127.20" y2="334.20" stroke="#222" stroke-width="0.6" />
<line x1="125.20" y1="328.96" x2="127.20" y2="328.96" stroke="#222" stroke-width="0.6" />
<line x1="125.20" y1="325.90" x2="127.20" y2="325.90" stroke="#222" stroke-width="0.6" />
<line x1="125.20" y1="323.72" x2="127.20" y2="323.72" stroke="#222" stroke-width="0.6" />
<line x1="125.20" y1="322.04" x2="127.20" y2="322.04" stroke="#222" stroke-width="0.6" />
<line x1="125.20" y1="320.66" x2="127.20" y2="320.66" stroke="#222" stroke-width="0.6" />
<line x1="125.20" y1="319.50" x2="127.20" y2="319.50" stroke="#222" stroke-width="0.6" />
<line x1="125.20" y1="318.49" x2="127.20" y2="318.49" stroke="#222" stroke-width="0.6" />
<line x1="125.20" y1="317.60" x2="127.20" y2="317.60" stroke="#222" stroke-width="0.6" />
<line x1="124.00" y1="316.80" x2="127.20" y2="316.80" stroke="#222" stroke-width="0.6" />
<line x1="127.20" y1="403.80" x2="127.20" y2="407.00" stroke="#222" stroke-width="0.6" />
<line x1="132.44" y1="403.80" x2="132.44" y2="405.80" stroke="#222" stroke-width="0.6" />
<line x1="135.50" y1="403.80" x2="135.50" y2="405.80" stroke="#222" stroke-width="0.6" />
<line x1="137.68" y1="403.80" x2="137.68" y2="405.80" stroke="#222" stroke-width="0.6" />
<line x1="139.36" y1="403.80" x2="139.36" y2="405.80" stroke="#222" stroke-width="0.6" />
<line x1="140.74" y1="403.80" x2="140.74" y2="405.80" stroke="#222" stroke-width="0.6" />
<line x1="141.90" y1="403.80" x2="141.90" y2="405.80" stroke="#222" stroke-width="0.6" />
<line x1="142.91" y1="403.80" x2="142.91" y2="405.80" stroke="#222" stroke-width="0.6" />
<line x1="143.80" y1="403.80" x2="143.80" y2="405.80" stroke="#222" stroke-width="0.6" />
<line x1="144.60" y1="403.80" x2="144.60" y2="407.00" stroke="#222" stroke-width="0.6" />
<line x1="149.84" y1="403.80" x2="149.84" y2="405.80" stroke="#222" stroke-width="0.6" />
<line x1="152.90" y1="403.80" x2="152.90" y2="405.80" stroke="#222" stroke-width="0.6" />
<line x1="155.08" y1="403.80" x2="155.08" y2="405.80" stroke="#222" stroke-width="0.6" />
<line x1="156.76" y1="403.80" x2="156.76" y2="405.80" stroke="#222" stroke-width="0.6" />
<line x1="158.14" y1="403.80" x2="158.14" y2="405.80" stroke="#222" stroke-width="0.6" />
<line x1="159.30" y1="403.80" x2="159.30" y2="405.80" stroke="#222" stroke-width="0.6" />
<line x1="160.31" y1="403.80" x2="160.31" y2="405.80" stroke="#222" stroke-width="0.6" />
<line x1="161.20" y1="403.80" x2="161.20" y2="405.80" stroke="#222" stroke-width="0.6" />
<line x1="162.00" y1="403.80" x2="162.00" y2="407.00" stroke="#222" stroke-width="0.6" />
<line x1="167.24" y1="403.80" x2="167.24" y2="405.80" stroke="#222" stroke-width="0.6" />
<line x1="170.30" y1="403.80" x2="170.30" y2="405.80" stroke="#222" stroke-width="0.6" />
<line x1="172.48" y1="403.80" x2="172.48" y2="405.80" stroke="#222" stroke-width="0.6" />
<line x1="174.16" y1="403.80" x2="174.16" y2="405.80" stroke="#222" stroke-width="0.6" />
<line x1="175.54" y1="403.80" x2="175.54" y2="405.80" stroke="#222" stroke-width="0.6" />
<line x1="176.70" y1="403.80" x2="176.70" y2="405.80" stroke="#222" stroke-width="0.6" />
<line x1="177.71" y1="403.80" x2="177.71" y2="405.80" stroke="#222" stroke-width="0.6" />
<line x1="178.60" y1="403.80" x2="178.60" y2="405.80" stroke="#222" stroke-width="0.6" />
<line x1="179.40" y1="403.80" x2="179.40" y2="407.00" stroke="#222" stroke-width="0.6" />
<line x1="184.64" y1="403.80" x2="184.64" y2="405.80" stroke="#222" stroke-width="0.6" />
<line x1="187.70" y1="403.80" x2="187.70" y2="405.80" stroke="#222" stroke-width="0.6" />
<line x1="189.88" y1="403.80" x2="189.88" y2="405.80" stroke="#222" stroke-width="0.6" />
<line x1="191.56" y1="403.80" x2="191.56" y2="405.80" stroke="#222" stroke-width="0.6" />
<line x1="192.94" y1="403.80" x2="192.94" y2="405.80" stroke="#222" stroke-width="0.6" />
<line x1="194.10" y1="403.80" x2="194.10" y2="405.80" stroke="#222" stroke-width="0.6" />
<line x1="195.11" y1="403.80" x2="195.11" y2="405.80" stroke="#222" stroke-width="0.6" />
<line x1="196.00" y1="403.80" x2="196.00" y2="405.80" stroke="#222" stroke-width="0.6" />
<line x1="196.80" y1="403.80" x2="196.80" y2="407.00" stroke="#222" stroke-width="0.6" />
<line x1="202.04" y1="403.80" x2="202.04" y2="405.80" stroke="#222" stroke-width="0.6" />
<line x1="205.10" y1="403.80" x2="205.10" y2="405.80" stroke="#222" stroke-width="0.6" />
<line x1="207.28" y1="403.80" x2="207.28" y2="405.80" stroke="#222" stroke-width="0.6" />
<line x1="208.96" y1="403.80" x2="208.96" y2="405.80" stroke="#222" stroke-width="0.6" />
<line x1="210.34" y1="403.80" x2="210.34" y2="405.80" stroke="#222" stroke-width="0.6" />
<line x1="211.50" y1="403.80" x2="211.50" y2="405.80" stroke="#222" stroke-width="0.6" />
<line x1="212.51" y1="403.80" x2="212.51" y2="405.80" stroke="#222" stroke-width="0.6" />
<line x1="213.40" y1="403.80" x2="213.40" y2="405.80" stroke="#222" stroke-width="0.6" />
<line x1="214.20" y1="403.80" x2="214.20" y2="407.00" stroke="#222" stroke-width="0.6" />
<rect x="127.20" y="316.60" width="88.10" height="87.20" fill="none" stroke="#111" stroke-width="1.3" />
<line x1="168.80" y1="316.60" x2="168.80" y2="403.80" stroke="#111" stroke-width="1.2" />
<line x1="127.20" y1="365.80" x2="215.30" y2="365.80" stroke="#111" stroke-width="1.2" />
<text x="171.25" y="313.00" font-size="10" text-anchor="middle" fill="#111" >PIMi</text>
<text x="130.00" y="324.30" font-size="7.5" text-anchor="start" fill="#222" >Q1</text>
<text x="130.00" y="332.50" font-size="7.5" text-anchor="start" fill="#222" >1,78</text>
<text x="210.40" y="324.30" font-size="7.5" text-anchor="end" fill="#222" >Q2</text>
<text x="210.40" y="332.50" font-size="7.5" text-anchor="end" fill="#222" >1,30</text>
<text x="130.00" y="391.50" font-size="7.5" text-anchor="start" fill="#222" >Q4</text>
<text x="130.00" y="400.30" font-size="7.5" text-anchor="start" fill="#222" >92,3</text>
<text x="210.40" y="391.50" font-size="7.5" text-anchor="end" fill="#222" >Q3</text>
<text x="210.40" y="400.30" font-size="7.5" text-anchor="end" fill="#222" >4,59</text>
<line x1="22.60" y1="516.40" x2="25.80" y2="516.40" stroke="#222" stroke-width="0.6" />
<line x1="23.80" y1="511.16" x2="25.80" y2="511.16" stroke="#222" stroke-width="0.6" />
<line x1="23.80" y1="508.10" x2="25.80" y2="508.10" stroke="#222" stroke-width="0.6" />
<line x1="23.80" y1="505.92" x2="25.80" y2="505.92" stroke="#222" stroke-width="0.6" />
<line x1="23.80" y1="504.24" x2="25.80" y2="504.24" stroke="#222" stroke-width="0.6" />
<line x1="23.80" y1="502.86" x2="25.80" y2="502.86" stroke="#222" stroke-width="0.6" />
<line x1="23.80" y1="501.70" x2="25.80" y2="501.70" stroke="#222" stroke-width="0.6" />
<line x1="23.80" y1="500.69" x2="25.80" y2="500.69" stroke="#222" stroke-width="0.6" />
<line x1="23.80" y1="499.80" x2="25.80" y2="499.80" stroke="#222" stroke-width="0.6" />
<line x1="22.60" y1="499.00" x2="25.80" y2="499.00" stroke="#222" stroke-width="0.6" />
<line x1="23.80" y1="493.76" x2="25.80" y2="493.76" stroke="#222" stroke-width="0.6" />
<line x1="23.80" y1="490.70" x2="25.80" y2="490.70" stroke="#222" stroke-width="0.6" />
<line x1="23.80" y1="488.52" x2="25.80" y2="488.52" stroke="#222" stroke-width="0.6" />
<line x1="23.80" y1="486.84" x2="25.80" y2="486.84" stroke="#222" stroke-width="0.6" />
<line x1="23.80" y1="485.46" x2="25.80" y2="485.46" stroke="#222" stroke-width="0.6" />
<line x1="23.80" y1="484.30" x2="25.80" y2="484.30" stroke="#222" stroke-width="0.6" />
<line x1="23.80" y1="483.29" x2="25.80" y2="483.29" stroke="#222" stroke-width="0.6" />
<line x1="23.80" y1="482.40" x2="25.80" y2="482.40" stroke="#222" stroke-width="0.6" />
<line x1="22.60" y1="481.60" x2="25.80" y2="481.60" stroke="#222" stroke-width="0.6" />
<line x1="23.80" y1="476.36" x2="25.80" y2="476.36" stroke="#222" stroke-width="0.6" />
<line x1="23.80" y1="473.30" x2="25.80" y2="473.30" stroke="#222" stroke-width="0.6" />
<line x1="23.80" y1="471.12" x2="25.80" y2="471.12" stroke="#222" stroke-width="0.6" />
<line x1="23.80" y1="469.44" x2="25.80" y2="469.44" stroke="#222" stroke-width="0.6" />
<line x1="23.80" y1="468.06" x2="25.80" y2="468.06" stroke="#222" stroke-width="0.6" />
<line x1="23.80" y1="466.90" x2="25.80" y2="466.90" stroke="#222" stroke-width="0.6" />
<line x1="23.80" y1="465.89" x2="25.80" y2="465.89" stroke="#222" stroke-width="0.6" />
<line x1="23.80" y1="465.00" x2="25.80" y2="465.00" stroke="#222" stroke-width="0.6" />
<line x1="22.60" y1="464.20" x2="25.80" y2="464.20" stroke="#222" stroke-width="0.6" />
<line x1="23.80" y1="458.96" x2="25.80" y2="458.96" stroke="#222" stroke-width="0.6" />
<line x1="23.80" y1="455.90" x2="25.80" y2="455.90" stroke="#222" stroke-width="0.6" />
<line x1="23.80" y1="453.72" x2="25.80" y2="453.72" stroke="#222" stroke-width="0.6" />
<line x1="23.80" y1="452.04" x2="25.80" y2="452.04" stroke="#222" stroke-width="0.6" />
<line x1="23.80" y1="450.66" x2="25.80" y2="450.66" stroke="#222" stroke-width="0.6" />
<line x1="23.80" y1="449.50" x2="25.80" y2="449.50" stroke="#222" stroke-width="0.6" />
<line x1="23.80" y1="448.49" x2="25.80" y2="448.49" stroke="#222" stroke-width="0.6" />
<line x1="23.80" y1="447.60" x2="25.80" y2="447.60" stroke="#222" stroke-width="0.6" />
<line x1="22.60" y1="446.80" x2="25.80" y2="446.80" stroke="#222" stroke-width="0.6" />
<line x1="23.80" y1="441.56" x2="25.80" y2="441.56" stroke="#222" stroke-width="0.6" />
<line x1="23.80" y1="438.50" x2="25.80" y2="438.50" stroke="#222" stroke-width="0.6" />
<line x1="23.80" y1="436.32" x2="25.80" y2="436.32" stroke="#222" stroke-width="0.6" />
<line x1="23.80" y1="434.64" x2="25.80" y2="434.64" stroke="#222" stroke-width="0.6" />
<line x1="23.80" y1="433.26" x2="25.80" y2="433.26" stroke="#222" stroke-width="0.6" />
<line x1="23.80" y1="432.10" x2="25.80" y2="432.10" stroke="#222" stroke-width="0.6" />
<line x1="23.80" y1="431.09" x2="25.80" y2="431.09" stroke="#222" stroke-width="0.6" />
<line x1="23.80" y1="430.20" x2="25.80" y2="430.20" stroke="#222" stroke-width="0.6" />
<line x1="22.60" y1="429.40" x2="25.80" y2="429.40" stroke="#222" stroke-width="0.6" />
<line x1="25.80" y1="516.40" x2="25.80" y2="519.60" stroke="#222" stroke-width="0.6" />
<line x1="31.04" y1="516.40" x2="31.04" y2="518.40" stroke="#222" stroke-width="0.6" />
<line x1="34.10" y1="516.40" x2="34.10" y2="518.40" stroke="#222" stroke-width="0.6" />
<line x1="36.28" y1="516.40" x2="36.28" y2="518.40" stroke="#222" stroke-width="0.6" />
<line x1="37.96" y1="516.40" x2="37.96" y2="518.40" stroke="#222" stroke-width="0.6" />
<line x1="39.34" y1="516.40" x2="39.34" y2="518.40" stroke="#222" stroke-width="0.6" />
<line x1="40.50" y1="516.40" x2="40.50" y2="518.40" stroke="#222" stroke-width="0.6" />
<line x1="41.51" y1="516.40" x2="41.51" y2="518.40" stroke="#222" stroke-width="0.6" />
<line x1="42.40" y1="516.40" x2="42.40" y2="518.40" stroke="#222" stroke-width="0.6" />
<line x1="43.20" y1="516.40" x2="43.20" y2="519.60" stroke="#222" stroke-width="0.6" />
<line x1="48.44" y1="516.40" x2="48.44" y2="518.40" stroke="#222" stroke-width="0.6" />
<line x1="51.50" y1="516.40" x2="51.50" y2="518.40" stroke="#222" stroke-width="0.6" />
<line x1="53.68" y1="516.40" x2="53.68" y2="518.40" stroke="#222" stroke-width="0.6" />
<line x1="55.36" y1="516.40" x2="55.36" y2="518.40" stroke="#222" stroke-width="0.6" />
<line x1="56.74" y1="516.40" x2="56.74" y2="518.40" stroke="#222" stroke-width="0.6" />
<line x1="57.90" y1="516.40" x2="57.90" y2="518.40" stroke="#222" stroke-width="0.6" />
<line x1="58.91" y1="516.40" x2="58.91" y2="518.40" stroke="#222" stroke-width="0.6" />
<line x1="59.80" y1="516.40" x2="59.80" y2="518.40" stroke="#222" stroke-width="0.6" />
<line x1="60.60" y1="516.40" x2="60.60" y2="519.60" stroke="#222" stroke-width="0.6" />
<line x1="65.84" y1="516.40" x2="65.84" y2="518.40" stroke="#222" stroke-width="0.6" />
<line x1="68.90" y1="516.40" x2="68.90" y2="518.40" stroke="#222" stroke-width="0.6" />
<line x1="71.08" y1="516.40" x2="71.08" y2="518.40" stroke="#222" stroke-width="0.6" />
<line x1="72.76" y1="516.40" x2="72.76" y2="518.40" stroke="#222" stroke-width="0.6" />
<line x1="74.14" y1="516.40" x2="74.14" y2="518.40" stroke="#222" stroke-width="0.6" />
<line x1="75.30" y1="516.40" x2="75.30" y2="518.40" stroke="#222" stroke-width="0.6" />
<line x1="76.31" y1="516.40" x2="76.31" y2="518.40" stroke="#222" stroke-width="0.6" />
<line x1="77.20" y1="516.40" x2="77.20" y2="518.40" stroke="#222" stroke-width="0.6" />
<line x1="78.00" y1="516.40" x2="78.00" y2="519.60" stroke="#222" stroke-width="0.6" />
<line x1="83.24" y1="516.40" x2="83.24" y2="518.40" stroke="#222" stroke-width="0.6" />
<line x1="86.30" y1="516.40" x2="86.30" y2="518.40" stroke="#222" stroke-width="0.6" />
<line x1="88.48" y1="516.40" x2="88.48" y2="518.40" stroke="#222" stroke-width="0.6" />
<line x1="90.16" y1="516.40" x2="90.16" y2="518.40" stroke="#222" stroke-width="0.6" />
<line x1="91.54" y1="516.40" x2="91.54" y2="518.40" stroke="#222" stroke-width="0.6" />
<line x1="92.70" y1="516.40" x2="92.70" y2="518.40" stroke="#222" stroke-width="0.6" />
<line x1="93.71" y1="516.40" x2="93.71" y2="518.40" stroke="#222" stroke-width="0.6" />
<line x1="94.60" y1="516.40" x2="94.60" y2="518.40" stroke="#222" stroke-width="0.6" />
<line x1="95.40" y1="516.40" x2="95.40" y2="519.60" stroke="#222" stroke-width="0.6" />
<line x1="100.64" y1="516.40" x2="100.64" y2="518.40" stroke="#222" stroke-width="0.6" />
<line x1="103.70" y1="516.40" x2="103.70" y2="518.40" stroke="#222" stroke-width="0.6" />
<line x1="105.88" y1="516.40" x2="105.88" y2="518.40" stroke="#222" stroke-width="0.6" />
<line x1="107.56" y1="516.40" x2="107.56" y2="518.40" stroke="#222" stroke-width="0.6" />
<line x1="108.94" y1="516.40" x2="108.94" y2="518.40" stroke="#222" stroke-width="0.6" />
<line x1="110.10" y1="516.40" x2="110.10" y2="518.40" stroke="#222" stroke-width="0.6" />
<line x1="111.11" y1="516.40" x2="111.11" y2="518.40" stroke="#222" stroke-width="0.6" />
<line x1="112.00" y1="516.40" x2="112.00" y2="518.40" stroke="#222" stroke-width="0.6" />
<line x1="112.80" y1="516.40" x2="112.80" y2="519.60" stroke="#222" stroke-width="0.6" />
<rect x="25.80" y="428.20" width="87.40" height="88.20" fill="none" stroke="#111" stroke-width="1.3" />
<line x1="67.30" y1="428.20" x2="67.30" y2="516.40" stroke="#111" stroke-width="1.2" />
<line x1="25.80" y1="478.00" x2="113.20" y2="478.00" stroke="#111" stroke-width="1.2" />
<text x="69.50" y="424.60" font-size="10" text-anchor="middle" fill="#111" >MCLi</text>
<text x="28.60" y="435.90" font-size="7.5" text-anchor="start" fill="#222" >Q1</text>
<text x="28.60" y="444.10" font-size="7.5" text-anchor="start" fill="#222" >8,05</text>
<text x="108.30" y="435.90" font-size="7.5" text-anchor="end" fill="#222" >Q2</text>
<text x="108.30" y="444.10" font-size="7.5" text-anchor="end" fill="#222" >8,17</text>
<text x="28.60" y="504.10" font-size="7.5" text-anchor="start" fill="#222" >Q4</text>
<text x="28.60" y="512.90" font-size="7.5" text-anchor="start" fill="#222" >81,3</text>
<text x="108.30" y="504.10" font-size="7.5" text-anchor="end" fill="#222" >Q3</text>
<text x="108.30" y="512.90" font-size="7.5" text-anchor="end" fill="#222" >2,46</text>
<line x1="124.50" y1="516.40" x2="127.70" y2="516.40" stroke="#222" stroke-width="0.6" />
<line x1="125.70" y1="511.16" x2="127.70" y2="511.16" stroke="#222" stroke-width="0.6" />
<line x1="125.70" y1="508.10" x2="127.70" y2="508.10" stroke="#222" stroke-width="0.6" />
<line x1="125.70" y1="505.92" x2="127.70" y2="505.92" stroke="#222" stroke-width="0.6" />
<line x1="125.70" y1="504.24" x2="127.70" y2="504.24" stroke="#222" stroke-width="0.6" />
<line x1="125.70" y1="502.86" x2="127.70" y2="502.86" stroke="#222" stroke-width="0.6" />
<line x1="125.70" y1="501.70" x2="127.70" y2="501.70" stroke="#222" stroke-width="0.6" />
<line x1="125.70" y1="500.69" x2="127.70" y2="500.69" stroke="#222" stroke-width="0.6" />
<line x1="125.70" y1="499.80" x2="127.70" y2="499.80" stroke="#222" stroke-width="0.6" />
<line x1="124.50" y1="499.00" x2="127.70" y2="499.00" stroke="#222" stroke-width="0.6" />
<line x1="125.70" y1="493.76" x2="127.70" y2="493.76" stroke="#222" stroke-width="0.6" />
<line x1="125.70" y1="490.70" x2="127.70" y2="490.70" stroke="#222" stroke-width="0.6" />
<line x1="125.70" y1="488.52" x2="127.70" y2="488.52" stroke="#222" stroke-width="0.6" />
<line x1="125.70" y1="486.84" x2="127.70" y2="486.84" stroke="#222" stroke-width="0.6" />
<line x1="125.70" y1="485.46" x2="127.70" y2="485.46" stroke="#222" stroke-width="0.6" />
<line x1="125.70" y1="484.30" x2="127.70" y2="484.30" stroke="#222" stroke-width="0.6" />
<line x1="125.70" y1="483.29" x2="127.70" y2="483.29" stroke="#222" stroke-width="0.6" />
<line x1="125.70" y1="482.40" x2="127.70" y2="482.40" stroke="#222" stroke-width="0.6" />
<line x1="124.50" y1="481.60" x2="127.70" y2="481.60" stroke="#222" stroke-width="0.6" />
<line x1="125.70" y1="476.36" x2="127.70" y2="476.36" stroke="#222" stroke-width="0.6" />
<line x1="125.70" y1="473.30" x2="127.70" y2="473.30" stroke="#222" stroke-width="0.6" />
<line x1="125.70" y1="471.12" x2="127.70" y2="471.12" stroke="#222" stroke-width="0.6" />
<line x1="125.70" y1="469.44" x2="127.70" y2="469.44" stroke="#222" stroke-width="0.6" />
<line x1="125.70" y1="468.06" x2="127.70" y2="468.06" stroke="#222" stroke-width="0.6" />
<line x1="125.70" y1="466.90" x2="127.70" y2="466.90" stroke="#222" stroke-width="0.6" />
<line x1="125.70" y1="465.89" x2="127.70" y2="465.89" stroke="#222" stroke-width="0.6" />
<line x1="125.70" y1="465.00" x2="127.70" y2="465.00" stroke="#222" stroke-width="0.6" />
<line x1="124.50" y1="464.20" x2="127.70" y2="464.20" stroke="#222" stroke-width="0.6" />
<line x1="125.70" y1="458.96" x2="127.70" y2="458.96" stroke="#222" stroke-width="0.6" />
<line x1="125.70" y1="455.90" x2="127.70" y2="455.90" stroke="#222" stroke-width="0.6" />
<line x1="125.70" y1="453.72" x2="127.70" y2="453.72" stroke="#222" stroke-width="0.6" />
<line x1="125.70" y1="452.04" x2="127.70" y2="452.04" stroke="#222" stroke-width="0.6" />
<line x1="125.70" y1="450.66" x2="127.70" y2="450.66" stroke="#222" stroke-width="0.6" />
<line x1="125.70" y1="449.50" x2="127.70" y2="449.50" stroke="#222" stroke-width="0.6" />
<line x1="125.70" y1="448.49" x2="127.70" y2="448.49" stroke="#222" stroke-width="0.6" />
<line x1="125.70" y1="447.60" x2="127.70" y2="447.60" stroke="#222" stroke-width="0.6" />
<line x1="124.50" y1="446.80" x2="127.70" y2="446.80" stroke="#222" stroke-width="0.6" />
<line x1="125.70" y1="441.56" x2="127.70" y2="441.56" stroke="#222" stroke-width="0.6" />
<line x1="125.70" y1="438.50" x2="127.70" y2="438.50" stroke="#222" stroke-width="0.6" />
<line x1="125.70" y1="436.32" x2="127.70" y2="436.32" stroke="#222" stroke-width="0.6" />
<line x1="125.70" y1="434.64" x2="127.70" y2="434.64" stroke="#222" stroke-width="0.6" />
<line x1="125.70" y1="433.26" x2="127.70" y2="433.26" stroke="#222" stroke-width="0.6" />
<line x1="125.70" y1="432.10" x2="127.70" y2="432.10" stroke="#222" stroke-width="0.6" />
<line x1="125.70" y1="431.09" x2="127.70" y2="431.09" stroke="#222" stroke-width="0.6" />
<line x1="125.70" y1="430.20" x2="127.70" y2="430.20" stroke="#222" stroke-width="0.6" />
<line x1="124.50" y1="429.40" x2="127.70" y2="429.40" stroke="#222" stroke-width="0.6" />
<line x1="127.70" y1="516.40" x2="127.70" y2="519.60" stroke="#222" stroke-width="0.6" />
<line x1="132.94" y1="516.40" x2="132.94" y2="518.40" stroke="#222" stroke-width="0.6" />
<line x1="136.00" y1="516.40" x2="136.00" y2="518.40" stroke="#222" stroke-width="0.6" />
<line x1="138.18" y1="516.40" x2="138.18" y2="518.40" stroke="#222" stroke-width="0.6" />
<line x1="139.86" y1="516.40" x2="139.86" y2="518.40" stroke="#222" stroke-width="0.6" />
<line x1="141.24" y1="516.40" x2="141.24" y2="518.40" stroke="#222" stroke-width="0.6" />
<line x1="142.40" y1="516.40" x2="142.40" y2="518.40" stroke="#222" stroke-width="0.6" />
<line x1="143.41" y1="516.40" x2="143.41" y2="518.40" stroke="#222" stroke-width="0.6" />
<line x1="144.30" y1="516.40" x2="144.30" y2="518.40" stroke="#222" stroke-width="0.6" />
<line x1="145.10" y1="516.40" x2="145.10" y2="519.60" stroke="#222" stroke-width="0.6" />
<line x1="150.34" y1="516.40" x2="150.34" y2="518.40" stroke="#222" stroke-width="0.6" />
<line x1="153.40" y1="516.40" x2="153.40" y2="518.40" stroke="#222" stroke-width="0.6" />
<line x1="155.58" y1="516.40" x2="155.58" y2="518.40" stroke="#222" stroke-width="0.6" />
<line x1="157.26" y1="516.40" x2="157.26" y2="518.40" stroke="#222" stroke-width="0.6" />
<line x1="158.64" y1="516.40" x2="158.64" y2="518.40" stroke="#222" stroke-width="0.6" />
<line x1="159.80" y1="516.40" x2="159.80" y2="518.40" stroke="#222" stroke-width="0.6" />
<line x1="160.81" y1="516.40" x2="160.81" y2="518.40" stroke="#222" stroke-width="0.6" />
<line x1="161.70" y1="516.40" x2="161.70" y2="518.40" stroke="#222" stroke-width="0.6" />
<line x1="162.50" y1="516.40" x2="162.50" y2="519.60" stroke="#222" stroke-width="0.6" />
<line x1="167.74" y1="516.40" x2="167.74" y2="518.40" stroke="#222" stroke-width="0.6" />
<line x1="170.80" y1="516.40" x2="170.80" y2="518.40" stroke="#222" stroke-width="0.6" />
<line x1="172.98" y1="516.40" x2="172.98" y2="518.40" stroke="#222" stroke-width="0.6" />
<line x1="174.66" y1="516.40" x2="174.66" y2="518.40" stroke="#222" stroke-width="0.6" />
<line x1="176.04" y1="516.40" x2="176.04" y2="518.40" stroke="#222" stroke-width="0.6" />
<line x1="177.20" y1="516.40" x2="177.20" y2="518.40" stroke="#222" stroke-width="0.6" />
<line x1="178.21" y1="516.40" x2="178.21" y2="518.40" stroke="#222" stroke-width="0.6" />
<line x1="179.10" y1="516.40" x2="179.10" y2="518.40" stroke="#222" stroke-width="0.6" />
<line x1="179.90" y1="516.40" x2="179.90" y2="519.60" stroke="#222" stroke-width="0.6" />
<line x1="185.14" y1="516.40" x2="185.14" y2="518.40" stroke="#222" stroke-width="0.6" />
<line x1="188.20" y1="516.40" x2="188.20" y2="518.40" stroke="#222" stroke-width="0.6" />
<line x1="190.38" y1="516.40" x2="190.38" y2="518.40" stroke="#222" stroke-width="0.6" />
<line x1="192.06" y1="516.40" x2="192.06" y2="518.40" stroke="#222" stroke-width="0.6" />
<line x1="193.44" y1="516.40" x2="193.44" y2="518.40" stroke="#222" stroke-width="0.6" />
<line x1="194.60" y1="516.40" x2="194.60" y2="518.40" stroke="#222" stroke-width="0.6" />
<line x1="195.61" y1="516.40" x2="195.61" y2="518.40" stroke="#222" stroke-width="0.6" />
<line x1="196.50" y1="516.40" x2="196.50" y2="518.40" stroke="#222" stroke-width="0.6" />
<line x1="197.30" y1="516.40" x2="197.30" y2="519.60" stroke="#222" stroke-width="0.6" />
<line x1="202.54" y1="516.40" x2="202.54" y2="518.40" stroke="#222" stroke-width="0.6" />
<line x1="205.60" y1="516.40" x2="205.60" y2="518.40" stroke="#222" stroke-width="0.6" />
<line x1="207.78" y1="516.40" x2="207.78" y2="518.40" stroke="#222" stroke-width="0.6" />
<line x1="209.46" y1="516.40" x2="209.46" y2="518.40" stroke="#222" stroke-width="0.6" />
<line x1="210.84" y1="516.40" x2="210.84" y2="518.40" stroke="#222" stroke-width="0.6" />
<line x1="212.00" y1="516.40" x2="212.00" y2="518.40" stroke="#222" stroke-width="0.6" />
<line x1="213.01" y1="516.40" x2="213.01" y2="518.40" stroke="#222" stroke-width="0.6" />
<line x1="213.90" y1="516.40" x2="213.90" y2="518.40" stroke="#222" stroke-width="0.6" />
<line x1="214.70" y1="516.40" x2="214.70" y2="519.60" stroke="#222" stroke-width="0.6" />
<rect x="127.70" y="428.20" width="88.10" height="88.20" fill="none" stroke="#111" stroke-width="1.3" />
<line x1="169.70" y1="428.20" x2="169.70" y2="516.40" stroke="#111" stroke-width="1.2" />
<line x1="127.70" y1="478.20" x2="215.80" y2="478.20" stroke="#111" stroke-width="1.2" />
<text x="171.75" y="424.60" font-size="10" text-anchor="middle" fill="#111" >PIMi + MCLi</text>
<text x="130.50" y="435.90" font-size="7.5" text-anchor="start" fill="#222" >Q1</text>
<text x="130.50" y="444.10" font-size="7.5" text-anchor="start" fill="#222" >11,1</text>
<text x="210.90" y="435.90" font-size="7.5" text-anchor="end" fill="#222" >Q2</text>
<text x="210.90" y="444.10" font-size="7.5" text-anchor="end" fill="#222" >40,4</text>
<text x="130.50" y="504.10" font-size="7.5" text-anchor="start" fill="#222" >Q4</text>
<text x="130.50" y="512.90" font-size="7.5" text-anchor="start" fill="#222" >41,6</text>
<text x="210.90" y="504.10" font-size="7.5" text-anchor="end" fill="#222" >Q3</text>
<text x="210.90" y="512.90" font-size="7.5" text-anchor="end" fill="#222" >6,90</text>
<path d="M52.25,380.77 L51.75,380.87 L51.25,380.92 L50.75,380.92 L50.25,380.84 L49.98,380.75 L49.50,380.50 L49.25,380.30 L49.00,380.01 L48.84,379.75 L48.73,379.50 L48.59,379.00 L48.53,378.50 L48.53,378.00 L48.57,377.50 L48.65,377.00 L48.75,376.60 L48.84,376.25 L49.00,375.75 L49.08,375.50 L49.25,375.08 L49.38,374.75 L49.50,374.49 L49.73,374.00 L49.85,373.75 L50.00,373.48 L50.25,373.02 L50.40,372.75 L50.55,372.50 L50.75,372.18 L51.00,371.79 L51.19,371.50 L51.36,371.25 L51.54,371.00 L51.75,370.71 L52.00,370.38 L52.25,370.06 L52.50,369.75 L52.70,369.50 L52.91,369.25 L53.13,369.00 L53.35,368.75 L53.58,368.50 L53.82,368.25 L54.06,368.00 L54.31,367.75 L54.57,367.50 L54.84,367.25 L55.11,367.00 L55.39,366.75 L55.68,366.50 L55.98,366.25 L56.25,366.02 L56.50,365.82 L56.75,365.62 L57.00,365.43 L57.25,365.24 L57.56,365.00 L57.90,364.75 L58.25,364.50 L58.50,364.32 L58.75,364.15 L59.00,363.99 L59.39,363.75 L59.75,363.54 L60.00,363.41 L60.33,363.25 L60.75,363.07 L61.00,362.99 L61.50,362.85 L62.00,362.77 L62.50,362.76 L63.00,362.82 L63.50,362.97 L63.75,363.09 L64.00,363.25 L64.29,363.50 L64.51,363.75 L64.75,364.12 L64.93,364.50 L65.01,364.75 L65.12,365.25 L65.17,365.75 L65.16,366.25 L65.10,366.75 L65.00,367.25 L64.94,367.50 L64.79,368.00 L64.70,368.25 L64.50,368.74 L64.39,369.00 L64.25,369.28 L64.01,369.75 L63.88,370.00 L63.73,370.25 L63.50,370.64 L63.28,371.00 L63.13,371.25 L62.97,371.50 L62.75,371.84 L62.50,372.21 L62.31,372.50 L62.14,372.75 L61.96,373.00 L61.75,373.29 L61.50,373.64 L61.25,373.97 L61.03,374.25 L60.84,374.50 L60.64,374.75 L60.43,375.00 L60.21,375.25 L59.99,375.50 L59.75,375.76 L59.50,376.03 L59.25,376.29 L59.00,376.54 L58.75,376.79 L58.50,377.02 L58.25,377.25 L57.97,377.50 L57.68,377.75 L57.37,378.00 L57.05,378.25 L56.75,378.48 L56.50,378.67 L56.25,378.84 L56.00,379.01 L55.63,379.25 L55.25,379.48 L55.00,379.63 L54.75,379.77 L54.30,380.00 L54.00,380.15 L53.75,380.26 L53.25,380.46 L53.00,380.55 L52.50,380.71 L52.25,380.77 Z" fill="none" stroke="#8a8a8a" stroke-width="0.7"/>
<path d="M52.25,379.53 L51.75,379.57 L51.25,379.52 L51.00,379.46 L50.56,379.25 L50.26,379.00 L50.07,378.75 L49.94,378.50 L49.79,378.00 L49.75,377.65 L49.74,377.25 L49.76,377.00 L49.83,376.50 L49.94,376.00 L50.02,375.75 L50.18,375.25 L50.28,375.00 L50.49,374.50 L50.60,374.25 L50.75,373.96 L50.99,373.50 L51.13,373.25 L51.28,373.00 L51.50,372.64 L51.75,372.26 L51.92,372.00 L52.10,371.75 L52.28,371.50 L52.50,371.22 L52.75,370.90 L53.00,370.59 L53.25,370.30 L53.50,370.02 L53.75,369.75 L53.99,369.50 L54.24,369.25 L54.49,369.00 L54.75,368.76 L55.00,368.53 L55.25,368.31 L55.50,368.09 L55.75,367.89 L56.00,367.69 L56.25,367.50 L56.59,367.25 L56.95,367.00 L57.25,366.79 L57.50,366.63 L57.75,366.47 L58.12,366.25 L58.50,366.03 L58.75,365.88 L59.01,365.75 L59.50,365.50 L59.75,365.39 L60.10,365.25 L60.50,365.11 L60.95,365.00 L61.25,364.96 L61.75,364.96 L62.00,365.00 L62.50,365.22 L62.75,365.44 L62.98,365.75 L63.10,366.00 L63.22,366.50 L63.24,367.00 L63.20,367.50 L63.10,368.00 L63.00,368.33 L62.87,368.75 L62.75,369.05 L62.57,369.50 L62.45,369.75 L62.25,370.18 L62.09,370.50 L61.96,370.75 L61.75,371.14 L61.55,371.50 L61.41,371.75 L61.25,372.00 L61.00,372.41 L60.78,372.75 L60.62,373.00 L60.44,373.25 L60.25,373.51 L60.00,373.86 L59.75,374.18 L59.50,374.49 L59.28,374.75 L59.07,375.00 L58.85,375.25 L58.62,375.50 L58.38,375.75 L58.13,376.00 L57.87,376.25 L57.60,376.50 L57.32,376.75 L57.03,377.00 L56.75,377.23 L56.50,377.43 L56.25,377.62 L56.00,377.80 L55.71,378.00 L55.33,378.25 L55.00,378.46 L54.75,378.60 L54.47,378.75 L54.00,378.98 L53.75,379.09 L53.33,379.25 L53.00,379.36 L52.50,379.48 L52.25,379.53 Z" fill="none" stroke="#6a6a6a" stroke-width="0.7"/>
<path d="M53.25,378.26 L52.75,378.36 L52.25,378.37 L51.75,378.26 L51.50,378.13 L51.25,377.92 L51.00,377.54 L50.90,377.25 L50.83,376.75 L50.85,376.25 L50.93,375.75 L51.00,375.48 L51.15,375.00 L51.25,374.73 L51.45,374.25 L51.57,374.00 L51.75,373.65 L51.97,373.25 L52.12,373.00 L52.28,372.75 L52.50,372.42 L52.75,372.07 L52.99,371.75 L53.18,371.50 L53.38,371.25 L53.59,371.00 L53.82,370.75 L54.05,370.50 L54.29,370.25 L54.54,370.00 L54.80,369.75 L55.08,369.50 L55.37,369.25 L55.67,369.00 L56.00,368.75 L56.25,368.56 L56.50,368.39 L56.75,368.23 L57.12,368.00 L57.50,367.78 L57.75,367.65 L58.07,367.50 L58.50,367.32 L58.75,367.23 L59.25,367.08 L59.74,367.00 L60.00,366.98 L60.26,367.00 L60.75,367.15 L61.00,367.33 L61.25,367.69 L61.35,368.00 L61.40,368.50 L61.36,369.00 L61.26,369.50 L61.20,369.75 L61.04,370.25 L60.95,370.50 L60.75,370.97 L60.63,371.25 L60.50,371.50 L60.25,371.98 L60.10,372.25 L59.95,372.50 L59.75,372.81 L59.50,373.19 L59.28,373.50 L59.10,373.75 L58.91,374.00 L58.71,374.25 L58.49,374.50 L58.25,374.78 L58.00,375.06 L57.75,375.32 L57.50,375.57 L57.25,375.81 L57.00,376.03 L56.75,376.25 L56.45,376.50 L56.13,376.75 L55.79,377.00 L55.50,377.20 L55.25,377.36 L55.00,377.51 L54.56,377.75 L54.25,377.91 L54.00,378.01 L53.50,378.20 L53.25,378.26 Z" fill="none" stroke="#4a4a4a" stroke-width="0.7"/>
<path d="M53.50,377.28 L53.00,377.32 L52.63,377.25 L52.25,377.06 L52.00,376.77 L51.88,376.50 L51.80,376.00 L51.83,375.50 L51.94,375.00 L52.02,374.75 L52.20,374.25 L52.31,374.00 L52.50,373.62 L52.70,373.25 L52.85,373.00 L53.02,372.75 L53.25,372.41 L53.50,372.07 L53.75,371.75 L53.96,371.50 L54.18,371.25 L54.41,371.00 L54.65,370.75 L54.91,370.50 L55.19,370.25 L55.48,370.00 L55.75,369.78 L56.00,369.59 L56.25,369.42 L56.51,369.25 L56.93,369.00 L57.25,368.83 L57.50,368.71 L58.00,368.52 L58.25,368.45 L58.75,368.37 L59.25,368.40 L59.53,368.50 L59.84,368.75 L60.00,369.01 L60.11,369.50 L60.10,370.00 L60.01,370.50 L59.94,370.75 L59.77,371.25 L59.66,371.50 L59.50,371.85 L59.29,372.25 L59.15,372.50 L59.00,372.75 L58.75,373.13 L58.50,373.49 L58.30,373.75 L58.11,374.00 L57.90,374.25 L57.68,374.50 L57.44,374.75 L57.20,375.00 L56.94,375.25 L56.67,375.50 L56.37,375.75 L56.06,376.00 L55.75,376.23 L55.50,376.40 L55.25,376.56 L54.91,376.75 L54.50,376.96 L54.25,377.06 L53.75,377.23 L53.50,377.28 Z" fill="none" stroke="#2e2e2e" stroke-width="0.7"/>
<path d="M54.25,376.26 L53.75,376.35 L53.25,376.27 L53.00,376.11 L52.77,375.75 L52.71,375.50 L52.72,375.00 L52.76,374.75 L52.90,374.25 L53.00,374.00 L53.23,373.50 L53.37,373.25 L53.52,373.00 L53.75,372.65 L54.00,372.31 L54.24,372.00 L54.45,371.75 L54.68,371.50 L54.93,371.25 L55.19,371.00 L55.47,370.75 L55.75,370.52 L56.00,370.34 L56.25,370.16 L56.52,370.00 L56.99,369.75 L57.25,369.64 L57.72,369.50 L58.00,369.46 L58.48,369.50 L58.75,369.64 L59.00,369.96 L59.08,370.25 L59.09,370.75 L59.00,371.20 L58.91,371.50 L58.75,371.90 L58.59,372.25 L58.45,372.50 L58.25,372.84 L58.00,373.22 L57.80,373.50 L57.60,373.75 L57.39,374.00 L57.17,374.25 L56.93,374.50 L56.67,374.75 L56.39,375.00 L56.09,375.25 L55.76,375.50 L55.50,375.67 L55.25,375.83 L54.92,376.00 L54.50,376.18 L54.25,376.26 Z" fill="none" stroke="#151515" stroke-width="0.7"/>
<path d="M54.75,375.33 L54.25,375.40 L53.81,375.25 L53.63,375.00 L53.58,374.50 L53.68,374.00 L53.77,373.75 L54.00,373.27 L54.16,373.00 L54.32,372.75 L54.50,372.50 L54.75,372.19 L55.00,371.91 L55.25,371.66 L55.50,371.43 L55.75,371.23 L56.06,371.00 L56.47,370.75 L56.75,370.62 L57.10,370.50 L57.50,370.45 L57.78,370.50 L58.07,370.75 L58.18,371.25 L58.10,371.75 L58.00,372.04 L57.79,372.50 L57.65,372.75 L57.50,373.00 L57.25,373.34 L57.00,373.66 L56.75,373.94 L56.50,374.19 L56.25,374.42 L56.00,374.63 L55.75,374.81 L55.46,375.00 L55.00,375.24 L54.75,375.33 Z" fill="#050505" stroke="#050505" stroke-width="0.7"/>
<path d="M55.50,374.29 L55.00,374.47 L54.50,374.30 L54.43,374.00 L54.50,373.61 L54.65,373.25 L54.78,373.00 L55.00,372.69 L55.25,372.38 L55.50,372.13 L55.75,371.91 L56.00,371.72 L56.42,371.50 L56.75,371.40 L57.15,371.50 L57.29,371.75 L57.25,372.18 L57.14,372.50 L57.00,372.78 L56.75,373.16 L56.50,373.47 L56.25,373.73 L56.00,373.95 L55.75,374.14 L55.50,374.29 Z" fill="#000" stroke="#000" stroke-width="0.7"/>
<path d="M149.00,384.55 L148.50,384.63 L148.00,384.66 L147.50,384.66 L147.00,384.60 L146.60,384.50 L146.25,384.37 L146.00,384.24 L145.66,384.00 L145.40,383.75 L145.22,383.50 L145.00,383.09 L144.88,382.75 L144.78,382.25 L144.75,381.88 L144.75,381.50 L144.76,381.25 L144.82,380.75 L144.91,380.25 L145.00,379.90 L145.11,379.50 L145.25,379.09 L145.37,378.75 L145.50,378.44 L145.68,378.00 L145.80,377.75 L146.00,377.35 L146.17,377.00 L146.31,376.75 L146.50,376.42 L146.75,376.00 L146.90,375.75 L147.06,375.50 L147.25,375.21 L147.50,374.83 L147.74,374.50 L147.91,374.25 L148.10,374.00 L148.29,373.75 L148.50,373.48 L148.75,373.16 L149.00,372.86 L149.25,372.56 L149.50,372.27 L149.74,372.00 L149.97,371.75 L150.20,371.50 L150.44,371.25 L150.68,371.00 L150.93,370.75 L151.18,370.50 L151.44,370.25 L151.71,370.00 L151.99,369.75 L152.25,369.51 L152.50,369.29 L152.75,369.08 L153.00,368.87 L153.25,368.67 L153.50,368.47 L153.79,368.25 L154.12,368.00 L154.46,367.75 L154.75,367.54 L155.00,367.37 L155.25,367.20 L155.56,367.00 L155.96,366.75 L156.25,366.57 L156.50,366.42 L156.82,366.25 L157.25,366.02 L157.50,365.90 L157.82,365.75 L158.25,365.56 L158.50,365.47 L159.00,365.29 L159.25,365.21 L159.75,365.08 L160.21,365.00 L160.50,364.96 L161.00,364.92 L161.50,364.93 L162.00,365.00 L162.25,365.05 L162.75,365.22 L163.00,365.33 L163.28,365.50 L163.62,365.75 L163.89,366.00 L164.10,366.25 L164.28,366.50 L164.50,366.87 L164.68,367.25 L164.78,367.50 L164.93,368.00 L165.00,368.35 L165.06,368.75 L165.10,369.25 L165.11,369.75 L165.07,370.25 L165.00,370.69 L164.94,371.00 L164.80,371.50 L164.71,371.75 L164.50,372.25 L164.38,372.50 L164.24,372.75 L164.00,373.14 L163.75,373.49 L163.55,373.75 L163.34,374.00 L163.12,374.25 L162.88,374.50 L162.63,374.75 L162.36,375.00 L162.10,375.25 L161.82,375.50 L161.55,375.75 L161.28,376.00 L161.01,376.25 L160.75,376.50 L160.50,376.74 L160.25,376.98 L160.00,377.23 L159.75,377.48 L159.50,377.74 L159.25,377.99 L159.00,378.24 L158.75,378.49 L158.50,378.74 L158.25,378.99 L158.00,379.23 L157.75,379.46 L157.50,379.69 L157.25,379.92 L157.00,380.14 L156.75,380.36 L156.50,380.57 L156.25,380.77 L155.96,381.00 L155.64,381.25 L155.31,381.50 L155.00,381.72 L154.75,381.90 L154.50,382.07 L154.22,382.25 L153.83,382.50 L153.50,382.70 L153.25,382.85 L152.98,383.00 L152.52,383.25 L152.25,383.39 L152.00,383.51 L151.50,383.74 L151.25,383.85 L150.87,384.00 L150.50,384.14 L150.15,384.25 L149.75,384.38 L149.25,384.49 L149.00,384.55 Z" fill="none" stroke="#8a8a8a" stroke-width="0.7"/>
<path d="M149.50,383.01 L149.00,383.07 L148.50,383.09 L148.00,383.03 L147.75,382.97 L147.25,382.77 L147.00,382.60 L146.75,382.36 L146.51,382.00 L146.39,381.75 L146.26,381.25 L146.23,381.00 L146.22,380.50 L146.25,380.17 L146.31,379.75 L146.42,379.25 L146.50,378.99 L146.66,378.50 L146.76,378.25 L146.97,377.75 L147.08,377.50 L147.25,377.17 L147.47,376.75 L147.61,376.50 L147.76,376.25 L148.00,375.86 L148.24,375.50 L148.40,375.25 L148.58,375.00 L148.76,374.75 L149.00,374.43 L149.25,374.11 L149.50,373.80 L149.75,373.51 L149.97,373.25 L150.19,373.00 L150.42,372.75 L150.65,372.50 L150.90,372.25 L151.15,372.00 L151.40,371.75 L151.67,371.50 L151.94,371.25 L152.23,371.00 L152.50,370.76 L152.75,370.55 L153.00,370.35 L153.25,370.15 L153.50,369.96 L153.79,369.75 L154.14,369.50 L154.50,369.26 L154.75,369.09 L155.00,368.93 L155.30,368.75 L155.73,368.50 L156.00,368.34 L156.25,368.22 L156.69,368.00 L157.00,367.85 L157.25,367.75 L157.75,367.55 L158.00,367.46 L158.50,367.31 L158.75,367.25 L159.25,367.15 L159.75,367.10 L160.25,367.11 L160.75,367.18 L161.02,367.25 L161.50,367.46 L161.75,367.62 L162.00,367.83 L162.25,368.11 L162.50,368.50 L162.61,368.75 L162.75,369.22 L162.80,369.50 L162.83,370.00 L162.80,370.50 L162.75,370.76 L162.62,371.25 L162.50,371.58 L162.31,372.00 L162.18,372.25 L162.00,372.55 L161.75,372.93 L161.52,373.25 L161.34,373.50 L161.14,373.75 L160.94,374.00 L160.74,374.25 L160.50,374.54 L160.25,374.84 L160.00,375.15 L159.75,375.45 L159.50,375.74 L159.29,376.00 L159.08,376.25 L158.86,376.50 L158.64,376.75 L158.42,377.00 L158.20,377.25 L157.97,377.50 L157.73,377.75 L157.49,378.00 L157.24,378.25 L156.99,378.50 L156.73,378.75 L156.47,379.00 L156.19,379.25 L155.91,379.50 L155.61,379.75 L155.31,380.00 L155.00,380.24 L154.75,380.44 L154.50,380.62 L154.25,380.80 L153.95,381.00 L153.58,381.25 L153.25,381.46 L153.00,381.61 L152.74,381.75 L152.28,382.00 L152.00,382.15 L151.75,382.26 L151.25,382.48 L151.00,382.58 L150.51,382.75 L150.25,382.84 L149.75,382.96 L149.50,383.01 Z" fill="none" stroke="#6a6a6a" stroke-width="0.7"/>
<path d="M150.75,381.52 L150.25,381.64 L149.75,381.71 L149.25,381.71 L148.75,381.62 L148.44,381.50 L148.08,381.25 L147.87,381.00 L147.73,380.75 L147.58,380.25 L147.54,379.75 L147.58,379.25 L147.67,378.75 L147.75,378.48 L147.90,378.00 L148.00,377.75 L148.22,377.25 L148.34,377.00 L148.50,376.71 L148.75,376.27 L148.91,376.00 L149.07,375.75 L149.25,375.48 L149.50,375.13 L149.75,374.79 L149.98,374.50 L150.18,374.25 L150.39,374.00 L150.60,373.75 L150.83,373.50 L151.06,373.25 L151.31,373.00 L151.56,372.75 L151.82,372.50 L152.09,372.25 L152.37,372.00 L152.66,371.75 L152.97,371.50 L153.25,371.28 L153.50,371.09 L153.75,370.91 L154.00,370.74 L154.36,370.50 L154.75,370.26 L155.00,370.11 L155.25,369.97 L155.68,369.75 L156.00,369.59 L156.25,369.49 L156.75,369.29 L157.00,369.20 L157.50,369.06 L157.80,369.00 L158.25,368.93 L158.75,368.92 L159.25,368.99 L159.50,369.06 L159.87,369.25 L160.17,369.50 L160.35,369.75 L160.50,370.09 L160.59,370.50 L160.60,371.00 L160.52,371.50 L160.46,371.75 L160.29,372.25 L160.19,372.50 L160.00,372.90 L159.83,373.25 L159.69,373.50 L159.50,373.83 L159.25,374.23 L159.08,374.50 L158.92,374.75 L158.74,375.00 L158.50,375.34 L158.25,375.68 L158.00,376.00 L157.81,376.25 L157.60,376.50 L157.39,376.75 L157.17,377.00 L156.95,377.25 L156.71,377.50 L156.47,377.75 L156.22,378.00 L155.96,378.25 L155.69,378.50 L155.41,378.75 L155.12,379.00 L154.82,379.25 L154.50,379.50 L154.25,379.69 L154.00,379.87 L153.75,380.04 L153.43,380.25 L153.02,380.50 L152.75,380.66 L152.50,380.80 L152.10,381.00 L151.75,381.16 L151.50,381.26 L151.00,381.45 L150.75,381.52 Z" fill="none" stroke="#4a4a4a" stroke-width="0.7"/>
<path d="M150.50,380.50 L150.03,380.50 L149.75,380.45 L149.30,380.25 L149.03,380.00 L148.88,379.75 L148.75,379.29 L148.73,379.00 L148.75,378.62 L148.81,378.25 L148.95,377.75 L149.04,377.50 L149.25,377.00 L149.37,376.75 L149.50,376.50 L149.75,376.06 L149.95,375.75 L150.11,375.50 L150.29,375.25 L150.50,374.97 L150.75,374.65 L151.00,374.35 L151.25,374.07 L151.50,373.80 L151.75,373.54 L152.00,373.29 L152.25,373.06 L152.50,372.83 L152.75,372.61 L153.00,372.41 L153.25,372.21 L153.54,372.00 L153.89,371.75 L154.25,371.52 L154.50,371.36 L154.75,371.22 L155.17,371.00 L155.50,370.84 L155.75,370.74 L156.25,370.56 L156.50,370.49 L157.00,370.39 L157.50,370.36 L158.00,370.44 L158.25,370.53 L158.56,370.75 L158.76,371.00 L158.93,371.50 L158.95,372.00 L158.88,372.50 L158.75,372.95 L158.65,373.25 L158.50,373.59 L158.31,374.00 L158.18,374.25 L158.00,374.56 L157.75,374.97 L157.57,375.25 L157.40,375.50 L157.21,375.75 L157.00,376.03 L156.75,376.34 L156.50,376.64 L156.25,376.92 L156.00,377.19 L155.75,377.44 L155.50,377.69 L155.25,377.92 L155.00,378.15 L154.75,378.36 L154.50,378.56 L154.25,378.76 L153.92,379.00 L153.56,379.25 L153.25,379.45 L153.00,379.60 L152.73,379.75 L152.25,379.99 L152.00,380.10 L151.61,380.25 L151.25,380.37 L150.75,380.48 L150.50,380.50 Z" fill="none" stroke="#2e2e2e" stroke-width="0.7"/>
<path d="M151.75,379.30 L151.25,379.40 L150.75,379.39 L150.34,379.25 L150.05,379.00 L149.91,378.75 L149.82,378.25 L149.87,377.75 L150.00,377.25 L150.09,377.00 L150.25,376.64 L150.45,376.25 L150.59,376.00 L150.75,375.75 L151.00,375.38 L151.25,375.05 L151.49,374.75 L151.70,374.50 L151.93,374.25 L152.17,374.00 L152.43,373.75 L152.70,373.50 L152.99,373.25 L153.25,373.04 L153.50,372.85 L153.75,372.67 L154.01,372.50 L154.43,372.25 L154.75,372.08 L155.00,371.96 L155.50,371.76 L155.75,371.69 L156.25,371.59 L156.75,371.60 L157.18,371.75 L157.46,372.00 L157.59,372.25 L157.67,372.75 L157.61,373.25 L157.50,373.66 L157.38,374.00 L157.25,374.29 L157.01,374.75 L156.87,375.00 L156.71,375.25 L156.50,375.56 L156.25,375.90 L156.00,376.21 L155.75,376.50 L155.52,376.75 L155.28,377.00 L155.03,377.25 L154.76,377.50 L154.50,377.72 L154.25,377.93 L154.00,378.12 L153.75,378.30 L153.45,378.50 L153.04,378.75 L152.75,378.91 L152.50,379.03 L152.00,379.22 L151.75,379.30 Z" fill="none" stroke="#151515" stroke-width="0.7"/>
<path d="M152.25,378.27 L151.75,378.34 L151.31,378.25 L151.01,378.00 L150.91,377.75 L150.90,377.25 L151.00,376.83 L151.12,376.50 L151.25,376.22 L151.50,375.78 L151.69,375.50 L151.87,375.25 L152.07,375.00 L152.29,374.75 L152.52,374.50 L152.78,374.25 L153.05,374.00 L153.36,373.75 L153.70,373.50 L154.00,373.30 L154.25,373.16 L154.56,373.00 L155.00,372.82 L155.28,372.75 L155.75,372.71 L156.00,372.75 L156.36,373.00 L156.50,373.35 L156.51,373.75 L156.46,374.00 L156.30,374.50 L156.18,374.75 L156.00,375.09 L155.75,375.49 L155.56,375.75 L155.36,376.00 L155.15,376.25 L154.92,376.50 L154.67,376.75 L154.40,377.00 L154.10,377.25 L153.77,377.50 L153.50,377.68 L153.25,377.84 L152.94,378.00 L152.50,378.19 L152.25,378.27 Z" fill="#050505" stroke="#050505" stroke-width="0.7"/>
<path d="M152.75,377.26 L152.25,377.26 L152.00,377.05 L151.93,376.75 L152.00,376.36 L152.15,376.00 L152.28,375.75 L152.50,375.43 L152.75,375.12 L153.00,374.85 L153.25,374.62 L153.50,374.41 L153.75,374.23 L154.15,374.00 L154.50,373.86 L155.00,373.79 L155.35,374.00 L155.42,374.50 L155.26,375.00 L155.12,375.25 L154.97,375.50 L154.75,375.79 L154.50,376.08 L154.25,376.33 L154.00,376.56 L153.75,376.75 L153.36,377.00 L153.00,377.17 L152.75,377.26 Z" fill="#000" stroke="#000" stroke-width="0.7"/>
<ellipse cx="194.80" cy="375.10" rx="2.4" ry="1.9" transform="rotate(-35 194.80 375.10)" fill="none" stroke="#555" stroke-width="0.6"/>
<path d="M49.00,496.02 L48.50,496.12 L48.00,496.18 L47.50,496.22 L47.00,496.22 L46.50,496.19 L46.00,496.12 L45.55,496.00 L45.25,495.90 L44.94,495.75 L44.53,495.50 L44.25,495.27 L44.00,495.01 L43.81,494.75 L43.66,494.50 L43.50,494.16 L43.36,493.75 L43.27,493.25 L43.24,493.00 L43.22,492.50 L43.25,492.04 L43.28,491.75 L43.36,491.25 L43.47,490.75 L43.54,490.50 L43.69,490.00 L43.78,489.75 L43.97,489.25 L44.07,489.00 L44.25,488.60 L44.41,488.25 L44.53,488.00 L44.75,487.59 L44.93,487.25 L45.07,487.00 L45.25,486.71 L45.50,486.30 L45.69,486.00 L45.86,485.75 L46.03,485.50 L46.25,485.18 L46.50,484.84 L46.75,484.51 L46.95,484.25 L47.14,484.00 L47.35,483.75 L47.55,483.50 L47.77,483.25 L48.00,482.99 L48.25,482.71 L48.50,482.43 L48.75,482.17 L49.00,481.91 L49.25,481.66 L49.50,481.42 L49.75,481.19 L50.00,480.96 L50.25,480.73 L50.52,480.50 L50.82,480.25 L51.12,480.00 L51.44,479.75 L51.75,479.52 L52.00,479.33 L52.25,479.15 L52.50,478.98 L52.85,478.75 L53.25,478.50 L53.50,478.35 L53.75,478.20 L54.12,478.00 L54.50,477.80 L54.75,477.68 L55.14,477.50 L55.50,477.34 L55.75,477.24 L56.25,477.05 L56.50,476.97 L57.00,476.82 L57.28,476.75 L57.75,476.64 L58.25,476.56 L58.75,476.51 L59.00,476.50 L59.50,476.49 L59.75,476.51 L60.25,476.56 L60.75,476.67 L61.00,476.75 L61.50,476.96 L61.75,477.09 L62.00,477.25 L62.31,477.50 L62.57,477.75 L62.78,478.00 L63.00,478.34 L63.21,478.75 L63.31,479.00 L63.45,479.50 L63.50,479.75 L63.56,480.25 L63.58,480.75 L63.56,481.25 L63.50,481.72 L63.46,482.00 L63.36,482.50 L63.25,482.90 L63.15,483.25 L63.00,483.69 L62.89,484.00 L62.75,484.34 L62.57,484.75 L62.46,485.00 L62.25,485.41 L62.07,485.75 L61.93,486.00 L61.75,486.31 L61.50,486.72 L61.32,487.00 L61.16,487.25 L60.98,487.50 L60.75,487.83 L60.50,488.16 L60.25,488.48 L60.04,488.75 L59.83,489.00 L59.62,489.25 L59.40,489.50 L59.17,489.75 L58.94,490.00 L58.69,490.25 L58.45,490.50 L58.19,490.75 L57.93,491.00 L57.66,491.25 L57.38,491.50 L57.09,491.75 L56.78,492.00 L56.50,492.23 L56.25,492.43 L56.00,492.62 L55.75,492.80 L55.47,493.00 L55.12,493.25 L54.75,493.49 L54.50,493.66 L54.25,493.81 L53.93,494.00 L53.50,494.25 L53.25,494.39 L53.00,494.52 L52.55,494.75 L52.25,494.90 L52.00,495.01 L51.50,495.23 L51.25,495.33 L50.79,495.50 L50.50,495.61 L50.04,495.75 L49.75,495.84 L49.25,495.96 L49.00,496.02 Z" fill="none" stroke="#8a8a8a" stroke-width="0.7"/>
<path d="M49.25,494.52 L48.75,494.61 L48.25,494.66 L47.75,494.67 L47.25,494.63 L46.75,494.52 L46.50,494.44 L46.09,494.25 L45.75,494.02 L45.50,493.79 L45.27,493.50 L45.12,493.25 L45.00,492.97 L44.87,492.50 L44.81,492.00 L44.81,491.50 L44.86,491.00 L44.95,490.50 L45.02,490.25 L45.17,489.75 L45.26,489.50 L45.45,489.00 L45.56,488.75 L45.75,488.36 L45.93,488.00 L46.07,487.75 L46.25,487.45 L46.50,487.04 L46.68,486.75 L46.85,486.50 L47.03,486.25 L47.25,485.95 L47.50,485.62 L47.75,485.30 L48.00,485.00 L48.21,484.75 L48.43,484.50 L48.66,484.25 L48.90,484.00 L49.14,483.75 L49.39,483.50 L49.65,483.25 L49.92,483.00 L50.20,482.75 L50.49,482.50 L50.75,482.28 L51.00,482.07 L51.25,481.87 L51.50,481.68 L51.76,481.50 L52.11,481.25 L52.48,481.00 L52.75,480.82 L53.00,480.67 L53.29,480.50 L53.74,480.25 L54.00,480.11 L54.25,479.99 L54.75,479.76 L55.00,479.65 L55.42,479.50 L55.75,479.38 L56.20,479.25 L56.50,479.17 L57.00,479.07 L57.50,479.01 L57.75,478.99 L58.25,478.99 L58.50,479.01 L59.00,479.08 L59.50,479.24 L59.75,479.35 L60.02,479.50 L60.34,479.75 L60.59,480.00 L60.77,480.25 L61.00,480.68 L61.12,481.00 L61.22,481.50 L61.25,481.80 L61.26,482.25 L61.24,482.50 L61.18,483.00 L61.08,483.50 L61.00,483.79 L60.86,484.25 L60.75,484.54 L60.57,485.00 L60.45,485.25 L60.25,485.66 L60.07,486.00 L59.93,486.25 L59.75,486.55 L59.50,486.95 L59.30,487.25 L59.13,487.50 L58.94,487.75 L58.75,488.00 L58.50,488.32 L58.25,488.62 L58.00,488.92 L57.75,489.19 L57.50,489.46 L57.25,489.72 L57.00,489.97 L56.75,490.21 L56.50,490.45 L56.25,490.68 L56.00,490.90 L55.75,491.11 L55.50,491.31 L55.25,491.51 L54.94,491.75 L54.60,492.00 L54.25,492.24 L54.00,492.41 L53.75,492.58 L53.47,492.75 L53.05,493.00 L52.75,493.17 L52.50,493.31 L52.12,493.50 L51.75,493.68 L51.50,493.79 L51.00,494.00 L50.75,494.09 L50.28,494.25 L50.00,494.34 L49.50,494.47 L49.25,494.52 Z" fill="none" stroke="#6a6a6a" stroke-width="0.7"/>
<path d="M49.50,493.25 L49.00,493.31 L48.50,493.32 L48.00,493.26 L47.75,493.20 L47.26,493.00 L47.00,492.83 L46.75,492.60 L46.50,492.25 L46.38,492.00 L46.25,491.52 L46.21,491.25 L46.21,490.75 L46.25,490.41 L46.32,490.00 L46.46,489.50 L46.54,489.25 L46.74,488.75 L46.85,488.50 L47.00,488.21 L47.25,487.75 L47.39,487.50 L47.55,487.25 L47.75,486.94 L48.00,486.58 L48.25,486.25 L48.44,486.00 L48.65,485.75 L48.86,485.50 L49.08,485.25 L49.31,485.00 L49.55,484.75 L49.80,484.50 L50.06,484.25 L50.34,484.00 L50.62,483.75 L50.92,483.50 L51.23,483.25 L51.50,483.04 L51.75,482.86 L52.00,482.68 L52.27,482.50 L52.66,482.25 L53.00,482.05 L53.25,481.90 L53.55,481.75 L54.00,481.53 L54.25,481.41 L54.66,481.25 L55.00,481.12 L55.42,481.00 L55.75,480.91 L56.25,480.82 L56.75,480.77 L57.25,480.78 L57.75,480.85 L58.21,481.00 L58.50,481.15 L58.75,481.33 L59.00,481.59 L59.25,481.98 L59.36,482.25 L59.47,482.75 L59.49,483.25 L59.45,483.75 L59.36,484.25 L59.25,484.63 L59.13,485.00 L59.00,485.32 L58.81,485.75 L58.69,486.00 L58.50,486.34 L58.26,486.75 L58.10,487.00 L57.94,487.25 L57.75,487.51 L57.50,487.85 L57.25,488.17 L57.00,488.47 L56.75,488.75 L56.52,489.00 L56.29,489.25 L56.04,489.50 L55.78,489.75 L55.51,490.00 L55.25,490.23 L55.00,490.44 L54.75,490.65 L54.50,490.84 L54.25,491.03 L53.95,491.25 L53.58,491.50 L53.25,491.72 L53.00,491.87 L52.75,492.01 L52.32,492.25 L52.00,492.42 L51.75,492.53 L51.25,492.75 L51.00,492.85 L50.55,493.00 L50.25,493.09 L49.75,493.21 L49.50,493.25 Z" fill="none" stroke="#4a4a4a" stroke-width="0.7"/>
<path d="M50.25,492.05 L49.75,492.12 L49.25,492.13 L48.75,492.05 L48.50,491.97 L48.11,491.75 L47.85,491.50 L47.68,491.25 L47.50,490.75 L47.47,490.50 L47.47,490.00 L47.50,489.75 L47.61,489.25 L47.75,488.84 L47.88,488.50 L48.00,488.25 L48.25,487.77 L48.40,487.50 L48.56,487.25 L48.75,486.97 L49.00,486.63 L49.25,486.30 L49.50,486.00 L49.72,485.75 L49.95,485.50 L50.20,485.25 L50.46,485.00 L50.73,484.75 L51.00,484.51 L51.25,484.30 L51.50,484.10 L51.75,483.91 L52.00,483.74 L52.35,483.50 L52.75,483.25 L53.00,483.10 L53.25,482.97 L53.70,482.75 L54.00,482.62 L54.31,482.50 L54.75,482.35 L55.16,482.25 L55.50,482.19 L56.00,482.14 L56.50,482.17 L56.85,482.25 L57.25,482.42 L57.50,482.60 L57.75,482.88 L57.94,483.25 L58.02,483.50 L58.07,484.00 L58.04,484.50 L57.99,484.75 L57.86,485.25 L57.75,485.55 L57.56,486.00 L57.44,486.25 L57.25,486.59 L57.00,487.00 L56.84,487.25 L56.66,487.50 L56.48,487.75 L56.25,488.04 L56.00,488.33 L55.75,488.61 L55.50,488.88 L55.25,489.13 L55.00,489.37 L54.75,489.59 L54.50,489.81 L54.25,490.01 L53.94,490.25 L53.60,490.50 L53.25,490.73 L53.00,490.90 L52.75,491.05 L52.38,491.25 L52.00,491.45 L51.75,491.56 L51.28,491.75 L51.00,491.85 L50.50,491.99 L50.25,492.05 Z" fill="none" stroke="#2e2e2e" stroke-width="0.7"/>
<path d="M50.50,491.02 L50.00,491.04 L49.70,491.00 L49.25,490.84 L49.00,490.65 L48.75,490.29 L48.65,490.00 L48.62,489.50 L48.69,489.00 L48.75,488.75 L48.94,488.25 L49.05,488.00 L49.25,487.63 L49.48,487.25 L49.65,487.00 L49.84,486.75 L50.03,486.50 L50.25,486.24 L50.50,485.97 L50.75,485.71 L51.00,485.47 L51.25,485.25 L51.54,485.00 L51.86,484.75 L52.21,484.50 L52.50,484.31 L52.75,484.16 L53.04,484.00 L53.50,483.77 L53.75,483.66 L54.22,483.50 L54.50,483.42 L55.00,483.34 L55.50,483.33 L56.00,483.44 L56.25,483.57 L56.50,483.78 L56.75,484.23 L56.81,484.50 L56.82,485.00 L56.75,485.39 L56.65,485.75 L56.50,486.14 L56.33,486.50 L56.20,486.75 L56.00,487.07 L55.75,487.44 L55.51,487.75 L55.31,488.00 L55.09,488.25 L54.86,488.50 L54.61,488.75 L54.34,489.00 L54.05,489.25 L53.75,489.49 L53.50,489.68 L53.25,489.86 L53.00,490.02 L52.62,490.25 L52.25,490.45 L52.00,490.57 L51.56,490.75 L51.25,490.86 L50.75,490.98 L50.50,491.02 Z" fill="none" stroke="#151515" stroke-width="0.7"/>
<path d="M51.75,489.82 L51.25,489.95 L50.75,489.99 L50.25,489.87 L50.00,489.69 L49.77,489.25 L49.74,489.00 L49.75,488.74 L49.86,488.25 L50.00,487.91 L50.21,487.50 L50.37,487.25 L50.54,487.00 L50.75,486.73 L51.00,486.44 L51.25,486.17 L51.50,485.94 L51.75,485.72 L52.02,485.50 L52.37,485.25 L52.75,485.01 L53.00,484.88 L53.26,484.75 L53.75,484.56 L54.00,484.50 L54.50,484.43 L55.00,484.49 L55.25,484.61 L55.50,484.87 L55.64,485.25 L55.63,485.75 L55.50,486.25 L55.40,486.50 L55.25,486.80 L55.00,487.21 L54.80,487.50 L54.60,487.75 L54.38,488.00 L54.14,488.25 L53.88,488.50 L53.59,488.75 L53.26,489.00 L53.00,489.18 L52.75,489.34 L52.47,489.50 L52.00,489.72 L51.75,489.82 Z" fill="#050505" stroke="#050505" stroke-width="0.7"/>
<path d="M52.25,488.79 L51.75,488.93 L51.25,488.91 L50.98,488.75 L50.84,488.25 L50.96,487.75 L51.08,487.50 L51.25,487.22 L51.50,486.89 L51.75,486.61 L52.00,486.38 L52.25,486.17 L52.50,485.99 L52.92,485.75 L53.25,485.61 L53.69,485.50 L54.00,485.50 L54.25,485.59 L54.50,485.93 L54.52,486.25 L54.47,486.50 L54.26,487.00 L54.10,487.25 L53.92,487.50 L53.70,487.75 L53.45,488.00 L53.15,488.25 L52.80,488.50 L52.50,488.67 L52.25,488.79 Z" fill="#000" stroke="#000" stroke-width="0.7"/>
<ellipse cx="58.90" cy="461.40" rx="9.8" ry="5.8" transform="rotate(-55 58.90 461.40)" fill="none" stroke="#888" stroke-width="0.6"/>
<ellipse cx="59.50" cy="460.90" rx="6.8" ry="4.0" transform="rotate(-55 59.50 460.90)" fill="none" stroke="#777" stroke-width="0.6"/>
<ellipse cx="60.10" cy="460.50" rx="3.8" ry="2.4" transform="rotate(-55 60.10 460.50)" fill="none" stroke="#666" stroke-width="0.6"/>
<ellipse cx="74.60" cy="469.80" rx="5.8" ry="3.6" transform="rotate(-25 74.60 469.80)" fill="none" stroke="#777" stroke-width="0.6"/>
<ellipse cx="74.80" cy="469.60" rx="3.0" ry="1.7" transform="rotate(-25 74.80 469.60)" fill="none" stroke="#666" stroke-width="0.6"/>
<path d="M89.3,466.8 C89.5,462.8 95.5,462.4 99.5,463.6 C103,465 101,471 98,476.6 C96.6,478.6 93.2,478.2 91.8,475.6 C90.2,472.8 89.2,469.6 89.3,466.8 Z" fill="none" stroke="#777" stroke-width="0.6"/>
<path d="M92.2,468 C92.6,465.6 96.2,465.6 97.8,466.6 C99.2,468 97.8,471.6 96.4,473.8 C95.2,475 93.6,474 93.0,472.4 C92.4,470.8 92.0,469.2 92.2,468 Z" fill="none" stroke="#666" stroke-width="0.6"/>
<path d="M157.25,493.76 L156.75,493.83 L156.25,493.88 L155.75,493.90 L155.25,493.89 L154.75,493.86 L154.25,493.79 L154.00,493.73 L153.50,493.60 L153.25,493.50 L152.75,493.26 L152.50,493.10 L152.25,492.90 L152.00,492.65 L151.75,492.32 L151.57,492.00 L151.46,491.75 L151.32,491.25 L151.25,490.75 L151.25,490.50 L151.25,490.25 L151.30,489.75 L151.39,489.25 L151.50,488.84 L151.60,488.50 L151.75,488.10 L151.88,487.75 L152.00,487.50 L152.24,487.00 L152.36,486.75 L152.51,486.50 L152.75,486.08 L152.95,485.75 L153.11,485.50 L153.27,485.25 L153.50,484.92 L153.75,484.57 L153.99,484.25 L154.18,484.00 L154.37,483.75 L154.58,483.50 L154.78,483.25 L155.00,482.99 L155.25,482.70 L155.50,482.41 L155.75,482.13 L156.00,481.85 L156.25,481.58 L156.50,481.31 L156.75,481.04 L157.00,480.77 L157.25,480.50 L157.47,480.25 L157.69,480.00 L157.91,479.75 L158.12,479.50 L158.31,479.25 L158.50,478.99 L158.75,478.53 L158.83,478.25 L158.75,477.79 L158.52,477.50 L158.25,477.27 L158.00,477.08 L157.75,476.89 L157.50,476.68 L157.25,476.46 L157.00,476.20 L156.75,475.90 L156.50,475.54 L156.33,475.25 L156.21,475.00 L156.00,474.50 L155.92,474.25 L155.80,473.75 L155.75,473.47 L155.69,473.00 L155.65,472.50 L155.65,472.00 L155.67,471.50 L155.71,471.00 L155.75,470.72 L155.82,470.25 L155.91,469.75 L156.00,469.39 L156.09,469.00 L156.24,468.50 L156.31,468.25 L156.48,467.75 L156.57,467.50 L156.75,467.03 L156.86,466.75 L157.00,466.43 L157.19,466.00 L157.31,465.75 L157.50,465.37 L157.69,465.00 L157.82,464.75 L158.00,464.44 L158.25,464.02 L158.41,463.75 L158.57,463.50 L158.75,463.22 L159.00,462.85 L159.25,462.50 L159.43,462.25 L159.62,462.00 L159.82,461.75 L160.02,461.50 L160.25,461.23 L160.50,460.94 L160.75,460.66 L161.00,460.39 L161.25,460.13 L161.50,459.89 L161.75,459.65 L162.00,459.42 L162.25,459.21 L162.50,459.00 L162.81,458.75 L163.15,458.50 L163.50,458.25 L163.75,458.09 L164.00,457.93 L164.31,457.75 L164.75,457.52 L165.00,457.40 L165.35,457.25 L165.75,457.10 L166.07,457.00 L166.50,456.89 L167.00,456.81 L167.50,456.78 L168.00,456.80 L168.50,456.90 L168.81,457.00 L169.25,457.20 L169.50,457.36 L169.75,457.56 L170.00,457.80 L170.25,458.11 L170.50,458.50 L170.63,458.75 L170.75,459.04 L170.90,459.50 L171.00,459.90 L171.07,460.25 L171.13,460.75 L171.15,461.25 L171.15,461.75 L171.13,462.25 L171.08,462.75 L171.01,463.25 L170.97,463.50 L170.87,464.00 L170.75,464.50 L170.69,464.75 L170.55,465.25 L170.47,465.50 L170.31,466.00 L170.22,466.25 L170.04,466.75 L169.94,467.00 L169.75,467.46 L169.63,467.75 L169.50,468.03 L169.28,468.50 L169.17,468.75 L169.00,469.08 L168.78,469.50 L168.66,469.75 L168.50,470.04 L168.25,470.49 L168.11,470.75 L167.97,471.00 L167.75,471.41 L167.57,471.75 L167.44,472.00 L167.25,472.39 L167.11,472.75 L167.05,473.25 L167.42,473.50 L167.67,473.50 L168.00,473.45 L168.50,473.30 L168.75,473.21 L169.21,473.00 L169.50,472.84 L169.75,472.69 L170.04,472.50 L170.36,472.25 L170.65,472.00 L170.92,471.75 L171.17,471.50 L171.40,471.25 L171.62,471.00 L171.84,470.75 L172.05,470.50 L172.26,470.25 L172.50,469.95 L172.75,469.64 L173.00,469.33 L173.25,469.02 L173.47,468.75 L173.67,468.50 L173.87,468.25 L174.08,468.00 L174.29,467.75 L174.51,467.50 L174.75,467.21 L175.00,466.93 L175.25,466.64 L175.50,466.37 L175.75,466.10 L176.00,465.83 L176.25,465.57 L176.50,465.32 L176.75,465.07 L177.00,464.83 L177.25,464.59 L177.50,464.36 L177.75,464.13 L178.00,463.91 L178.25,463.70 L178.50,463.49 L178.79,463.25 L179.11,463.00 L179.44,462.75 L179.75,462.52 L180.00,462.34 L180.25,462.17 L180.51,462.00 L180.91,461.75 L181.25,461.54 L181.50,461.40 L181.79,461.25 L182.25,461.02 L182.50,460.90 L182.86,460.75 L183.25,460.59 L183.54,460.50 L184.00,460.36 L184.50,460.25 L184.75,460.21 L185.25,460.16 L185.75,460.17 L186.25,460.24 L186.50,460.30 L186.98,460.50 L187.25,460.66 L187.50,460.85 L187.75,461.10 L188.00,461.43 L188.18,461.75 L188.29,462.00 L188.46,462.50 L188.52,462.75 L188.62,463.25 L188.68,463.75 L188.71,464.25 L188.75,464.75 L188.76,465.00 L188.81,465.50 L188.90,466.00 L189.00,466.37 L189.18,466.75 L189.38,467.00 L189.68,467.25 L190.00,467.42 L190.25,467.51 L190.75,467.64 L191.25,467.72 L191.59,467.75 L192.00,467.78 L192.50,467.78 L193.00,467.76 L193.25,467.74 L193.75,467.66 L194.25,467.54 L194.50,467.47 L195.00,467.28 L195.25,467.17 L195.60,467.00 L196.00,466.80 L196.25,466.66 L196.55,466.50 L197.00,466.26 L197.25,466.13 L197.53,466.00 L198.00,465.80 L198.25,465.71 L198.75,465.57 L199.23,465.50 L199.50,465.48 L199.91,465.50 L200.25,465.55 L200.75,465.69 L201.00,465.79 L201.40,466.00 L201.75,466.23 L202.00,466.43 L202.25,466.66 L202.50,466.93 L202.75,467.23 L202.95,467.50 L203.12,467.75 L203.27,468.00 L203.50,468.43 L203.66,468.75 L203.77,469.00 L203.96,469.50 L204.05,469.75 L204.20,470.25 L204.27,470.50 L204.39,471.00 L204.49,471.50 L204.54,471.75 L204.61,472.25 L204.66,472.75 L204.70,473.25 L204.72,473.75 L204.72,474.25 L204.71,474.75 L204.69,475.25 L204.65,475.75 L204.59,476.25 L204.51,476.75 L204.47,477.00 L204.37,477.50 L204.25,477.99 L204.18,478.25 L204.03,478.75 L203.95,479.00 L203.76,479.50 L203.66,479.75 L203.50,480.10 L203.30,480.50 L203.16,480.75 L203.00,481.03 L202.75,481.41 L202.50,481.75 L202.29,482.00 L202.06,482.25 L201.80,482.50 L201.50,482.75 L201.25,482.93 L201.00,483.09 L200.68,483.25 L200.25,483.41 L199.84,483.50 L199.50,483.53 L199.00,483.51 L198.75,483.47 L198.25,483.31 L198.00,483.20 L197.66,483.00 L197.31,482.75 L197.02,482.50 L196.78,482.25 L196.56,482.00 L196.36,481.75 L196.18,481.50 L196.00,481.21 L195.75,480.78 L195.60,480.50 L195.48,480.25 L195.26,479.75 L195.16,479.50 L195.00,479.09 L194.87,478.75 L194.75,478.41 L194.60,478.00 L194.50,477.74 L194.30,477.25 L194.19,477.00 L194.00,476.64 L193.76,476.25 L193.56,476.00 L193.32,475.75 L193.00,475.50 L192.75,475.36 L192.50,475.25 L192.00,475.11 L191.50,475.03 L191.19,475.00 L190.75,474.97 L190.25,474.95 L189.75,474.93 L189.25,474.89 L188.75,474.84 L188.25,474.78 L188.00,474.75 L187.50,474.67 L187.00,474.60 L186.50,474.54 L186.00,474.53 L185.50,474.57 L185.00,474.69 L184.75,474.78 L184.29,475.00 L184.00,475.17 L183.75,475.33 L183.50,475.51 L183.19,475.75 L182.89,476.00 L182.59,476.25 L182.31,476.50 L182.04,476.75 L181.77,477.00 L181.50,477.25 L181.25,477.49 L181.00,477.72 L180.75,477.96 L180.50,478.20 L180.25,478.43 L180.00,478.66 L179.75,478.89 L179.50,479.12 L179.25,479.34 L179.00,479.56 L178.75,479.78 L178.49,480.00 L178.20,480.25 L177.91,480.50 L177.61,480.75 L177.31,481.00 L177.01,481.25 L176.75,481.46 L176.50,481.67 L176.25,481.88 L176.00,482.08 L175.75,482.29 L175.50,482.50 L175.20,482.75 L174.91,483.00 L174.62,483.25 L174.34,483.50 L174.05,483.75 L173.77,484.00 L173.50,484.24 L173.25,484.47 L173.00,484.70 L172.75,484.93 L172.50,485.15 L172.25,485.38 L172.00,485.60 L171.75,485.83 L171.50,486.05 L171.25,486.27 L170.98,486.50 L170.69,486.75 L170.40,487.00 L170.10,487.25 L169.79,487.50 L169.50,487.73 L169.25,487.93 L169.00,488.13 L168.75,488.32 L168.50,488.50 L168.17,488.75 L167.82,489.00 L167.50,489.23 L167.25,489.40 L167.00,489.57 L166.73,489.75 L166.35,490.00 L166.00,490.22 L165.75,490.38 L165.50,490.53 L165.12,490.75 L164.75,490.97 L164.50,491.11 L164.23,491.25 L163.76,491.50 L163.50,491.64 L163.25,491.76 L162.75,492.00 L162.50,492.12 L162.19,492.25 L161.75,492.44 L161.50,492.55 L161.00,492.74 L160.75,492.84 L160.28,493.00 L160.00,493.10 L159.50,493.25 L159.25,493.33 L158.75,493.46 L158.50,493.52 L158.00,493.64 L157.50,493.73 L157.25,493.76 Z" fill="none" stroke="#8a8a8a" stroke-width="0.7"/>
<path d="M161.25,474.52 L160.75,474.61 L160.25,474.63 L159.75,474.57 L159.47,474.50 L159.00,474.31 L158.75,474.15 L158.50,473.95 L158.25,473.68 L158.00,473.33 L157.83,473.00 L157.73,472.75 L157.58,472.25 L157.50,471.84 L157.46,471.50 L157.43,471.00 L157.44,470.50 L157.49,470.00 L157.52,469.75 L157.60,469.25 L157.71,468.75 L157.78,468.50 L157.92,468.00 L158.00,467.75 L158.17,467.25 L158.27,467.00 L158.48,466.50 L158.59,466.25 L158.75,465.92 L158.96,465.50 L159.09,465.25 L159.25,464.97 L159.50,464.55 L159.69,464.25 L159.85,464.00 L160.02,463.75 L160.25,463.43 L160.50,463.10 L160.75,462.78 L160.98,462.50 L161.20,462.25 L161.43,462.00 L161.67,461.75 L161.92,461.50 L162.18,461.25 L162.46,461.00 L162.75,460.76 L163.00,460.56 L163.25,460.38 L163.50,460.20 L163.82,460.00 L164.25,459.75 L164.50,459.62 L164.78,459.50 L165.25,459.32 L165.50,459.24 L166.00,459.13 L166.50,459.08 L167.00,459.11 L167.50,459.23 L167.75,459.33 L168.04,459.50 L168.36,459.75 L168.59,460.00 L168.77,460.25 L169.00,460.69 L169.12,461.00 L169.25,461.49 L169.30,461.75 L169.35,462.25 L169.37,462.75 L169.35,463.25 L169.30,463.75 L169.25,464.05 L169.17,464.50 L169.06,465.00 L168.99,465.25 L168.84,465.75 L168.75,466.02 L168.58,466.50 L168.48,466.75 L168.27,467.25 L168.16,467.50 L168.00,467.82 L167.78,468.25 L167.65,468.50 L167.50,468.76 L167.25,469.19 L167.06,469.50 L166.89,469.75 L166.72,470.00 L166.50,470.32 L166.25,470.66 L166.00,470.98 L165.78,471.25 L165.57,471.50 L165.34,471.75 L165.11,472.00 L164.87,472.25 L164.61,472.50 L164.34,472.75 L164.05,473.00 L163.75,473.24 L163.50,473.43 L163.25,473.60 L163.00,473.76 L162.58,474.00 L162.25,474.17 L162.00,474.28 L161.50,474.45 L161.25,474.52 Z" fill="none" stroke="#6a6a6a" stroke-width="0.7"/>
<path d="M158.50,492.01 L158.00,492.10 L157.50,492.15 L157.00,492.18 L156.50,492.18 L156.00,492.14 L155.50,492.05 L155.25,491.98 L154.75,491.80 L154.50,491.67 L154.25,491.50 L153.97,491.25 L153.75,490.99 L153.50,490.55 L153.39,490.25 L153.30,489.75 L153.29,489.25 L153.34,488.75 L153.45,488.25 L153.52,488.00 L153.69,487.50 L153.80,487.25 L154.00,486.81 L154.15,486.50 L154.29,486.25 L154.50,485.89 L154.74,485.50 L154.90,485.25 L155.08,485.00 L155.26,484.75 L155.50,484.43 L155.75,484.11 L156.00,483.80 L156.25,483.51 L156.48,483.25 L156.70,483.00 L156.93,482.75 L157.17,482.50 L157.42,482.25 L157.67,482.00 L157.93,481.75 L158.19,481.50 L158.47,481.25 L158.74,481.00 L159.00,480.77 L159.25,480.56 L159.50,480.35 L159.75,480.14 L160.00,479.94 L160.25,479.75 L160.57,479.50 L160.90,479.25 L161.25,479.00 L161.50,478.82 L161.75,478.65 L162.00,478.49 L162.37,478.25 L162.75,478.02 L163.00,477.86 L163.25,477.72 L163.66,477.50 L164.00,477.32 L164.25,477.19 L164.65,477.00 L165.00,476.83 L165.25,476.73 L165.75,476.51 L166.00,476.40 L166.40,476.25 L166.75,476.11 L167.06,476.00 L167.50,475.84 L167.76,475.75 L168.25,475.57 L168.50,475.49 L169.00,475.30 L169.25,475.20 L169.71,475.00 L170.00,474.84 L170.25,474.70 L170.54,474.50 L170.85,474.25 L171.11,474.00 L171.34,473.75 L171.56,473.50 L171.76,473.25 L172.00,472.93 L172.25,472.57 L172.47,472.25 L172.64,472.00 L172.81,471.75 L173.00,471.47 L173.25,471.10 L173.50,470.75 L173.67,470.50 L173.84,470.25 L174.03,470.00 L174.25,469.70 L174.50,469.36 L174.75,469.04 L174.98,468.75 L175.18,468.50 L175.39,468.25 L175.60,468.00 L175.81,467.75 L176.04,467.50 L176.26,467.25 L176.50,467.00 L176.75,466.73 L177.00,466.48 L177.25,466.23 L177.50,465.99 L177.76,465.75 L178.03,465.50 L178.32,465.25 L178.61,465.00 L178.92,464.75 L179.24,464.50 L179.50,464.31 L179.75,464.13 L180.00,463.96 L180.32,463.75 L180.73,463.50 L181.00,463.34 L181.25,463.21 L181.68,463.00 L182.00,462.85 L182.27,462.75 L182.75,462.58 L183.08,462.50 L183.50,462.41 L184.00,462.37 L184.50,462.39 L184.97,462.50 L185.25,462.61 L185.50,462.76 L185.79,463.00 L186.00,463.25 L186.25,463.67 L186.38,464.00 L186.50,464.49 L186.54,464.75 L186.59,465.25 L186.59,465.75 L186.56,466.25 L186.50,466.75 L186.47,467.00 L186.39,467.50 L186.29,468.00 L186.23,468.25 L186.10,468.75 L186.00,469.05 L185.85,469.50 L185.75,469.75 L185.53,470.25 L185.41,470.50 L185.25,470.77 L185.00,471.19 L184.80,471.50 L184.63,471.75 L184.45,472.00 L184.25,472.26 L184.00,472.58 L183.75,472.90 L183.50,473.20 L183.25,473.50 L183.04,473.75 L182.82,474.00 L182.60,474.25 L182.38,474.50 L182.16,474.75 L181.93,475.00 L181.70,475.25 L181.46,475.50 L181.23,475.75 L180.99,476.00 L180.74,476.25 L180.49,476.50 L180.24,476.75 L179.98,477.00 L179.72,477.25 L179.45,477.50 L179.17,477.75 L178.88,478.00 L178.59,478.25 L178.29,478.50 L178.00,478.74 L177.75,478.94 L177.50,479.14 L177.25,479.33 L177.00,479.52 L176.69,479.75 L176.35,480.00 L176.01,480.25 L175.75,480.44 L175.50,480.62 L175.25,480.81 L174.99,481.00 L174.67,481.25 L174.36,481.50 L174.06,481.75 L173.77,482.00 L173.50,482.24 L173.25,482.47 L173.00,482.71 L172.75,482.95 L172.50,483.20 L172.25,483.45 L172.00,483.70 L171.75,483.95 L171.50,484.20 L171.25,484.45 L171.00,484.69 L170.75,484.94 L170.50,485.18 L170.25,485.41 L170.00,485.64 L169.75,485.87 L169.50,486.09 L169.25,486.31 L169.00,486.52 L168.72,486.75 L168.42,487.00 L168.10,487.25 L167.78,487.50 L167.50,487.71 L167.25,487.90 L167.00,488.08 L166.75,488.25 L166.39,488.50 L166.01,488.75 L165.75,488.92 L165.50,489.08 L165.22,489.25 L164.80,489.50 L164.50,489.68 L164.25,489.82 L163.91,490.00 L163.50,490.22 L163.25,490.34 L162.92,490.50 L162.50,490.70 L162.25,490.81 L161.80,491.00 L161.50,491.13 L161.17,491.25 L160.75,491.41 L160.46,491.50 L160.00,491.65 L159.63,491.75 L159.25,491.85 L158.75,491.96 L158.50,492.01 Z" fill="none" stroke="#6a6a6a" stroke-width="0.7"/>
<path d="M199.75,478.51 L199.25,478.51 L199.00,478.44 L198.65,478.25 L198.35,478.00 L198.12,477.75 L197.94,477.50 L197.75,477.19 L197.53,476.75 L197.43,476.50 L197.25,476.00 L197.17,475.75 L197.03,475.25 L196.97,475.00 L196.87,474.50 L196.79,474.00 L196.75,473.63 L196.73,473.25 L196.74,472.75 L196.76,472.50 L196.87,472.00 L197.00,471.67 L197.23,471.25 L197.42,471.00 L197.66,470.75 L197.96,470.50 L198.25,470.32 L198.50,470.20 L199.00,470.07 L199.50,470.07 L200.00,470.21 L200.25,470.34 L200.50,470.52 L200.75,470.75 L201.00,471.06 L201.25,471.46 L201.39,471.75 L201.50,472.02 L201.66,472.50 L201.75,472.90 L201.81,473.25 L201.87,473.75 L201.89,474.25 L201.87,474.75 L201.82,475.25 L201.75,475.70 L201.68,476.00 L201.53,476.50 L201.44,476.75 L201.25,477.16 L201.05,477.50 L200.87,477.75 L200.65,478.00 L200.34,478.25 L200.00,478.44 L199.75,478.51 Z" fill="none" stroke="#6a6a6a" stroke-width="0.7"/>
<path d="M162.25,471.80 L161.75,471.94 L161.25,471.98 L160.75,471.91 L160.38,471.75 L160.06,471.50 L159.85,471.25 L159.70,471.00 L159.52,470.50 L159.46,470.25 L159.41,469.75 L159.42,469.25 L159.47,468.75 L159.51,468.50 L159.62,468.00 L159.75,467.55 L159.85,467.25 L160.00,466.86 L160.15,466.50 L160.27,466.25 L160.50,465.80 L160.67,465.50 L160.82,465.25 L161.00,464.97 L161.25,464.60 L161.50,464.27 L161.72,464.00 L161.93,463.75 L162.16,463.50 L162.41,463.25 L162.68,463.00 L162.98,462.75 L163.25,462.54 L163.50,462.36 L163.75,462.21 L164.14,462.00 L164.50,461.84 L164.78,461.75 L165.25,461.65 L165.75,461.65 L166.18,461.75 L166.50,461.91 L166.75,462.11 L167.00,462.43 L167.16,462.75 L167.25,463.00 L167.36,463.50 L167.39,464.00 L167.37,464.50 L167.31,465.00 L167.25,465.30 L167.14,465.75 L167.00,466.21 L166.90,466.50 L166.75,466.87 L166.58,467.25 L166.46,467.50 L166.25,467.90 L166.05,468.25 L165.90,468.50 L165.73,468.75 L165.50,469.08 L165.25,469.41 L165.00,469.72 L164.75,470.00 L164.51,470.25 L164.25,470.50 L164.00,470.73 L163.75,470.93 L163.50,471.12 L163.25,471.29 L162.90,471.50 L162.50,471.70 L162.25,471.80 Z" fill="none" stroke="#4a4a4a" stroke-width="0.7"/>
<path d="M159.50,490.52 L159.00,490.61 L158.50,490.67 L158.00,490.69 L157.50,490.67 L157.00,490.60 L156.62,490.50 L156.25,490.35 L156.00,490.20 L155.74,490.00 L155.50,489.73 L155.25,489.25 L155.18,489.00 L155.13,488.50 L155.16,488.00 L155.25,487.57 L155.34,487.25 L155.50,486.81 L155.63,486.50 L155.75,486.25 L156.00,485.80 L156.17,485.50 L156.33,485.25 L156.51,485.00 L156.75,484.66 L157.00,484.33 L157.25,484.02 L157.48,483.75 L157.70,483.50 L157.93,483.25 L158.16,483.00 L158.41,482.75 L158.66,482.50 L158.93,482.25 L159.20,482.00 L159.48,481.75 L159.75,481.52 L160.00,481.31 L160.25,481.11 L160.50,480.91 L160.75,480.72 L161.05,480.50 L161.39,480.25 L161.75,480.00 L162.00,479.83 L162.25,479.67 L162.53,479.50 L162.94,479.25 L163.25,479.07 L163.50,478.93 L163.84,478.75 L164.25,478.54 L164.50,478.41 L164.86,478.25 L165.25,478.07 L165.50,477.97 L166.00,477.77 L166.25,477.67 L166.75,477.50 L167.00,477.42 L167.50,477.27 L167.75,477.20 L168.25,477.07 L168.58,477.00 L169.00,476.90 L169.50,476.79 L169.75,476.73 L170.25,476.58 L170.50,476.49 L170.99,476.25 L171.25,476.07 L171.50,475.86 L171.75,475.60 L172.00,475.28 L172.19,475.00 L172.35,474.75 L172.50,474.50 L172.75,474.06 L172.92,473.75 L173.05,473.50 L173.25,473.15 L173.47,472.75 L173.61,472.50 L173.76,472.25 L174.00,471.84 L174.21,471.50 L174.37,471.25 L174.53,471.00 L174.75,470.67 L175.00,470.32 L175.23,470.00 L175.41,469.75 L175.60,469.50 L175.80,469.25 L176.00,469.00 L176.25,468.71 L176.50,468.42 L176.75,468.14 L177.00,467.87 L177.25,467.61 L177.50,467.36 L177.75,467.11 L178.00,466.88 L178.25,466.66 L178.50,466.44 L178.75,466.24 L179.05,466.00 L179.39,465.75 L179.74,465.50 L180.00,465.33 L180.25,465.18 L180.56,465.00 L181.00,464.78 L181.25,464.66 L181.67,464.50 L182.00,464.39 L182.50,464.29 L183.00,464.25 L183.50,464.31 L183.97,464.50 L184.25,464.71 L184.50,465.00 L184.64,465.25 L184.75,465.54 L184.86,466.00 L184.90,466.50 L184.88,467.00 L184.82,467.50 L184.75,467.87 L184.67,468.25 L184.52,468.75 L184.44,469.00 L184.25,469.50 L184.15,469.75 L184.00,470.08 L183.80,470.50 L183.67,470.75 L183.50,471.06 L183.25,471.48 L183.09,471.75 L182.93,472.00 L182.75,472.26 L182.50,472.63 L182.25,472.97 L182.04,473.25 L181.85,473.50 L181.65,473.75 L181.44,474.00 L181.23,474.25 L181.00,474.51 L180.75,474.79 L180.50,475.06 L180.25,475.33 L180.00,475.58 L179.75,475.83 L179.50,476.07 L179.25,476.30 L179.00,476.52 L178.74,476.75 L178.44,477.00 L178.13,477.25 L177.81,477.50 L177.50,477.73 L177.25,477.91 L177.00,478.08 L176.73,478.25 L176.34,478.50 L176.00,478.71 L175.75,478.85 L175.49,479.00 L175.05,479.25 L174.75,479.42 L174.50,479.57 L174.20,479.75 L173.82,480.00 L173.50,480.24 L173.25,480.44 L173.00,480.67 L172.75,480.92 L172.50,481.19 L172.25,481.47 L172.01,481.75 L171.81,482.00 L171.60,482.25 L171.39,482.50 L171.19,482.75 L170.98,483.00 L170.75,483.26 L170.50,483.55 L170.25,483.83 L170.00,484.10 L169.75,484.36 L169.50,484.62 L169.25,484.87 L169.00,485.11 L168.75,485.35 L168.50,485.58 L168.25,485.80 L168.00,486.01 L167.72,486.25 L167.41,486.50 L167.10,486.75 L166.77,487.00 L166.50,487.20 L166.25,487.38 L166.00,487.55 L165.70,487.75 L165.32,488.00 L165.00,488.20 L164.75,488.36 L164.50,488.50 L164.06,488.75 L163.75,488.92 L163.50,489.05 L163.10,489.25 L162.75,489.42 L162.50,489.53 L162.00,489.74 L161.75,489.85 L161.33,490.00 L161.00,490.12 L160.58,490.25 L160.25,490.35 L159.75,490.47 L159.50,490.52 Z" fill="none" stroke="#4a4a4a" stroke-width="0.7"/>
<path d="M163.00,468.08 L162.61,468.00 L162.44,467.75 L162.43,467.25 L162.50,466.95 L162.71,466.50 L162.87,466.25 L163.07,466.00 L163.35,465.75 L163.75,465.54 L164.25,465.65 L164.38,466.00 L164.34,466.50 L164.25,466.79 L164.01,467.25 L163.82,467.50 L163.58,467.75 L163.25,467.99 L163.00,468.08 Z" fill="none" stroke="#2e2e2e" stroke-width="0.7"/>
<path d="M175.25,477.53 L174.75,477.63 L174.25,477.64 L173.75,477.50 L173.50,477.28 L173.39,477.00 L173.35,476.50 L173.41,476.00 L173.50,475.58 L173.58,475.25 L173.73,474.75 L173.81,474.50 L174.00,474.00 L174.09,473.75 L174.25,473.39 L174.43,473.00 L174.55,472.75 L174.75,472.36 L174.95,472.00 L175.09,471.75 L175.25,471.49 L175.50,471.09 L175.73,470.75 L175.90,470.50 L176.08,470.25 L176.27,470.00 L176.50,469.71 L176.75,469.41 L177.00,469.12 L177.25,468.84 L177.50,468.58 L177.75,468.32 L178.00,468.08 L178.25,467.85 L178.50,467.64 L178.75,467.43 L179.00,467.23 L179.32,467.00 L179.69,466.75 L180.00,466.56 L180.25,466.43 L180.62,466.25 L181.00,466.10 L181.35,466.00 L181.75,465.93 L182.25,465.94 L182.51,466.00 L182.94,466.25 L183.15,466.50 L183.28,466.75 L183.42,467.25 L183.44,467.75 L183.40,468.25 L183.31,468.75 L183.24,469.00 L183.09,469.50 L183.00,469.75 L182.79,470.25 L182.68,470.50 L182.50,470.85 L182.29,471.25 L182.14,471.50 L181.99,471.75 L181.75,472.12 L181.50,472.49 L181.32,472.75 L181.13,473.00 L180.94,473.25 L180.73,473.50 L180.50,473.78 L180.25,474.06 L180.00,474.34 L179.75,474.60 L179.50,474.85 L179.25,475.09 L179.00,475.32 L178.75,475.54 L178.50,475.75 L178.18,476.00 L177.84,476.25 L177.50,476.49 L177.25,476.65 L177.00,476.80 L176.62,477.00 L176.25,477.18 L176.00,477.29 L175.50,477.47 L175.25,477.53 Z" fill="none" stroke="#2e2e2e" stroke-width="0.7"/>
<path d="M160.00,489.29 L159.50,489.35 L159.00,489.37 L158.50,489.34 L158.07,489.25 L157.75,489.13 L157.50,489.00 L157.20,488.75 L157.00,488.49 L156.82,488.00 L156.78,487.50 L156.85,487.00 L156.99,486.50 L157.08,486.25 L157.25,485.89 L157.46,485.50 L157.60,485.25 L157.77,485.00 L158.00,484.66 L158.25,484.33 L158.50,484.02 L158.73,483.75 L158.96,483.50 L159.19,483.25 L159.44,483.00 L159.70,482.75 L159.97,482.50 L160.25,482.25 L160.50,482.04 L160.75,481.83 L161.00,481.63 L161.25,481.44 L161.51,481.25 L161.86,481.00 L162.23,480.75 L162.50,480.57 L162.75,480.42 L163.03,480.25 L163.47,480.00 L163.75,479.84 L164.00,479.72 L164.45,479.50 L164.75,479.36 L165.01,479.25 L165.50,479.05 L165.75,478.96 L166.25,478.79 L166.50,478.72 L167.00,478.59 L167.43,478.50 L167.75,478.44 L168.25,478.39 L168.75,478.36 L169.25,478.37 L169.75,478.43 L170.10,478.50 L170.50,478.63 L170.75,478.76 L171.01,479.00 L171.17,479.50 L171.12,480.00 L171.00,480.44 L170.89,480.75 L170.75,481.07 L170.54,481.50 L170.41,481.75 L170.25,482.02 L170.00,482.41 L169.77,482.75 L169.59,483.00 L169.40,483.25 L169.20,483.50 L168.99,483.75 L168.75,484.02 L168.50,484.29 L168.25,484.55 L168.00,484.80 L167.75,485.04 L167.50,485.27 L167.24,485.50 L166.95,485.75 L166.65,486.00 L166.33,486.25 L166.00,486.50 L165.75,486.68 L165.50,486.85 L165.25,487.02 L164.90,487.25 L164.50,487.49 L164.25,487.64 L164.00,487.78 L163.60,488.00 L163.25,488.18 L163.00,488.30 L162.55,488.50 L162.25,488.63 L161.94,488.75 L161.50,488.91 L161.21,489.00 L160.75,489.13 L160.25,489.24 L160.00,489.29 Z" fill="none" stroke="#2e2e2e" stroke-width="0.7"/>
<path d="M176.25,475.75 L175.88,475.75 L175.50,475.62 L175.25,475.36 L175.12,475.00 L175.09,474.50 L175.15,474.00 L175.25,473.60 L175.36,473.25 L175.50,472.89 L175.67,472.50 L175.79,472.25 L176.00,471.86 L176.21,471.50 L176.36,471.25 L176.53,471.00 L176.75,470.69 L177.00,470.36 L177.25,470.05 L177.50,469.76 L177.74,469.50 L177.98,469.25 L178.24,469.00 L178.50,468.77 L178.75,468.56 L179.00,468.37 L179.25,468.20 L179.56,468.00 L180.00,467.77 L180.25,467.67 L180.75,467.53 L181.25,467.52 L181.74,467.75 L181.92,468.00 L182.02,468.25 L182.08,468.75 L182.04,469.25 L181.99,469.50 L181.85,470.00 L181.75,470.27 L181.55,470.75 L181.42,471.00 L181.25,471.33 L181.00,471.75 L180.84,472.00 L180.67,472.25 L180.49,472.50 L180.25,472.82 L180.00,473.13 L179.75,473.41 L179.50,473.68 L179.25,473.94 L179.00,474.17 L178.75,474.40 L178.50,474.61 L178.25,474.80 L177.97,475.00 L177.57,475.25 L177.25,475.43 L177.00,475.54 L176.50,475.71 L176.25,475.75 Z" fill="none" stroke="#151515" stroke-width="0.7"/>
<path d="M161.25,488.01 L160.75,488.11 L160.25,488.16 L159.75,488.15 L159.25,488.06 L159.00,487.96 L158.69,487.75 L158.48,487.50 L158.32,487.00 L158.32,486.50 L158.45,486.00 L158.54,485.75 L158.75,485.31 L158.93,485.00 L159.09,484.75 L159.26,484.50 L159.50,484.19 L159.75,483.89 L160.00,483.61 L160.25,483.35 L160.50,483.11 L160.75,482.87 L161.00,482.65 L161.25,482.44 L161.50,482.24 L161.81,482.00 L162.15,481.75 L162.50,481.51 L162.75,481.35 L163.00,481.19 L163.33,481.00 L163.75,480.77 L164.00,480.64 L164.30,480.50 L164.75,480.30 L165.00,480.20 L165.50,480.02 L165.75,479.94 L166.25,479.82 L166.59,479.75 L167.00,479.70 L167.50,479.68 L168.00,479.73 L168.25,479.79 L168.68,480.00 L168.94,480.25 L169.07,480.50 L169.16,481.00 L169.09,481.50 L169.00,481.79 L168.81,482.25 L168.68,482.50 L168.50,482.80 L168.25,483.18 L168.01,483.50 L167.81,483.75 L167.60,484.00 L167.37,484.25 L167.13,484.50 L166.88,484.75 L166.61,485.00 L166.32,485.25 L166.02,485.50 L165.75,485.72 L165.50,485.91 L165.25,486.09 L165.00,486.26 L164.63,486.50 L164.25,486.74 L164.00,486.88 L163.75,487.02 L163.30,487.25 L163.00,487.39 L162.75,487.50 L162.25,487.70 L162.00,487.79 L161.50,487.95 L161.25,488.01 Z" fill="none" stroke="#151515" stroke-width="0.7"/>
<path d="M177.75,473.82 L177.25,473.95 L176.75,473.75 L176.65,473.50 L176.65,473.00 L176.75,472.57 L176.87,472.25 L177.00,471.97 L177.25,471.51 L177.42,471.25 L177.60,471.00 L177.80,470.75 L178.01,470.50 L178.25,470.25 L178.52,470.00 L178.83,469.75 L179.21,469.50 L179.50,469.36 L179.92,469.25 L180.08,469.25 L180.50,469.49 L180.59,469.75 L180.58,470.25 L180.50,470.57 L180.34,471.00 L180.22,471.25 L180.00,471.65 L179.77,472.00 L179.59,472.25 L179.38,472.50 L179.16,472.75 L178.91,473.00 L178.63,473.25 L178.31,473.50 L178.00,473.69 L177.75,473.82 Z" fill="#050505" stroke="#050505" stroke-width="0.7"/>
<path d="M161.00,487.00 L160.75,486.98 L160.25,486.83 L160.00,486.63 L159.80,486.25 L159.80,485.75 L159.95,485.25 L160.07,485.00 L160.25,484.69 L160.50,484.32 L160.75,484.01 L160.97,483.75 L161.21,483.50 L161.47,483.25 L161.75,483.00 L162.00,482.80 L162.25,482.60 L162.50,482.42 L162.75,482.24 L163.13,482.00 L163.50,481.78 L163.75,481.65 L164.05,481.50 L164.50,481.30 L164.75,481.21 L165.25,481.05 L165.50,480.98 L166.00,480.90 L166.50,480.89 L167.00,481.00 L167.25,481.15 L167.50,481.47 L167.57,481.75 L167.52,482.25 L167.44,482.50 L167.25,482.92 L167.06,483.25 L166.89,483.50 L166.70,483.75 L166.49,484.00 L166.25,484.26 L166.00,484.51 L165.74,484.75 L165.45,485.00 L165.13,485.25 L164.80,485.50 L164.50,485.70 L164.25,485.86 L164.00,486.01 L163.56,486.25 L163.25,486.41 L163.00,486.52 L162.50,486.71 L162.25,486.80 L161.75,486.92 L161.25,486.99 L161.00,487.00 Z" fill="#050505" stroke="#050505" stroke-width="0.7"/>
<path d="M162.50,485.80 L162.00,485.86 L161.51,485.75 L161.28,485.50 L161.23,485.25 L161.26,485.00 L161.47,484.50 L161.64,484.25 L161.83,484.00 L162.05,483.75 L162.31,483.50 L162.60,483.25 L162.93,483.00 L163.25,482.78 L163.50,482.64 L163.75,482.50 L164.25,482.28 L164.50,482.19 L165.00,482.07 L165.50,482.06 L165.93,482.25 L166.07,482.50 L166.03,483.00 L165.92,483.25 L165.75,483.55 L165.50,483.88 L165.25,484.16 L165.00,484.41 L164.75,484.62 L164.50,484.82 L164.25,485.00 L163.85,485.25 L163.50,485.44 L163.25,485.55 L162.75,485.74 L162.50,485.80 Z" fill="#000" stroke="#000" stroke-width="0.7"/>
<path d="M190.2,453.8 C189.6,450.4 194,448.2 199,447.4 C203,446.8 204.4,448.6 203.2,451.6 C202,455.2 199.4,457.4 195.4,457.2 C192.6,457 190.6,455.8 190.2,453.8 Z" fill="none" stroke="#777" stroke-width="0.6"/>
<ellipse cx="196.40" cy="452.60" rx="2.6" ry="1.6" transform="rotate(-20 196.40 452.60)" fill="none" stroke="#666" stroke-width="0.6"/>
<line x1="18.10" y1="472.00" x2="18.10" y2="524.90" stroke="#222" stroke-width="1" />
<path d="M18.1,469.4 L15.8,474.4 L20.4,474.4 Z" fill="#222"/>
<line x1="18.10" y1="524.90" x2="67.50" y2="524.90" stroke="#222" stroke-width="1" />
<path d="M70.3,524.9 L65.3,522.6 L65.3,527.2 Z" fill="#222"/>
<text transform="translate(13.9,496.4) rotate(-90)" font-size="8.5" text-anchor="middle" fill="#222">CaspGlow</text>
<text x="41.50" y="534.60" font-size="8.5" text-anchor="middle" fill="#222" >DAPI</text>
<line x1="257.50" y1="308.00" x2="257.50" y2="390.00" stroke="#333" stroke-width="1.2" />
<line x1="256.90" y1="389.40" x2="321.60" y2="389.40" stroke="#333" stroke-width="1.2" />
<line x1="253.90" y1="389.40" x2="257.50" y2="389.40" stroke="#333" stroke-width="1" />
<text x="252.50" y="392.30" font-size="8.3" text-anchor="end" fill="#222" >0</text>
<line x1="253.90" y1="370.12" x2="257.50" y2="370.12" stroke="#333" stroke-width="1" />
<text x="252.50" y="373.02" font-size="8.3" text-anchor="end" fill="#222" >20</text>
<line x1="253.90" y1="350.85" x2="257.50" y2="350.85" stroke="#333" stroke-width="1" />
<text x="252.50" y="353.75" font-size="8.3" text-anchor="end" fill="#222" >40</text>
<line x1="253.90" y1="331.57" x2="257.50" y2="331.57" stroke="#333" stroke-width="1" />
<text x="252.50" y="334.47" font-size="8.3" text-anchor="end" fill="#222" >60</text>
<line x1="253.90" y1="312.30" x2="257.50" y2="312.30" stroke="#333" stroke-width="1" />
<text x="252.50" y="315.20" font-size="8.3" text-anchor="end" fill="#222" >80</text>
<text transform="translate(236.4,348.8) rotate(-90)" font-size="10.2" text-anchor="middle" fill="#222" textLength="64" lengthAdjust="spacingAndGlyphs">% Caspase3a<tspan dy="-3.6" font-size="7">+</tspan><tspan dy="3.6"> cells</tspan></text>
<rect x="260.50" y="386.89" width="11.00" height="2.51" fill="#dadade" stroke="none" stroke-width="0" />
<line x1="266.50" y1="386.89" x2="266.50" y2="385.45" stroke="#222" stroke-width="1.1" />
<line x1="263.75" y1="385.45" x2="269.25" y2="385.45" stroke="#222" stroke-width="1.3" />
<rect x="273.80" y="383.81" width="12.00" height="5.59" fill="#e58a96" stroke="none" stroke-width="0" />
<line x1="279.60" y1="383.81" x2="279.60" y2="382.36" stroke="#222" stroke-width="1.1" />
<line x1="276.85" y1="382.36" x2="282.35" y2="382.36" stroke="#222" stroke-width="1.3" />
<rect x="294.30" y="372.82" width="11.40" height="16.58" fill="#bdbdc2" stroke="none" stroke-width="0" />
<line x1="300.20" y1="372.82" x2="300.20" y2="370.51" stroke="#222" stroke-width="1.1" />
<line x1="297.45" y1="370.51" x2="302.95" y2="370.51" stroke="#222" stroke-width="1.3" />
<rect x="308.20" y="333.89" width="11.30" height="55.51" fill="#c8102e" stroke="none" stroke-width="0" />
<line x1="314.20" y1="333.89" x2="314.20" y2="331.00" stroke="#222" stroke-width="1.1" />
<line x1="311.45" y1="331.00" x2="316.95" y2="331.00" stroke="#222" stroke-width="1.3" />
<line x1="273.10" y1="389.40" x2="273.10" y2="392.40" stroke="#333" stroke-width="1" />
<line x1="306.60" y1="389.40" x2="306.60" y2="392.40" stroke="#333" stroke-width="1" />
<text x="273.00" y="401.60" font-size="8.5" text-anchor="middle" fill="#222" >No MCLi</text>
<text x="307.30" y="401.60" font-size="8.5" text-anchor="middle" fill="#222" >+ MCLi</text>
<rect x="265.00" y="300.00" width="6.30" height="5.80" fill="#bdbdc2" stroke="none" stroke-width="0" />
<text x="273.80" y="306.00" font-size="8" text-anchor="start" fill="#222" >No PIMi</text>
<rect x="265.00" y="308.80" width="6.30" height="5.80" fill="#c8102e" stroke="none" stroke-width="0" />
<text x="273.80" y="314.70" font-size="8" text-anchor="start" fill="#222" >PIMi</text>
<line x1="280.50" y1="320.10" x2="313.50" y2="320.10" stroke="#333" stroke-width="1.1" />
<line x1="298.50" y1="324.40" x2="313.50" y2="324.40" stroke="#333" stroke-width="1.1" />
<line x1="295.60" y1="314.25" x2="295.60" y2="317.55" stroke="#222" stroke-width="1.0" />
<line x1="294.17" y1="315.07" x2="297.03" y2="316.72" stroke="#222" stroke-width="1.0" />
<line x1="297.03" y1="315.07" x2="294.17" y2="316.72" stroke="#222" stroke-width="1.0" />
<line x1="299.20" y1="314.25" x2="299.20" y2="317.55" stroke="#222" stroke-width="1.0" />
<line x1="297.77" y1="315.07" x2="300.63" y2="316.72" stroke="#222" stroke-width="1.0" />
<line x1="300.63" y1="315.07" x2="297.77" y2="316.72" stroke="#222" stroke-width="1.0" />
<text x="255.20" y="424.00" font-size="7.8" text-anchor="end" fill="#222" >MCL1i:</text>
<text x="255.20" y="434.00" font-size="7.8" text-anchor="end" fill="#222" >PIMi:</text>
<text x="270.00" y="424.40" font-size="8" text-anchor="middle" fill="#222" >&#8211;</text>
<text x="270.00" y="434.40" font-size="8" text-anchor="middle" fill="#222" >&#8211;</text>
<text x="286.90" y="424.40" font-size="8" text-anchor="middle" fill="#222" >&#8211;</text>
<text x="286.90" y="434.40" font-size="8" text-anchor="middle" fill="#222" >+</text>
<text x="303.50" y="424.40" font-size="8" text-anchor="middle" fill="#222" >+</text>
<text x="303.50" y="434.40" font-size="8" text-anchor="middle" fill="#222" >&#8211;</text>
<text x="318.50" y="424.40" font-size="8" text-anchor="middle" fill="#222" >+</text>
<text x="318.50" y="434.40" font-size="8" text-anchor="middle" fill="#222" >+</text>
<rect x="258.30" y="437.30" width="71.20" height="40.20" fill="#f5f5f5" stroke="#222" stroke-width="1.3" />
<rect x="258.30" y="481.20" width="71.20" height="23.80" fill="#f5f5f5" stroke="#222" stroke-width="1.3" />
<rect x="258.30" y="508.60" width="71.20" height="11.40" fill="#f5f5f5" stroke="#222" stroke-width="1.3" />
<defs><filter id="bl" x="-20%" y="-50%" width="140%" height="200%"><feGaussianBlur stdDeviation="0.5"/></filter></defs>
<rect x="260.90" y="443.00" width="18.20" height="5.00" rx="2.50" fill="#050505" opacity="1" filter="url(#bl)"/>
<rect x="277.90" y="443.00" width="17.70" height="5.00" rx="2.50" fill="#050505" opacity="1" filter="url(#bl)"/>
<rect x="294.40" y="443.00" width="17.70" height="5.00" rx="2.50" fill="#050505" opacity="1" filter="url(#bl)"/>
<rect x="310.90" y="443.00" width="18.20" height="5.00" rx="2.50" fill="#050505" opacity="1" filter="url(#bl)"/>
<rect x="297.00" y="471.80" width="13.50" height="1.60" rx="0.80" fill="#aaa" opacity="1" filter="url(#bl)"/>
<rect x="312.00" y="470.90" width="16.20" height="3.00" rx="1.50" fill="#0a0a0a" opacity="1" filter="url(#bl)"/>
<rect x="263.00" y="486.40" width="14.50" height="3.60" rx="1.80" fill="#0a0a0a" opacity="1" filter="url(#bl)"/>
<rect x="280.00" y="486.40" width="14.00" height="3.60" rx="1.80" fill="#0a0a0a" opacity="1" filter="url(#bl)"/>
<rect x="296.50" y="486.40" width="14.00" height="3.60" rx="1.80" fill="#0a0a0a" opacity="1" filter="url(#bl)"/>
<rect x="313.50" y="484.50" width="14.50" height="3.00" rx="1.50" fill="#c4c4c4" opacity="1" filter="url(#bl)"/>
<rect x="263.00" y="498.10" width="14.00" height="1.40" rx="0.70" fill="#d0d0d0" opacity="1" filter="url(#bl)"/>
<rect x="280.00" y="498.20" width="14.00" height="1.20" rx="0.60" fill="#d4d4d4" opacity="1" filter="url(#bl)"/>
<rect x="296.50" y="497.90" width="14.00" height="2.20" rx="1.10" fill="#808080" opacity="1" filter="url(#bl)"/>
<rect x="313.50" y="497.20" width="14.50" height="2.80" rx="1.40" fill="#111" opacity="1" filter="url(#bl)"/>
<rect x="261.70" y="512.60" width="16.60" height="2.80" rx="1.40" fill="#151515" opacity="1" filter="url(#bl)"/>
<rect x="278.70" y="512.60" width="16.10" height="2.80" rx="1.40" fill="#151515" opacity="1" filter="url(#bl)"/>
<rect x="295.20" y="512.60" width="16.10" height="2.80" rx="1.40" fill="#151515" opacity="1" filter="url(#bl)"/>
<rect x="311.70" y="512.60" width="16.60" height="2.80" rx="1.40" fill="#151515" opacity="1" filter="url(#bl)"/>
<text x="255.20" y="447.10" font-size="7.8" text-anchor="end" fill="#222" >CASP3</text>
<text x="255.20" y="471.10" font-size="7.8" text-anchor="end" fill="#222" >cl-CASP3</text>
<text x="255.20" y="489.50" font-size="7.8" text-anchor="end" fill="#222" >PARP</text>
<text x="255.20" y="500.60" font-size="7.8" text-anchor="end" fill="#222" >cl-PARP</text>
<text x="255.20" y="516.10" font-size="7.8" text-anchor="end" fill="#222" >&#946;-actin</text>
<text x="333.70" y="449.10" font-size="7.8" text-anchor="start" fill="#222" >32</text>
<text x="333.70" y="467.50" font-size="7.8" text-anchor="start" fill="#222" >19</text>
<text x="333.70" y="476.20" font-size="7.8" text-anchor="start" fill="#222" >17</text>
<text x="333.70" y="490.30" font-size="7.8" text-anchor="start" fill="#222" >116</text>
<text x="333.70" y="500.70" font-size="7.8" text-anchor="start" fill="#222" >87</text>
<text x="333.70" y="516.80" font-size="7.8" text-anchor="start" fill="#222" >42</text>
<text x="342.8" y="302.2" font-size="10" font-weight="bold" fill="#000">H</text>
<line x1="381.30" y1="309.00" x2="381.30" y2="418.60" stroke="#333" stroke-width="1.3" />
<line x1="380.70" y1="417.90" x2="512.60" y2="417.90" stroke="#333" stroke-width="1.3" />
<line x1="377.30" y1="417.90" x2="381.30" y2="417.90" stroke="#333" stroke-width="1" />
<text x="376.00" y="420.80" font-size="8.3" text-anchor="end" fill="#222" >0</text>
<line x1="377.30" y1="391.72" x2="381.30" y2="391.72" stroke="#333" stroke-width="1" />
<text x="376.00" y="394.62" font-size="8.3" text-anchor="end" fill="#222" >25</text>
<line x1="377.30" y1="365.55" x2="381.30" y2="365.55" stroke="#333" stroke-width="1" />
<text x="376.00" y="368.45" font-size="8.3" text-anchor="end" fill="#222" >50</text>
<line x1="377.30" y1="339.38" x2="381.30" y2="339.38" stroke="#333" stroke-width="1" />
<text x="376.00" y="342.27" font-size="8.3" text-anchor="end" fill="#222" >75</text>
<line x1="377.30" y1="313.20" x2="381.30" y2="313.20" stroke="#333" stroke-width="1" />
<text x="376.00" y="316.10" font-size="8.3" text-anchor="end" fill="#222" >100</text>
<text transform="translate(357.2,363.2) rotate(-90)" font-size="9" text-anchor="middle" fill="#222" textLength="51.7" lengthAdjust="spacingAndGlyphs">% of viable cells</text>
<rect x="384.80" y="313.20" width="10.80" height="104.70" fill="#dcdce0" stroke="none" stroke-width="0" />
<rect x="398.10" y="323.00" width="10.70" height="94.90" fill="#fbdb8c" stroke="none" stroke-width="0" />
<rect x="411.40" y="330.60" width="11.30" height="87.30" fill="#9ed9a4" stroke="none" stroke-width="0" />
<rect x="425.00" y="341.00" width="11.20" height="76.90" fill="#e07f8f" stroke="none" stroke-width="0" />
<line x1="403.50" y1="323.00" x2="403.50" y2="315.00" stroke="#111" stroke-width="1.1" />
<line x1="400.35" y1="315.00" x2="406.65" y2="315.00" stroke="#111" stroke-width="1.4" />
<line x1="417.00" y1="330.60" x2="417.00" y2="317.90" stroke="#111" stroke-width="1.1" />
<line x1="413.85" y1="317.90" x2="420.15" y2="317.90" stroke="#111" stroke-width="1.4" />
<line x1="430.40" y1="341.00" x2="430.40" y2="331.10" stroke="#111" stroke-width="1.1" />
<line x1="427.25" y1="331.10" x2="433.55" y2="331.10" stroke="#111" stroke-width="1.4" />
<rect x="460.80" y="313.20" width="10.70" height="104.70" fill="#dcdce0" stroke="none" stroke-width="0" />
<rect x="474.20" y="337.70" width="10.70" height="80.20" fill="#fbdb8c" stroke="none" stroke-width="0" />
<rect x="487.40" y="352.80" width="10.80" height="65.10" fill="#9ed9a4" stroke="none" stroke-width="0" />
<rect x="501.20" y="397.90" width="10.80" height="20.00" fill="#e07f8f" stroke="none" stroke-width="0" />
<line x1="479.50" y1="337.70" x2="479.50" y2="318.20" stroke="#111" stroke-width="1.1" />
<line x1="476.35" y1="318.20" x2="482.65" y2="318.20" stroke="#111" stroke-width="1.4" />
<line x1="492.90" y1="352.80" x2="492.90" y2="339.70" stroke="#111" stroke-width="1.1" />
<line x1="489.75" y1="339.70" x2="496.05" y2="339.70" stroke="#111" stroke-width="1.4" />
<line x1="506.70" y1="397.90" x2="506.70" y2="392.00" stroke="#111" stroke-width="1.1" />
<line x1="503.95" y1="392.00" x2="509.45" y2="392.00" stroke="#111" stroke-width="1.4" />
<circle cx="386.7" cy="313.3" r="1.65" fill="#a9a9ad" stroke="#d0d0d4" stroke-width="0.35"/>
<circle cx="389.3" cy="313.3" r="1.65" fill="#a9a9ad" stroke="#d0d0d4" stroke-width="0.35"/>
<circle cx="391.9" cy="313.3" r="1.65" fill="#a9a9ad" stroke="#d0d0d4" stroke-width="0.35"/>
<circle cx="394.5" cy="313.3" r="1.65" fill="#a9a9ad" stroke="#d0d0d4" stroke-width="0.35"/>
<circle cx="462.5" cy="313.2" r="1.65" fill="#a9a9ad" stroke="#d0d0d4" stroke-width="0.35"/>
<circle cx="465.1" cy="313.2" r="1.65" fill="#a9a9ad" stroke="#d0d0d4" stroke-width="0.35"/>
<circle cx="467.7" cy="313.2" r="1.65" fill="#a9a9ad" stroke="#d0d0d4" stroke-width="0.35"/>
<circle cx="470.3" cy="313.2" r="1.65" fill="#a9a9ad" stroke="#d0d0d4" stroke-width="0.35"/>
<circle cx="403.60" cy="309.00" r="1.9" fill="#f6b01e"/>
<circle cx="399.80" cy="320.50" r="1.9" fill="#f6b01e"/>
<circle cx="407.30" cy="322.80" r="1.9" fill="#f6b01e"/>
<circle cx="399.80" cy="324.50" r="1.9" fill="#f6b01e"/>
<circle cx="399.80" cy="329.10" r="1.9" fill="#f6b01e"/>
<circle cx="407.30" cy="329.10" r="1.9" fill="#f6b01e"/>
<circle cx="416.90" cy="309.00" r="1.9" fill="#2db24a"/>
<circle cx="416.90" cy="326.30" r="1.9" fill="#2db24a"/>
<circle cx="413.10" cy="332.60" r="1.9" fill="#2db24a"/>
<circle cx="420.60" cy="330.70" r="1.9" fill="#2db24a"/>
<circle cx="413.10" cy="341.80" r="1.9" fill="#2db24a"/>
<circle cx="420.60" cy="341.10" r="1.9" fill="#2db24a"/>
<circle cx="430.40" cy="326.50" r="1.9" fill="#c8102e"/>
<circle cx="430.40" cy="332.90" r="1.9" fill="#c8102e"/>
<circle cx="434.20" cy="342.40" r="1.9" fill="#c8102e"/>
<circle cx="426.50" cy="346.10" r="1.9" fill="#c8102e"/>
<circle cx="434.20" cy="347.60" r="1.9" fill="#c8102e"/>
<circle cx="426.50" cy="350.50" r="1.9" fill="#c8102e"/>
<circle cx="475.50" cy="314.80" r="1.9" fill="#f6b01e"/>
<circle cx="483.20" cy="314.60" r="1.9" fill="#f6b01e"/>
<circle cx="479.50" cy="338.00" r="1.9" fill="#f6b01e"/>
<circle cx="479.50" cy="344.00" r="1.9" fill="#f6b01e"/>
<circle cx="479.50" cy="352.00" r="1.9" fill="#f6b01e"/>
<circle cx="479.50" cy="361.20" r="1.9" fill="#f6b01e"/>
<circle cx="492.90" cy="327.20" r="1.9" fill="#2db24a"/>
<circle cx="490.80" cy="354.00" r="1.9" fill="#2db24a"/>
<circle cx="494.40" cy="353.50" r="1.9" fill="#2db24a"/>
<circle cx="492.90" cy="359.50" r="1.9" fill="#2db24a"/>
<circle cx="489.00" cy="363.00" r="1.9" fill="#2db24a"/>
<circle cx="496.60" cy="363.00" r="1.9" fill="#2db24a"/>
<circle cx="503.70" cy="392.00" r="1.9" fill="#c8102e"/>
<circle cx="508.00" cy="389.50" r="1.9" fill="#c8102e"/>
<circle cx="509.80" cy="397.70" r="1.9" fill="#c8102e"/>
<circle cx="506.30" cy="400.20" r="1.9" fill="#c8102e"/>
<circle cx="502.30" cy="403.50" r="1.9" fill="#c8102e"/>
<circle cx="509.80" cy="403.50" r="1.9" fill="#c8102e"/>
<line x1="480.30" y1="306.60" x2="511.10" y2="306.60" stroke="#333" stroke-width="1.1" />
<line x1="494.60" y1="301.55" x2="494.60" y2="304.85" stroke="#222" stroke-width="1.0" />
<line x1="493.17" y1="302.38" x2="496.03" y2="304.02" stroke="#222" stroke-width="1.0" />
<line x1="496.03" y1="302.38" x2="493.17" y2="304.02" stroke="#222" stroke-width="1.0" />
<line x1="498.00" y1="301.55" x2="498.00" y2="304.85" stroke="#222" stroke-width="1.0" />
<line x1="496.57" y1="302.38" x2="499.43" y2="304.02" stroke="#222" stroke-width="1.0" />
<line x1="499.43" y1="302.38" x2="496.57" y2="304.02" stroke="#222" stroke-width="1.0" />
<line x1="494.60" y1="320.30" x2="511.10" y2="320.30" stroke="#333" stroke-width="1.1" />
<line x1="501.60" y1="314.95" x2="501.60" y2="318.25" stroke="#222" stroke-width="1.0" />
<line x1="500.17" y1="315.78" x2="503.03" y2="317.43" stroke="#222" stroke-width="1.0" />
<line x1="503.03" y1="315.78" x2="500.17" y2="317.43" stroke="#222" stroke-width="1.0" />
<line x1="505.00" y1="314.95" x2="505.00" y2="318.25" stroke="#222" stroke-width="1.0" />
<line x1="503.57" y1="315.78" x2="506.43" y2="317.43" stroke="#222" stroke-width="1.0" />
<line x1="506.43" y1="315.78" x2="503.57" y2="317.43" stroke="#222" stroke-width="1.0" />
<line x1="410.20" y1="417.90" x2="410.20" y2="420.90" stroke="#333" stroke-width="1" />
<line x1="486.20" y1="417.90" x2="486.20" y2="420.90" stroke="#333" stroke-width="1" />
<text x="409.50" y="430.20" font-size="8.3" text-anchor="middle" fill="#222" >Patients</text>
<text x="409.5" y="439.6" font-size="8.3" text-anchor="middle" fill="#222">CD138<tspan dy="-2.6" font-size="5.5">&#8211;</tspan><tspan dy="2.6"> cells</tspan></text>
<text x="486.00" y="430.20" font-size="8.3" text-anchor="middle" fill="#222" >Patients</text>
<text x="486" y="439.6" font-size="8.3" text-anchor="middle" fill="#222">CD138<tspan dy="-2.6" font-size="5.5">+</tspan><tspan dy="2.6"> MMC</tspan></text>
<rect x="455.00" y="452.10" width="5.80" height="5.80" fill="#b3b3b3" stroke="none" stroke-width="0" />
<text x="464.20" y="457.80" font-size="8" text-anchor="start" fill="#222" >CTL</text>
<rect x="455.00" y="461.70" width="5.80" height="5.80" fill="#f5b120" stroke="none" stroke-width="0" />
<text x="464.20" y="467.40" font-size="8" text-anchor="start" fill="#222" >PIMi</text>
<rect x="455.00" y="471.30" width="5.80" height="5.80" fill="#2eaa4a" stroke="none" stroke-width="0" />
<text x="464.20" y="477.00" font-size="8" text-anchor="start" fill="#222" >MCL1i</text>
<rect x="455.00" y="480.90" width="5.80" height="5.80" fill="#c8102e" stroke="none" stroke-width="0" />
<text x="464.20" y="486.60" font-size="8" text-anchor="start" fill="#222" >MCL1i + PIMi</text>
<rect x="0.5" y="0.5" width="519" height="540" fill="none" stroke="#000" stroke-width="1"/>
</svg>
</body></html>
